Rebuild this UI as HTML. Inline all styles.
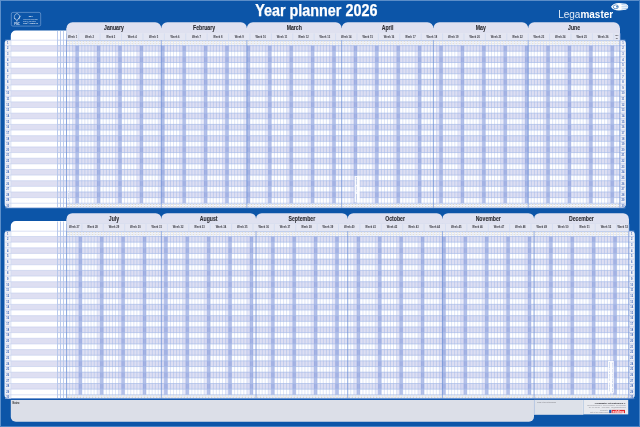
<!DOCTYPE html>
<html><head><meta charset="utf-8"><style>
html,body{margin:0;padding:0;width:640px;height:427px;overflow:hidden;background:#0c55a8;}
svg{display:block;font-family:"Liberation Sans", sans-serif;will-change:transform;}
</style></head><body>
<svg width="640" height="427" viewBox="0 0 640 427" font-family='"Liberation Sans", sans-serif'>
<rect x="0" y="0" width="640" height="427" fill="#0c55a8"/>
<rect x="0" y="0" width="640" height="1" fill="#5b8dc8"/>
<rect x="0" y="0" width="1" height="427" fill="#5d8fca"/>
<rect x="639" y="0" width="1" height="427" fill="#4a84c6"/>
<rect x="0" y="426" width="640" height="1" fill="#4a84c6"/>
<!-- title -->
<text x="255.2" y="15.9" font-size="16.2" font-weight="bold" fill="#ffffff" stroke="#ffffff" stroke-width="0.25" textLength="122.2" lengthAdjust="spacingAndGlyphs">Year planner 2026</text>
<!-- Legamaster -->
<text x="558.2" y="17.5" font-size="10.4" fill="#ffffff" textLength="55" lengthAdjust="spacingAndGlyphs"><tspan fill="#e4ecf7">Lega</tspan><tspan font-weight="bold">master</tspan></text>
<path d="M611,6.8 Q613,3 619,3 L626,3.8 Q628.5,5.5 628.3,6.8 Q628.5,8.2 626,9.8 L619,10.6 Q613,10.6 611,6.8 Z" fill="#ffffff"/>
<ellipse cx="615.8" cy="6.8" rx="2.6" ry="1.9" fill="none" stroke="#0c55a8" stroke-width="0.6"/>
<circle cx="617" cy="6.8" r="0.8" fill="#0c55a8"/>
<path d="M621.5,4.5 L627,5.2 M621.5,6.8 L628,6.8 M621.5,9.1 L627,8.4" stroke="#9cc0e8" stroke-width="0.8"/>
<!-- FSC -->
<rect x="11.3" y="12.4" width="29.4" height="13.7" rx="1.6" fill="none" stroke="#9dbbe2" stroke-width="0.5"/>
<path d="M15.0,19.2 C13.6,17.0 14.6,14.0 17.0,13.6 C19.4,14.0 20.4,17.0 19.0,19.2" stroke="#e6eef9" stroke-width="0.6" fill="none"/>
<path d="M14.4,18.0 L16.9,20.6 L20.6,15.8 M16.9,20.6 L16.9,21.6" stroke="#e6eef9" stroke-width="0.7" fill="none"/>
<text x="14.2" y="24.6" font-size="3.2" fill="#e6eef9" font-weight="bold" textLength="5.6" lengthAdjust="spacingAndGlyphs">FSC</text>
<text x="28.8" y="16.7" font-size="1.9" fill="#f0f5fb" font-weight="bold" textLength="3.9" lengthAdjust="spacingAndGlyphs">MIX</text>
<text x="23.2" y="19.7" font-size="1.9" fill="#d8e4f4" textLength="14.6" lengthAdjust="spacingAndGlyphs">Paper from responsible</text>
<text x="23.2" y="21.7" font-size="1.9" fill="#d8e4f4" textLength="12.6" lengthAdjust="spacingAndGlyphs">sources · FSC certified</text>
<text x="23.2" y="24.3" font-size="1.9" fill="#f0f5fb" font-weight="bold" textLength="14.6" lengthAdjust="spacingAndGlyphs">FSC® C106040</text>
<path d="M15.80,30.50 L66.50,30.50 L66.50,30.50 L66.50,207.80 L66.50,207.80 L10.80,207.80 L10.80,207.80 L10.80,35.50 A5.00,5.00 0 0 1 15.80,30.50 Z" fill="#ffffff" />
<rect x="66.50" y="40.20" width="553.40" height="167.60" fill="#ffffff" />
<path d="M7.50,40.20 L11.10,40.20 L11.10,40.20 L11.10,207.80 L11.10,207.80 L8.50,207.80 A3.80,3.80 0 0 1 4.70,204.00 L4.70,43.00 A2.80,2.80 0 0 1 7.50,40.20 Z" fill="#f0f1f7" />
<path d="M619.60,40.20 L622.70,40.20 A3.20,3.20 0 0 1 625.90,43.40 L625.90,204.00 A3.80,3.80 0 0 1 622.10,207.80 L619.60,207.80 L619.60,207.80 L619.60,40.20 L619.60,40.20 Z" fill="#f0f1f7" />
<rect x="10.80" y="45.60" width="609.10" height="5.63" fill="#dedff2" />
<rect x="10.80" y="56.86" width="609.10" height="5.63" fill="#dedff2" />
<rect x="10.80" y="68.12" width="609.10" height="5.63" fill="#dedff2" />
<rect x="10.80" y="79.38" width="609.10" height="5.63" fill="#dedff2" />
<rect x="10.80" y="90.64" width="609.10" height="5.63" fill="#dedff2" />
<rect x="10.80" y="101.90" width="609.10" height="5.63" fill="#dedff2" />
<rect x="10.80" y="113.16" width="609.10" height="5.63" fill="#dedff2" />
<rect x="10.80" y="124.42" width="609.10" height="5.63" fill="#dedff2" />
<rect x="10.80" y="135.68" width="609.10" height="5.63" fill="#dedff2" />
<rect x="10.80" y="146.94" width="609.10" height="5.63" fill="#dedff2" />
<rect x="10.80" y="158.20" width="609.10" height="5.63" fill="#dedff2" />
<rect x="10.80" y="169.46" width="609.10" height="5.63" fill="#dedff2" />
<rect x="10.80" y="180.72" width="609.10" height="5.63" fill="#dedff2" />
<rect x="10.80" y="191.98" width="609.10" height="5.63" fill="#dedff2" />
<line x1="66.50" y1="40.20" x2="66.50" y2="207.80" stroke="#c6d4f1" stroke-width="0.6" />
<line x1="69.56" y1="40.20" x2="69.56" y2="207.80" stroke="#c6d4f1" stroke-width="0.6" />
<line x1="72.61" y1="40.20" x2="72.61" y2="207.80" stroke="#c6d4f1" stroke-width="0.6" />
<line x1="75.67" y1="40.20" x2="75.67" y2="207.80" stroke="#c6d4f1" stroke-width="0.6" />
<line x1="78.73" y1="40.20" x2="78.73" y2="207.80" stroke="#c6d4f1" stroke-width="0.6" />
<line x1="81.79" y1="40.20" x2="81.79" y2="207.80" stroke="#c6d4f1" stroke-width="0.6" />
<line x1="84.84" y1="40.20" x2="84.84" y2="207.80" stroke="#c6d4f1" stroke-width="0.6" />
<line x1="87.90" y1="40.20" x2="87.90" y2="207.80" stroke="#c6d4f1" stroke-width="0.6" />
<line x1="90.96" y1="40.20" x2="90.96" y2="207.80" stroke="#c6d4f1" stroke-width="0.6" />
<line x1="94.02" y1="40.20" x2="94.02" y2="207.80" stroke="#c6d4f1" stroke-width="0.6" />
<line x1="97.07" y1="40.20" x2="97.07" y2="207.80" stroke="#c6d4f1" stroke-width="0.6" />
<line x1="100.13" y1="40.20" x2="100.13" y2="207.80" stroke="#c6d4f1" stroke-width="0.6" />
<line x1="103.19" y1="40.20" x2="103.19" y2="207.80" stroke="#c6d4f1" stroke-width="0.6" />
<line x1="106.25" y1="40.20" x2="106.25" y2="207.80" stroke="#c6d4f1" stroke-width="0.6" />
<line x1="109.30" y1="40.20" x2="109.30" y2="207.80" stroke="#c6d4f1" stroke-width="0.6" />
<line x1="112.36" y1="40.20" x2="112.36" y2="207.80" stroke="#c6d4f1" stroke-width="0.6" />
<line x1="115.42" y1="40.20" x2="115.42" y2="207.80" stroke="#c6d4f1" stroke-width="0.6" />
<line x1="118.48" y1="40.20" x2="118.48" y2="207.80" stroke="#c6d4f1" stroke-width="0.6" />
<line x1="121.53" y1="40.20" x2="121.53" y2="207.80" stroke="#c6d4f1" stroke-width="0.6" />
<line x1="124.59" y1="40.20" x2="124.59" y2="207.80" stroke="#c6d4f1" stroke-width="0.6" />
<line x1="127.65" y1="40.20" x2="127.65" y2="207.80" stroke="#c6d4f1" stroke-width="0.6" />
<line x1="130.71" y1="40.20" x2="130.71" y2="207.80" stroke="#c6d4f1" stroke-width="0.6" />
<line x1="133.76" y1="40.20" x2="133.76" y2="207.80" stroke="#c6d4f1" stroke-width="0.6" />
<line x1="136.82" y1="40.20" x2="136.82" y2="207.80" stroke="#c6d4f1" stroke-width="0.6" />
<line x1="139.88" y1="40.20" x2="139.88" y2="207.80" stroke="#c6d4f1" stroke-width="0.6" />
<line x1="142.94" y1="40.20" x2="142.94" y2="207.80" stroke="#c6d4f1" stroke-width="0.6" />
<line x1="145.99" y1="40.20" x2="145.99" y2="207.80" stroke="#c6d4f1" stroke-width="0.6" />
<line x1="149.05" y1="40.20" x2="149.05" y2="207.80" stroke="#c6d4f1" stroke-width="0.6" />
<line x1="152.11" y1="40.20" x2="152.11" y2="207.80" stroke="#c6d4f1" stroke-width="0.6" />
<line x1="155.17" y1="40.20" x2="155.17" y2="207.80" stroke="#c6d4f1" stroke-width="0.6" />
<line x1="158.22" y1="40.20" x2="158.22" y2="207.80" stroke="#c6d4f1" stroke-width="0.6" />
<line x1="161.28" y1="40.20" x2="161.28" y2="207.80" stroke="#c6d4f1" stroke-width="0.6" />
<line x1="164.34" y1="40.20" x2="164.34" y2="207.80" stroke="#c6d4f1" stroke-width="0.6" />
<line x1="167.40" y1="40.20" x2="167.40" y2="207.80" stroke="#c6d4f1" stroke-width="0.6" />
<line x1="170.45" y1="40.20" x2="170.45" y2="207.80" stroke="#c6d4f1" stroke-width="0.6" />
<line x1="173.51" y1="40.20" x2="173.51" y2="207.80" stroke="#c6d4f1" stroke-width="0.6" />
<line x1="176.57" y1="40.20" x2="176.57" y2="207.80" stroke="#c6d4f1" stroke-width="0.6" />
<line x1="179.63" y1="40.20" x2="179.63" y2="207.80" stroke="#c6d4f1" stroke-width="0.6" />
<line x1="182.68" y1="40.20" x2="182.68" y2="207.80" stroke="#c6d4f1" stroke-width="0.6" />
<line x1="185.74" y1="40.20" x2="185.74" y2="207.80" stroke="#c6d4f1" stroke-width="0.6" />
<line x1="188.80" y1="40.20" x2="188.80" y2="207.80" stroke="#c6d4f1" stroke-width="0.6" />
<line x1="191.86" y1="40.20" x2="191.86" y2="207.80" stroke="#c6d4f1" stroke-width="0.6" />
<line x1="194.91" y1="40.20" x2="194.91" y2="207.80" stroke="#c6d4f1" stroke-width="0.6" />
<line x1="197.97" y1="40.20" x2="197.97" y2="207.80" stroke="#c6d4f1" stroke-width="0.6" />
<line x1="201.03" y1="40.20" x2="201.03" y2="207.80" stroke="#c6d4f1" stroke-width="0.6" />
<line x1="204.09" y1="40.20" x2="204.09" y2="207.80" stroke="#c6d4f1" stroke-width="0.6" />
<line x1="207.14" y1="40.20" x2="207.14" y2="207.80" stroke="#c6d4f1" stroke-width="0.6" />
<line x1="210.20" y1="40.20" x2="210.20" y2="207.80" stroke="#c6d4f1" stroke-width="0.6" />
<line x1="213.26" y1="40.20" x2="213.26" y2="207.80" stroke="#c6d4f1" stroke-width="0.6" />
<line x1="216.32" y1="40.20" x2="216.32" y2="207.80" stroke="#c6d4f1" stroke-width="0.6" />
<line x1="219.37" y1="40.20" x2="219.37" y2="207.80" stroke="#c6d4f1" stroke-width="0.6" />
<line x1="222.43" y1="40.20" x2="222.43" y2="207.80" stroke="#c6d4f1" stroke-width="0.6" />
<line x1="225.49" y1="40.20" x2="225.49" y2="207.80" stroke="#c6d4f1" stroke-width="0.6" />
<line x1="228.55" y1="40.20" x2="228.55" y2="207.80" stroke="#c6d4f1" stroke-width="0.6" />
<line x1="231.60" y1="40.20" x2="231.60" y2="207.80" stroke="#c6d4f1" stroke-width="0.6" />
<line x1="234.66" y1="40.20" x2="234.66" y2="207.80" stroke="#c6d4f1" stroke-width="0.6" />
<line x1="237.72" y1="40.20" x2="237.72" y2="207.80" stroke="#c6d4f1" stroke-width="0.6" />
<line x1="240.78" y1="40.20" x2="240.78" y2="207.80" stroke="#c6d4f1" stroke-width="0.6" />
<line x1="243.83" y1="40.20" x2="243.83" y2="207.80" stroke="#c6d4f1" stroke-width="0.6" />
<line x1="246.89" y1="40.20" x2="246.89" y2="207.80" stroke="#c6d4f1" stroke-width="0.6" />
<line x1="249.95" y1="40.20" x2="249.95" y2="207.80" stroke="#c6d4f1" stroke-width="0.6" />
<line x1="253.00" y1="40.20" x2="253.00" y2="207.80" stroke="#c6d4f1" stroke-width="0.6" />
<line x1="256.06" y1="40.20" x2="256.06" y2="207.80" stroke="#c6d4f1" stroke-width="0.6" />
<line x1="259.12" y1="40.20" x2="259.12" y2="207.80" stroke="#c6d4f1" stroke-width="0.6" />
<line x1="262.18" y1="40.20" x2="262.18" y2="207.80" stroke="#c6d4f1" stroke-width="0.6" />
<line x1="265.23" y1="40.20" x2="265.23" y2="207.80" stroke="#c6d4f1" stroke-width="0.6" />
<line x1="268.29" y1="40.20" x2="268.29" y2="207.80" stroke="#c6d4f1" stroke-width="0.6" />
<line x1="271.35" y1="40.20" x2="271.35" y2="207.80" stroke="#c6d4f1" stroke-width="0.6" />
<line x1="274.41" y1="40.20" x2="274.41" y2="207.80" stroke="#c6d4f1" stroke-width="0.6" />
<line x1="277.46" y1="40.20" x2="277.46" y2="207.80" stroke="#c6d4f1" stroke-width="0.6" />
<line x1="280.52" y1="40.20" x2="280.52" y2="207.80" stroke="#c6d4f1" stroke-width="0.6" />
<line x1="283.58" y1="40.20" x2="283.58" y2="207.80" stroke="#c6d4f1" stroke-width="0.6" />
<line x1="286.64" y1="40.20" x2="286.64" y2="207.80" stroke="#c6d4f1" stroke-width="0.6" />
<line x1="289.69" y1="40.20" x2="289.69" y2="207.80" stroke="#c6d4f1" stroke-width="0.6" />
<line x1="292.75" y1="40.20" x2="292.75" y2="207.80" stroke="#c6d4f1" stroke-width="0.6" />
<line x1="295.81" y1="40.20" x2="295.81" y2="207.80" stroke="#c6d4f1" stroke-width="0.6" />
<line x1="298.87" y1="40.20" x2="298.87" y2="207.80" stroke="#c6d4f1" stroke-width="0.6" />
<line x1="301.92" y1="40.20" x2="301.92" y2="207.80" stroke="#c6d4f1" stroke-width="0.6" />
<line x1="304.98" y1="40.20" x2="304.98" y2="207.80" stroke="#c6d4f1" stroke-width="0.6" />
<line x1="308.04" y1="40.20" x2="308.04" y2="207.80" stroke="#c6d4f1" stroke-width="0.6" />
<line x1="311.10" y1="40.20" x2="311.10" y2="207.80" stroke="#c6d4f1" stroke-width="0.6" />
<line x1="314.15" y1="40.20" x2="314.15" y2="207.80" stroke="#c6d4f1" stroke-width="0.6" />
<line x1="317.21" y1="40.20" x2="317.21" y2="207.80" stroke="#c6d4f1" stroke-width="0.6" />
<line x1="320.27" y1="40.20" x2="320.27" y2="207.80" stroke="#c6d4f1" stroke-width="0.6" />
<line x1="323.33" y1="40.20" x2="323.33" y2="207.80" stroke="#c6d4f1" stroke-width="0.6" />
<line x1="326.38" y1="40.20" x2="326.38" y2="207.80" stroke="#c6d4f1" stroke-width="0.6" />
<line x1="329.44" y1="40.20" x2="329.44" y2="207.80" stroke="#c6d4f1" stroke-width="0.6" />
<line x1="332.50" y1="40.20" x2="332.50" y2="207.80" stroke="#c6d4f1" stroke-width="0.6" />
<line x1="335.56" y1="40.20" x2="335.56" y2="207.80" stroke="#c6d4f1" stroke-width="0.6" />
<line x1="338.61" y1="40.20" x2="338.61" y2="207.80" stroke="#c6d4f1" stroke-width="0.6" />
<line x1="341.67" y1="40.20" x2="341.67" y2="207.80" stroke="#c6d4f1" stroke-width="0.6" />
<line x1="344.73" y1="40.20" x2="344.73" y2="207.80" stroke="#c6d4f1" stroke-width="0.6" />
<line x1="347.79" y1="40.20" x2="347.79" y2="207.80" stroke="#c6d4f1" stroke-width="0.6" />
<line x1="350.84" y1="40.20" x2="350.84" y2="207.80" stroke="#c6d4f1" stroke-width="0.6" />
<line x1="353.90" y1="40.20" x2="353.90" y2="207.80" stroke="#c6d4f1" stroke-width="0.6" />
<line x1="356.96" y1="40.20" x2="356.96" y2="207.80" stroke="#c6d4f1" stroke-width="0.6" />
<line x1="360.02" y1="40.20" x2="360.02" y2="207.80" stroke="#c6d4f1" stroke-width="0.6" />
<line x1="363.07" y1="40.20" x2="363.07" y2="207.80" stroke="#c6d4f1" stroke-width="0.6" />
<line x1="366.13" y1="40.20" x2="366.13" y2="207.80" stroke="#c6d4f1" stroke-width="0.6" />
<line x1="369.19" y1="40.20" x2="369.19" y2="207.80" stroke="#c6d4f1" stroke-width="0.6" />
<line x1="372.25" y1="40.20" x2="372.25" y2="207.80" stroke="#c6d4f1" stroke-width="0.6" />
<line x1="375.30" y1="40.20" x2="375.30" y2="207.80" stroke="#c6d4f1" stroke-width="0.6" />
<line x1="378.36" y1="40.20" x2="378.36" y2="207.80" stroke="#c6d4f1" stroke-width="0.6" />
<line x1="381.42" y1="40.20" x2="381.42" y2="207.80" stroke="#c6d4f1" stroke-width="0.6" />
<line x1="384.48" y1="40.20" x2="384.48" y2="207.80" stroke="#c6d4f1" stroke-width="0.6" />
<line x1="387.53" y1="40.20" x2="387.53" y2="207.80" stroke="#c6d4f1" stroke-width="0.6" />
<line x1="390.59" y1="40.20" x2="390.59" y2="207.80" stroke="#c6d4f1" stroke-width="0.6" />
<line x1="393.65" y1="40.20" x2="393.65" y2="207.80" stroke="#c6d4f1" stroke-width="0.6" />
<line x1="396.71" y1="40.20" x2="396.71" y2="207.80" stroke="#c6d4f1" stroke-width="0.6" />
<line x1="399.76" y1="40.20" x2="399.76" y2="207.80" stroke="#c6d4f1" stroke-width="0.6" />
<line x1="402.82" y1="40.20" x2="402.82" y2="207.80" stroke="#c6d4f1" stroke-width="0.6" />
<line x1="405.88" y1="40.20" x2="405.88" y2="207.80" stroke="#c6d4f1" stroke-width="0.6" />
<line x1="408.94" y1="40.20" x2="408.94" y2="207.80" stroke="#c6d4f1" stroke-width="0.6" />
<line x1="411.99" y1="40.20" x2="411.99" y2="207.80" stroke="#c6d4f1" stroke-width="0.6" />
<line x1="415.05" y1="40.20" x2="415.05" y2="207.80" stroke="#c6d4f1" stroke-width="0.6" />
<line x1="418.11" y1="40.20" x2="418.11" y2="207.80" stroke="#c6d4f1" stroke-width="0.6" />
<line x1="421.17" y1="40.20" x2="421.17" y2="207.80" stroke="#c6d4f1" stroke-width="0.6" />
<line x1="424.22" y1="40.20" x2="424.22" y2="207.80" stroke="#c6d4f1" stroke-width="0.6" />
<line x1="427.28" y1="40.20" x2="427.28" y2="207.80" stroke="#c6d4f1" stroke-width="0.6" />
<line x1="430.34" y1="40.20" x2="430.34" y2="207.80" stroke="#c6d4f1" stroke-width="0.6" />
<line x1="433.40" y1="40.20" x2="433.40" y2="207.80" stroke="#c6d4f1" stroke-width="0.6" />
<line x1="436.45" y1="40.20" x2="436.45" y2="207.80" stroke="#c6d4f1" stroke-width="0.6" />
<line x1="439.51" y1="40.20" x2="439.51" y2="207.80" stroke="#c6d4f1" stroke-width="0.6" />
<line x1="442.57" y1="40.20" x2="442.57" y2="207.80" stroke="#c6d4f1" stroke-width="0.6" />
<line x1="445.62" y1="40.20" x2="445.62" y2="207.80" stroke="#c6d4f1" stroke-width="0.6" />
<line x1="448.68" y1="40.20" x2="448.68" y2="207.80" stroke="#c6d4f1" stroke-width="0.6" />
<line x1="451.74" y1="40.20" x2="451.74" y2="207.80" stroke="#c6d4f1" stroke-width="0.6" />
<line x1="454.80" y1="40.20" x2="454.80" y2="207.80" stroke="#c6d4f1" stroke-width="0.6" />
<line x1="457.85" y1="40.20" x2="457.85" y2="207.80" stroke="#c6d4f1" stroke-width="0.6" />
<line x1="460.91" y1="40.20" x2="460.91" y2="207.80" stroke="#c6d4f1" stroke-width="0.6" />
<line x1="463.97" y1="40.20" x2="463.97" y2="207.80" stroke="#c6d4f1" stroke-width="0.6" />
<line x1="467.03" y1="40.20" x2="467.03" y2="207.80" stroke="#c6d4f1" stroke-width="0.6" />
<line x1="470.08" y1="40.20" x2="470.08" y2="207.80" stroke="#c6d4f1" stroke-width="0.6" />
<line x1="473.14" y1="40.20" x2="473.14" y2="207.80" stroke="#c6d4f1" stroke-width="0.6" />
<line x1="476.20" y1="40.20" x2="476.20" y2="207.80" stroke="#c6d4f1" stroke-width="0.6" />
<line x1="479.26" y1="40.20" x2="479.26" y2="207.80" stroke="#c6d4f1" stroke-width="0.6" />
<line x1="482.31" y1="40.20" x2="482.31" y2="207.80" stroke="#c6d4f1" stroke-width="0.6" />
<line x1="485.37" y1="40.20" x2="485.37" y2="207.80" stroke="#c6d4f1" stroke-width="0.6" />
<line x1="488.43" y1="40.20" x2="488.43" y2="207.80" stroke="#c6d4f1" stroke-width="0.6" />
<line x1="491.49" y1="40.20" x2="491.49" y2="207.80" stroke="#c6d4f1" stroke-width="0.6" />
<line x1="494.54" y1="40.20" x2="494.54" y2="207.80" stroke="#c6d4f1" stroke-width="0.6" />
<line x1="497.60" y1="40.20" x2="497.60" y2="207.80" stroke="#c6d4f1" stroke-width="0.6" />
<line x1="500.66" y1="40.20" x2="500.66" y2="207.80" stroke="#c6d4f1" stroke-width="0.6" />
<line x1="503.72" y1="40.20" x2="503.72" y2="207.80" stroke="#c6d4f1" stroke-width="0.6" />
<line x1="506.77" y1="40.20" x2="506.77" y2="207.80" stroke="#c6d4f1" stroke-width="0.6" />
<line x1="509.83" y1="40.20" x2="509.83" y2="207.80" stroke="#c6d4f1" stroke-width="0.6" />
<line x1="512.89" y1="40.20" x2="512.89" y2="207.80" stroke="#c6d4f1" stroke-width="0.6" />
<line x1="515.95" y1="40.20" x2="515.95" y2="207.80" stroke="#c6d4f1" stroke-width="0.6" />
<line x1="519.00" y1="40.20" x2="519.00" y2="207.80" stroke="#c6d4f1" stroke-width="0.6" />
<line x1="522.06" y1="40.20" x2="522.06" y2="207.80" stroke="#c6d4f1" stroke-width="0.6" />
<line x1="525.12" y1="40.20" x2="525.12" y2="207.80" stroke="#c6d4f1" stroke-width="0.6" />
<line x1="528.18" y1="40.20" x2="528.18" y2="207.80" stroke="#c6d4f1" stroke-width="0.6" />
<line x1="531.23" y1="40.20" x2="531.23" y2="207.80" stroke="#c6d4f1" stroke-width="0.6" />
<line x1="534.29" y1="40.20" x2="534.29" y2="207.80" stroke="#c6d4f1" stroke-width="0.6" />
<line x1="537.35" y1="40.20" x2="537.35" y2="207.80" stroke="#c6d4f1" stroke-width="0.6" />
<line x1="540.41" y1="40.20" x2="540.41" y2="207.80" stroke="#c6d4f1" stroke-width="0.6" />
<line x1="543.46" y1="40.20" x2="543.46" y2="207.80" stroke="#c6d4f1" stroke-width="0.6" />
<line x1="546.52" y1="40.20" x2="546.52" y2="207.80" stroke="#c6d4f1" stroke-width="0.6" />
<line x1="549.58" y1="40.20" x2="549.58" y2="207.80" stroke="#c6d4f1" stroke-width="0.6" />
<line x1="552.64" y1="40.20" x2="552.64" y2="207.80" stroke="#c6d4f1" stroke-width="0.6" />
<line x1="555.69" y1="40.20" x2="555.69" y2="207.80" stroke="#c6d4f1" stroke-width="0.6" />
<line x1="558.75" y1="40.20" x2="558.75" y2="207.80" stroke="#c6d4f1" stroke-width="0.6" />
<line x1="561.81" y1="40.20" x2="561.81" y2="207.80" stroke="#c6d4f1" stroke-width="0.6" />
<line x1="564.87" y1="40.20" x2="564.87" y2="207.80" stroke="#c6d4f1" stroke-width="0.6" />
<line x1="567.92" y1="40.20" x2="567.92" y2="207.80" stroke="#c6d4f1" stroke-width="0.6" />
<line x1="570.98" y1="40.20" x2="570.98" y2="207.80" stroke="#c6d4f1" stroke-width="0.6" />
<line x1="574.04" y1="40.20" x2="574.04" y2="207.80" stroke="#c6d4f1" stroke-width="0.6" />
<line x1="577.10" y1="40.20" x2="577.10" y2="207.80" stroke="#c6d4f1" stroke-width="0.6" />
<line x1="580.15" y1="40.20" x2="580.15" y2="207.80" stroke="#c6d4f1" stroke-width="0.6" />
<line x1="583.21" y1="40.20" x2="583.21" y2="207.80" stroke="#c6d4f1" stroke-width="0.6" />
<line x1="586.27" y1="40.20" x2="586.27" y2="207.80" stroke="#c6d4f1" stroke-width="0.6" />
<line x1="589.33" y1="40.20" x2="589.33" y2="207.80" stroke="#c6d4f1" stroke-width="0.6" />
<line x1="592.38" y1="40.20" x2="592.38" y2="207.80" stroke="#c6d4f1" stroke-width="0.6" />
<line x1="595.44" y1="40.20" x2="595.44" y2="207.80" stroke="#c6d4f1" stroke-width="0.6" />
<line x1="598.50" y1="40.20" x2="598.50" y2="207.80" stroke="#c6d4f1" stroke-width="0.6" />
<line x1="601.56" y1="40.20" x2="601.56" y2="207.80" stroke="#c6d4f1" stroke-width="0.6" />
<line x1="604.61" y1="40.20" x2="604.61" y2="207.80" stroke="#c6d4f1" stroke-width="0.6" />
<line x1="607.67" y1="40.20" x2="607.67" y2="207.80" stroke="#c6d4f1" stroke-width="0.6" />
<line x1="610.73" y1="40.20" x2="610.73" y2="207.80" stroke="#c6d4f1" stroke-width="0.6" />
<line x1="613.79" y1="40.20" x2="613.79" y2="207.80" stroke="#c6d4f1" stroke-width="0.6" />
<line x1="616.84" y1="40.20" x2="616.84" y2="207.80" stroke="#c6d4f1" stroke-width="0.6" />
<line x1="619.90" y1="40.20" x2="619.90" y2="207.80" stroke="#c6d4f1" stroke-width="0.6" />
<defs><pattern id="pat1" patternUnits="userSpaceOnUse" x="66.200" y="0" width="3.0575" height="10"><rect x="0" y="0" width="0.6" height="10" fill="#b8c6ec"/></pattern></defs>
<rect x="66.50" y="45.60" width="553.40" height="5.63" fill="url(#pat1)" />
<rect x="66.50" y="56.86" width="553.40" height="5.63" fill="url(#pat1)" />
<rect x="66.50" y="68.12" width="553.40" height="5.63" fill="url(#pat1)" />
<rect x="66.50" y="79.38" width="553.40" height="5.63" fill="url(#pat1)" />
<rect x="66.50" y="90.64" width="553.40" height="5.63" fill="url(#pat1)" />
<rect x="66.50" y="101.90" width="553.40" height="5.63" fill="url(#pat1)" />
<rect x="66.50" y="113.16" width="553.40" height="5.63" fill="url(#pat1)" />
<rect x="66.50" y="124.42" width="553.40" height="5.63" fill="url(#pat1)" />
<rect x="66.50" y="135.68" width="553.40" height="5.63" fill="url(#pat1)" />
<rect x="66.50" y="146.94" width="553.40" height="5.63" fill="url(#pat1)" />
<rect x="66.50" y="158.20" width="553.40" height="5.63" fill="url(#pat1)" />
<rect x="66.50" y="169.46" width="553.40" height="5.63" fill="url(#pat1)" />
<rect x="66.50" y="180.72" width="553.40" height="5.63" fill="url(#pat1)" />
<rect x="66.50" y="191.98" width="553.40" height="5.63" fill="url(#pat1)" />
<rect x="72.61" y="45.60" width="3.06" height="157.64" fill="#c4c6ee" fill-opacity="0.35"/>
<rect x="75.67" y="45.60" width="3.06" height="157.64" fill="#7088d4" fill-opacity="0.52"/>
<rect x="94.02" y="45.60" width="3.06" height="157.64" fill="#c4c6ee" fill-opacity="0.35"/>
<rect x="97.07" y="45.60" width="3.06" height="157.64" fill="#7088d4" fill-opacity="0.52"/>
<rect x="115.42" y="45.60" width="3.06" height="157.64" fill="#c4c6ee" fill-opacity="0.35"/>
<rect x="118.48" y="45.60" width="3.06" height="157.64" fill="#7088d4" fill-opacity="0.52"/>
<rect x="136.82" y="45.60" width="3.06" height="157.64" fill="#c4c6ee" fill-opacity="0.35"/>
<rect x="139.88" y="45.60" width="3.06" height="157.64" fill="#7088d4" fill-opacity="0.52"/>
<rect x="158.22" y="45.60" width="3.06" height="157.64" fill="#c4c6ee" fill-opacity="0.35"/>
<rect x="161.28" y="45.60" width="3.06" height="157.64" fill="#7088d4" fill-opacity="0.52"/>
<rect x="179.63" y="45.60" width="3.06" height="157.64" fill="#c4c6ee" fill-opacity="0.35"/>
<rect x="182.68" y="45.60" width="3.06" height="157.64" fill="#7088d4" fill-opacity="0.52"/>
<rect x="201.03" y="45.60" width="3.06" height="157.64" fill="#c4c6ee" fill-opacity="0.35"/>
<rect x="204.09" y="45.60" width="3.06" height="157.64" fill="#7088d4" fill-opacity="0.52"/>
<rect x="222.43" y="45.60" width="3.06" height="157.64" fill="#c4c6ee" fill-opacity="0.35"/>
<rect x="225.49" y="45.60" width="3.06" height="157.64" fill="#7088d4" fill-opacity="0.52"/>
<rect x="243.83" y="45.60" width="3.06" height="157.64" fill="#c4c6ee" fill-opacity="0.35"/>
<rect x="246.89" y="45.60" width="3.06" height="157.64" fill="#7088d4" fill-opacity="0.52"/>
<rect x="265.23" y="45.60" width="3.06" height="157.64" fill="#c4c6ee" fill-opacity="0.35"/>
<rect x="268.29" y="45.60" width="3.06" height="157.64" fill="#7088d4" fill-opacity="0.52"/>
<rect x="286.64" y="45.60" width="3.06" height="157.64" fill="#c4c6ee" fill-opacity="0.35"/>
<rect x="289.69" y="45.60" width="3.06" height="157.64" fill="#7088d4" fill-opacity="0.52"/>
<rect x="308.04" y="45.60" width="3.06" height="157.64" fill="#c4c6ee" fill-opacity="0.35"/>
<rect x="311.10" y="45.60" width="3.06" height="157.64" fill="#7088d4" fill-opacity="0.52"/>
<rect x="329.44" y="45.60" width="3.06" height="157.64" fill="#c4c6ee" fill-opacity="0.35"/>
<rect x="332.50" y="45.60" width="3.06" height="157.64" fill="#7088d4" fill-opacity="0.52"/>
<rect x="350.84" y="45.60" width="3.06" height="157.64" fill="#c4c6ee" fill-opacity="0.35"/>
<rect x="353.90" y="45.60" width="3.06" height="157.64" fill="#7088d4" fill-opacity="0.52"/>
<rect x="372.25" y="45.60" width="3.06" height="157.64" fill="#c4c6ee" fill-opacity="0.35"/>
<rect x="375.30" y="45.60" width="3.06" height="157.64" fill="#7088d4" fill-opacity="0.52"/>
<rect x="393.65" y="45.60" width="3.06" height="157.64" fill="#c4c6ee" fill-opacity="0.35"/>
<rect x="396.71" y="45.60" width="3.06" height="157.64" fill="#7088d4" fill-opacity="0.52"/>
<rect x="415.05" y="45.60" width="3.06" height="157.64" fill="#c4c6ee" fill-opacity="0.35"/>
<rect x="418.11" y="45.60" width="3.06" height="157.64" fill="#7088d4" fill-opacity="0.52"/>
<rect x="436.45" y="45.60" width="3.06" height="157.64" fill="#c4c6ee" fill-opacity="0.35"/>
<rect x="439.51" y="45.60" width="3.06" height="157.64" fill="#7088d4" fill-opacity="0.52"/>
<rect x="457.85" y="45.60" width="3.06" height="157.64" fill="#c4c6ee" fill-opacity="0.35"/>
<rect x="460.91" y="45.60" width="3.06" height="157.64" fill="#7088d4" fill-opacity="0.52"/>
<rect x="479.26" y="45.60" width="3.06" height="157.64" fill="#c4c6ee" fill-opacity="0.35"/>
<rect x="482.31" y="45.60" width="3.06" height="157.64" fill="#7088d4" fill-opacity="0.52"/>
<rect x="500.66" y="45.60" width="3.06" height="157.64" fill="#c4c6ee" fill-opacity="0.35"/>
<rect x="503.72" y="45.60" width="3.06" height="157.64" fill="#7088d4" fill-opacity="0.52"/>
<rect x="522.06" y="45.60" width="3.06" height="157.64" fill="#c4c6ee" fill-opacity="0.35"/>
<rect x="525.12" y="45.60" width="3.06" height="157.64" fill="#7088d4" fill-opacity="0.52"/>
<rect x="543.46" y="45.60" width="3.06" height="157.64" fill="#c4c6ee" fill-opacity="0.35"/>
<rect x="546.52" y="45.60" width="3.06" height="157.64" fill="#7088d4" fill-opacity="0.52"/>
<rect x="564.87" y="45.60" width="3.06" height="157.64" fill="#c4c6ee" fill-opacity="0.35"/>
<rect x="567.92" y="45.60" width="3.06" height="157.64" fill="#7088d4" fill-opacity="0.52"/>
<rect x="586.27" y="45.60" width="3.06" height="157.64" fill="#c4c6ee" fill-opacity="0.35"/>
<rect x="589.33" y="45.60" width="3.06" height="157.64" fill="#7088d4" fill-opacity="0.52"/>
<rect x="607.67" y="45.60" width="3.06" height="157.64" fill="#c4c6ee" fill-opacity="0.35"/>
<rect x="610.73" y="45.60" width="3.06" height="157.64" fill="#7088d4" fill-opacity="0.52"/>
<line x1="5.20" y1="40.20" x2="57.50" y2="40.20" stroke="#c3cdec" stroke-width="0.6" />
<line x1="57.50" y1="40.20" x2="625.40" y2="40.20" stroke="#a6b9e6" stroke-width="0.65" />
<line x1="5.20" y1="45.60" x2="57.50" y2="45.60" stroke="#c3cdec" stroke-width="0.6" />
<line x1="57.50" y1="45.60" x2="625.40" y2="45.60" stroke="#a6b9e6" stroke-width="0.65" />
<line x1="5.20" y1="51.23" x2="57.50" y2="51.23" stroke="#c3cdec" stroke-width="0.6" />
<line x1="57.50" y1="51.23" x2="625.40" y2="51.23" stroke="#a6b9e6" stroke-width="0.65" />
<line x1="5.20" y1="56.86" x2="57.50" y2="56.86" stroke="#c3cdec" stroke-width="0.6" />
<line x1="57.50" y1="56.86" x2="625.40" y2="56.86" stroke="#a6b9e6" stroke-width="0.65" />
<line x1="5.20" y1="62.49" x2="57.50" y2="62.49" stroke="#c3cdec" stroke-width="0.6" />
<line x1="57.50" y1="62.49" x2="625.40" y2="62.49" stroke="#a6b9e6" stroke-width="0.65" />
<line x1="5.20" y1="68.12" x2="57.50" y2="68.12" stroke="#c3cdec" stroke-width="0.6" />
<line x1="57.50" y1="68.12" x2="625.40" y2="68.12" stroke="#a6b9e6" stroke-width="0.65" />
<line x1="5.20" y1="73.75" x2="57.50" y2="73.75" stroke="#c3cdec" stroke-width="0.6" />
<line x1="57.50" y1="73.75" x2="625.40" y2="73.75" stroke="#a6b9e6" stroke-width="0.65" />
<line x1="5.20" y1="79.38" x2="57.50" y2="79.38" stroke="#c3cdec" stroke-width="0.6" />
<line x1="57.50" y1="79.38" x2="625.40" y2="79.38" stroke="#a6b9e6" stroke-width="0.65" />
<line x1="5.20" y1="85.01" x2="57.50" y2="85.01" stroke="#c3cdec" stroke-width="0.6" />
<line x1="57.50" y1="85.01" x2="625.40" y2="85.01" stroke="#a6b9e6" stroke-width="0.65" />
<line x1="5.20" y1="90.64" x2="57.50" y2="90.64" stroke="#c3cdec" stroke-width="0.6" />
<line x1="57.50" y1="90.64" x2="625.40" y2="90.64" stroke="#a6b9e6" stroke-width="0.65" />
<line x1="5.20" y1="96.27" x2="57.50" y2="96.27" stroke="#c3cdec" stroke-width="0.6" />
<line x1="57.50" y1="96.27" x2="625.40" y2="96.27" stroke="#a6b9e6" stroke-width="0.65" />
<line x1="5.20" y1="101.90" x2="57.50" y2="101.90" stroke="#c3cdec" stroke-width="0.6" />
<line x1="57.50" y1="101.90" x2="625.40" y2="101.90" stroke="#a6b9e6" stroke-width="0.65" />
<line x1="5.20" y1="107.53" x2="57.50" y2="107.53" stroke="#c3cdec" stroke-width="0.6" />
<line x1="57.50" y1="107.53" x2="625.40" y2="107.53" stroke="#a6b9e6" stroke-width="0.65" />
<line x1="5.20" y1="113.16" x2="57.50" y2="113.16" stroke="#c3cdec" stroke-width="0.6" />
<line x1="57.50" y1="113.16" x2="625.40" y2="113.16" stroke="#a6b9e6" stroke-width="0.65" />
<line x1="5.20" y1="118.79" x2="57.50" y2="118.79" stroke="#c3cdec" stroke-width="0.6" />
<line x1="57.50" y1="118.79" x2="625.40" y2="118.79" stroke="#a6b9e6" stroke-width="0.65" />
<line x1="5.20" y1="124.42" x2="57.50" y2="124.42" stroke="#c3cdec" stroke-width="0.6" />
<line x1="57.50" y1="124.42" x2="625.40" y2="124.42" stroke="#a6b9e6" stroke-width="0.65" />
<line x1="5.20" y1="130.05" x2="57.50" y2="130.05" stroke="#c3cdec" stroke-width="0.6" />
<line x1="57.50" y1="130.05" x2="625.40" y2="130.05" stroke="#a6b9e6" stroke-width="0.65" />
<line x1="5.20" y1="135.68" x2="57.50" y2="135.68" stroke="#c3cdec" stroke-width="0.6" />
<line x1="57.50" y1="135.68" x2="625.40" y2="135.68" stroke="#a6b9e6" stroke-width="0.65" />
<line x1="5.20" y1="141.31" x2="57.50" y2="141.31" stroke="#c3cdec" stroke-width="0.6" />
<line x1="57.50" y1="141.31" x2="625.40" y2="141.31" stroke="#a6b9e6" stroke-width="0.65" />
<line x1="5.20" y1="146.94" x2="57.50" y2="146.94" stroke="#c3cdec" stroke-width="0.6" />
<line x1="57.50" y1="146.94" x2="625.40" y2="146.94" stroke="#a6b9e6" stroke-width="0.65" />
<line x1="5.20" y1="152.57" x2="57.50" y2="152.57" stroke="#c3cdec" stroke-width="0.6" />
<line x1="57.50" y1="152.57" x2="625.40" y2="152.57" stroke="#a6b9e6" stroke-width="0.65" />
<line x1="5.20" y1="158.20" x2="57.50" y2="158.20" stroke="#c3cdec" stroke-width="0.6" />
<line x1="57.50" y1="158.20" x2="625.40" y2="158.20" stroke="#a6b9e6" stroke-width="0.65" />
<line x1="5.20" y1="163.83" x2="57.50" y2="163.83" stroke="#c3cdec" stroke-width="0.6" />
<line x1="57.50" y1="163.83" x2="625.40" y2="163.83" stroke="#a6b9e6" stroke-width="0.65" />
<line x1="5.20" y1="169.46" x2="57.50" y2="169.46" stroke="#c3cdec" stroke-width="0.6" />
<line x1="57.50" y1="169.46" x2="625.40" y2="169.46" stroke="#a6b9e6" stroke-width="0.65" />
<line x1="5.20" y1="175.09" x2="57.50" y2="175.09" stroke="#c3cdec" stroke-width="0.6" />
<line x1="57.50" y1="175.09" x2="625.40" y2="175.09" stroke="#a6b9e6" stroke-width="0.65" />
<line x1="5.20" y1="180.72" x2="57.50" y2="180.72" stroke="#c3cdec" stroke-width="0.6" />
<line x1="57.50" y1="180.72" x2="625.40" y2="180.72" stroke="#a6b9e6" stroke-width="0.65" />
<line x1="5.20" y1="186.35" x2="57.50" y2="186.35" stroke="#c3cdec" stroke-width="0.6" />
<line x1="57.50" y1="186.35" x2="625.40" y2="186.35" stroke="#a6b9e6" stroke-width="0.65" />
<line x1="5.20" y1="191.98" x2="57.50" y2="191.98" stroke="#c3cdec" stroke-width="0.6" />
<line x1="57.50" y1="191.98" x2="625.40" y2="191.98" stroke="#a6b9e6" stroke-width="0.65" />
<line x1="5.20" y1="197.61" x2="57.50" y2="197.61" stroke="#c3cdec" stroke-width="0.6" />
<line x1="57.50" y1="197.61" x2="625.40" y2="197.61" stroke="#a6b9e6" stroke-width="0.65" />
<line x1="5.20" y1="203.24" x2="57.50" y2="203.24" stroke="#c3cdec" stroke-width="0.6" />
<line x1="57.50" y1="203.24" x2="625.40" y2="203.24" stroke="#a6b9e6" stroke-width="0.65" />
<line x1="5.20" y1="207.80" x2="57.50" y2="207.80" stroke="#c3cdec" stroke-width="0.6" />
<line x1="57.50" y1="207.80" x2="625.40" y2="207.80" stroke="#a6b9e6" stroke-width="0.65" />
<line x1="57.50" y1="31.00" x2="57.50" y2="207.80" stroke="#b3c5ea" stroke-width="0.9" />
<line x1="60.50" y1="31.00" x2="60.50" y2="207.80" stroke="#b3c5ea" stroke-width="0.9" />
<line x1="63.50" y1="31.00" x2="63.50" y2="207.80" stroke="#b3c5ea" stroke-width="0.9" />
<line x1="11.00" y1="40.20" x2="11.00" y2="207.80" stroke="#c6d4f1" stroke-width="0.5" />
<line x1="66.50" y1="33.00" x2="66.50" y2="207.80" stroke="#6489d2" stroke-width="0.6" />
<line x1="161.28" y1="33.00" x2="161.28" y2="207.80" stroke="#6489d2" stroke-width="0.6" />
<line x1="246.89" y1="33.00" x2="246.89" y2="207.80" stroke="#6489d2" stroke-width="0.6" />
<line x1="341.67" y1="33.00" x2="341.67" y2="207.80" stroke="#6489d2" stroke-width="0.6" />
<line x1="433.40" y1="33.00" x2="433.40" y2="207.80" stroke="#6489d2" stroke-width="0.6" />
<line x1="528.18" y1="33.00" x2="528.18" y2="207.80" stroke="#6489d2" stroke-width="0.6" />
<line x1="619.90" y1="33.00" x2="619.90" y2="207.80" stroke="#6489d2" stroke-width="0.6" />
<rect x="67.30" y="41.39" width="1.46" height="0.80" fill="#a39a8c" fill-opacity="0.55"/>
<rect x="67.30" y="43.44" width="1.46" height="0.80" fill="#a39a8c" fill-opacity="0.55"/>
<rect x="67.30" y="204.24" width="1.46" height="0.80" fill="#a39a8c" fill-opacity="0.55"/>
<rect x="67.30" y="205.98" width="1.46" height="0.80" fill="#a39a8c" fill-opacity="0.55"/>
<rect x="70.36" y="41.39" width="1.46" height="0.80" fill="#a39a8c" fill-opacity="0.55"/>
<rect x="70.36" y="43.44" width="1.46" height="0.80" fill="#a39a8c" fill-opacity="0.55"/>
<rect x="70.36" y="204.24" width="1.46" height="0.80" fill="#a39a8c" fill-opacity="0.55"/>
<rect x="70.36" y="205.98" width="1.46" height="0.80" fill="#a39a8c" fill-opacity="0.55"/>
<rect x="73.41" y="41.39" width="1.46" height="0.80" fill="#a39a8c" fill-opacity="0.55"/>
<rect x="73.41" y="43.44" width="1.46" height="0.80" fill="#a39a8c" fill-opacity="0.55"/>
<rect x="73.41" y="204.24" width="1.46" height="0.80" fill="#a39a8c" fill-opacity="0.55"/>
<rect x="73.41" y="205.98" width="1.46" height="0.80" fill="#a39a8c" fill-opacity="0.55"/>
<rect x="76.47" y="41.39" width="1.46" height="0.80" fill="#a39a8c" fill-opacity="0.55"/>
<rect x="76.47" y="43.44" width="1.46" height="0.80" fill="#a39a8c" fill-opacity="0.55"/>
<rect x="76.47" y="204.24" width="1.46" height="0.80" fill="#a39a8c" fill-opacity="0.55"/>
<rect x="76.47" y="205.98" width="1.46" height="0.80" fill="#a39a8c" fill-opacity="0.55"/>
<rect x="79.53" y="41.39" width="1.46" height="0.80" fill="#a39a8c" fill-opacity="0.55"/>
<rect x="79.53" y="43.44" width="1.46" height="0.80" fill="#a39a8c" fill-opacity="0.55"/>
<rect x="79.53" y="204.24" width="1.46" height="0.80" fill="#a39a8c" fill-opacity="0.55"/>
<rect x="79.53" y="205.98" width="1.46" height="0.80" fill="#a39a8c" fill-opacity="0.55"/>
<rect x="82.59" y="41.39" width="1.46" height="0.80" fill="#a39a8c" fill-opacity="0.55"/>
<rect x="82.59" y="43.44" width="1.46" height="0.80" fill="#a39a8c" fill-opacity="0.55"/>
<rect x="82.59" y="204.24" width="1.46" height="0.80" fill="#a39a8c" fill-opacity="0.55"/>
<rect x="82.59" y="205.98" width="1.46" height="0.80" fill="#a39a8c" fill-opacity="0.55"/>
<rect x="85.64" y="41.39" width="1.46" height="0.80" fill="#a39a8c" fill-opacity="0.55"/>
<rect x="85.64" y="43.44" width="1.46" height="0.80" fill="#a39a8c" fill-opacity="0.55"/>
<rect x="85.64" y="204.24" width="1.46" height="0.80" fill="#a39a8c" fill-opacity="0.55"/>
<rect x="85.64" y="205.98" width="1.46" height="0.80" fill="#a39a8c" fill-opacity="0.55"/>
<rect x="88.70" y="41.39" width="1.46" height="0.80" fill="#a39a8c" fill-opacity="0.55"/>
<rect x="88.70" y="43.44" width="1.46" height="0.80" fill="#a39a8c" fill-opacity="0.55"/>
<rect x="88.70" y="204.24" width="1.46" height="0.80" fill="#a39a8c" fill-opacity="0.55"/>
<rect x="88.70" y="205.98" width="1.46" height="0.80" fill="#a39a8c" fill-opacity="0.55"/>
<rect x="91.76" y="41.39" width="1.46" height="0.80" fill="#a39a8c" fill-opacity="0.55"/>
<rect x="91.76" y="43.44" width="1.46" height="0.80" fill="#a39a8c" fill-opacity="0.55"/>
<rect x="91.76" y="204.24" width="1.46" height="0.80" fill="#a39a8c" fill-opacity="0.55"/>
<rect x="91.76" y="205.98" width="1.46" height="0.80" fill="#a39a8c" fill-opacity="0.55"/>
<rect x="94.82" y="41.39" width="1.46" height="0.80" fill="#a39a8c" fill-opacity="0.55"/>
<rect x="94.82" y="43.44" width="1.46" height="0.80" fill="#a39a8c" fill-opacity="0.55"/>
<rect x="94.82" y="204.24" width="1.46" height="0.80" fill="#a39a8c" fill-opacity="0.55"/>
<rect x="94.82" y="205.98" width="1.46" height="0.80" fill="#a39a8c" fill-opacity="0.55"/>
<rect x="97.87" y="41.39" width="1.46" height="0.80" fill="#a39a8c" fill-opacity="0.55"/>
<rect x="97.87" y="43.44" width="1.46" height="0.80" fill="#a39a8c" fill-opacity="0.55"/>
<rect x="97.87" y="204.24" width="1.46" height="0.80" fill="#a39a8c" fill-opacity="0.55"/>
<rect x="97.87" y="205.98" width="1.46" height="0.80" fill="#a39a8c" fill-opacity="0.55"/>
<rect x="100.93" y="41.39" width="1.46" height="0.80" fill="#a39a8c" fill-opacity="0.55"/>
<rect x="100.93" y="43.44" width="1.46" height="0.80" fill="#a39a8c" fill-opacity="0.55"/>
<rect x="100.93" y="204.24" width="1.46" height="0.80" fill="#a39a8c" fill-opacity="0.55"/>
<rect x="100.93" y="205.98" width="1.46" height="0.80" fill="#a39a8c" fill-opacity="0.55"/>
<rect x="103.99" y="41.39" width="1.46" height="0.80" fill="#a39a8c" fill-opacity="0.55"/>
<rect x="103.99" y="43.44" width="1.46" height="0.80" fill="#a39a8c" fill-opacity="0.55"/>
<rect x="103.99" y="204.24" width="1.46" height="0.80" fill="#a39a8c" fill-opacity="0.55"/>
<rect x="103.99" y="205.98" width="1.46" height="0.80" fill="#a39a8c" fill-opacity="0.55"/>
<rect x="107.05" y="41.39" width="1.46" height="0.80" fill="#a39a8c" fill-opacity="0.55"/>
<rect x="107.05" y="43.44" width="1.46" height="0.80" fill="#a39a8c" fill-opacity="0.55"/>
<rect x="107.05" y="204.24" width="1.46" height="0.80" fill="#a39a8c" fill-opacity="0.55"/>
<rect x="107.05" y="205.98" width="1.46" height="0.80" fill="#a39a8c" fill-opacity="0.55"/>
<rect x="110.10" y="41.39" width="1.46" height="0.80" fill="#a39a8c" fill-opacity="0.55"/>
<rect x="110.10" y="43.44" width="1.46" height="0.80" fill="#a39a8c" fill-opacity="0.55"/>
<rect x="110.10" y="204.24" width="1.46" height="0.80" fill="#a39a8c" fill-opacity="0.55"/>
<rect x="110.10" y="205.98" width="1.46" height="0.80" fill="#a39a8c" fill-opacity="0.55"/>
<rect x="113.16" y="41.39" width="1.46" height="0.80" fill="#a39a8c" fill-opacity="0.55"/>
<rect x="113.16" y="43.44" width="1.46" height="0.80" fill="#a39a8c" fill-opacity="0.55"/>
<rect x="113.16" y="204.24" width="1.46" height="0.80" fill="#a39a8c" fill-opacity="0.55"/>
<rect x="113.16" y="205.98" width="1.46" height="0.80" fill="#a39a8c" fill-opacity="0.55"/>
<rect x="116.22" y="41.39" width="1.46" height="0.80" fill="#a39a8c" fill-opacity="0.55"/>
<rect x="116.22" y="43.44" width="1.46" height="0.80" fill="#a39a8c" fill-opacity="0.55"/>
<rect x="116.22" y="204.24" width="1.46" height="0.80" fill="#a39a8c" fill-opacity="0.55"/>
<rect x="116.22" y="205.98" width="1.46" height="0.80" fill="#a39a8c" fill-opacity="0.55"/>
<rect x="119.28" y="41.39" width="1.46" height="0.80" fill="#a39a8c" fill-opacity="0.55"/>
<rect x="119.28" y="43.44" width="1.46" height="0.80" fill="#a39a8c" fill-opacity="0.55"/>
<rect x="119.28" y="204.24" width="1.46" height="0.80" fill="#a39a8c" fill-opacity="0.55"/>
<rect x="119.28" y="205.98" width="1.46" height="0.80" fill="#a39a8c" fill-opacity="0.55"/>
<rect x="122.33" y="41.39" width="1.46" height="0.80" fill="#a39a8c" fill-opacity="0.55"/>
<rect x="122.33" y="43.44" width="1.46" height="0.80" fill="#a39a8c" fill-opacity="0.55"/>
<rect x="122.33" y="204.24" width="1.46" height="0.80" fill="#a39a8c" fill-opacity="0.55"/>
<rect x="122.33" y="205.98" width="1.46" height="0.80" fill="#a39a8c" fill-opacity="0.55"/>
<rect x="125.39" y="41.39" width="1.46" height="0.80" fill="#a39a8c" fill-opacity="0.55"/>
<rect x="125.39" y="43.44" width="1.46" height="0.80" fill="#a39a8c" fill-opacity="0.55"/>
<rect x="125.39" y="204.24" width="1.46" height="0.80" fill="#a39a8c" fill-opacity="0.55"/>
<rect x="125.39" y="205.98" width="1.46" height="0.80" fill="#a39a8c" fill-opacity="0.55"/>
<rect x="128.45" y="41.39" width="1.46" height="0.80" fill="#a39a8c" fill-opacity="0.55"/>
<rect x="128.45" y="43.44" width="1.46" height="0.80" fill="#a39a8c" fill-opacity="0.55"/>
<rect x="128.45" y="204.24" width="1.46" height="0.80" fill="#a39a8c" fill-opacity="0.55"/>
<rect x="128.45" y="205.98" width="1.46" height="0.80" fill="#a39a8c" fill-opacity="0.55"/>
<rect x="131.51" y="41.39" width="1.46" height="0.80" fill="#a39a8c" fill-opacity="0.55"/>
<rect x="131.51" y="43.44" width="1.46" height="0.80" fill="#a39a8c" fill-opacity="0.55"/>
<rect x="131.51" y="204.24" width="1.46" height="0.80" fill="#a39a8c" fill-opacity="0.55"/>
<rect x="131.51" y="205.98" width="1.46" height="0.80" fill="#a39a8c" fill-opacity="0.55"/>
<rect x="134.56" y="41.39" width="1.46" height="0.80" fill="#a39a8c" fill-opacity="0.55"/>
<rect x="134.56" y="43.44" width="1.46" height="0.80" fill="#a39a8c" fill-opacity="0.55"/>
<rect x="134.56" y="204.24" width="1.46" height="0.80" fill="#a39a8c" fill-opacity="0.55"/>
<rect x="134.56" y="205.98" width="1.46" height="0.80" fill="#a39a8c" fill-opacity="0.55"/>
<rect x="137.62" y="41.39" width="1.46" height="0.80" fill="#a39a8c" fill-opacity="0.55"/>
<rect x="137.62" y="43.44" width="1.46" height="0.80" fill="#a39a8c" fill-opacity="0.55"/>
<rect x="137.62" y="204.24" width="1.46" height="0.80" fill="#a39a8c" fill-opacity="0.55"/>
<rect x="137.62" y="205.98" width="1.46" height="0.80" fill="#a39a8c" fill-opacity="0.55"/>
<rect x="140.68" y="41.39" width="1.46" height="0.80" fill="#a39a8c" fill-opacity="0.55"/>
<rect x="140.68" y="43.44" width="1.46" height="0.80" fill="#a39a8c" fill-opacity="0.55"/>
<rect x="140.68" y="204.24" width="1.46" height="0.80" fill="#a39a8c" fill-opacity="0.55"/>
<rect x="140.68" y="205.98" width="1.46" height="0.80" fill="#a39a8c" fill-opacity="0.55"/>
<rect x="143.74" y="41.39" width="1.46" height="0.80" fill="#a39a8c" fill-opacity="0.55"/>
<rect x="143.74" y="43.44" width="1.46" height="0.80" fill="#a39a8c" fill-opacity="0.55"/>
<rect x="143.74" y="204.24" width="1.46" height="0.80" fill="#a39a8c" fill-opacity="0.55"/>
<rect x="143.74" y="205.98" width="1.46" height="0.80" fill="#a39a8c" fill-opacity="0.55"/>
<rect x="146.79" y="41.39" width="1.46" height="0.80" fill="#a39a8c" fill-opacity="0.55"/>
<rect x="146.79" y="43.44" width="1.46" height="0.80" fill="#a39a8c" fill-opacity="0.55"/>
<rect x="146.79" y="204.24" width="1.46" height="0.80" fill="#a39a8c" fill-opacity="0.55"/>
<rect x="146.79" y="205.98" width="1.46" height="0.80" fill="#a39a8c" fill-opacity="0.55"/>
<rect x="149.85" y="41.39" width="1.46" height="0.80" fill="#a39a8c" fill-opacity="0.55"/>
<rect x="149.85" y="43.44" width="1.46" height="0.80" fill="#a39a8c" fill-opacity="0.55"/>
<rect x="149.85" y="204.24" width="1.46" height="0.80" fill="#a39a8c" fill-opacity="0.55"/>
<rect x="149.85" y="205.98" width="1.46" height="0.80" fill="#a39a8c" fill-opacity="0.55"/>
<rect x="152.91" y="41.39" width="1.46" height="0.80" fill="#a39a8c" fill-opacity="0.55"/>
<rect x="152.91" y="43.44" width="1.46" height="0.80" fill="#a39a8c" fill-opacity="0.55"/>
<rect x="152.91" y="204.24" width="1.46" height="0.80" fill="#a39a8c" fill-opacity="0.55"/>
<rect x="152.91" y="205.98" width="1.46" height="0.80" fill="#a39a8c" fill-opacity="0.55"/>
<rect x="155.97" y="41.39" width="1.46" height="0.80" fill="#a39a8c" fill-opacity="0.55"/>
<rect x="155.97" y="43.44" width="1.46" height="0.80" fill="#a39a8c" fill-opacity="0.55"/>
<rect x="155.97" y="204.24" width="1.46" height="0.80" fill="#a39a8c" fill-opacity="0.55"/>
<rect x="155.97" y="205.98" width="1.46" height="0.80" fill="#a39a8c" fill-opacity="0.55"/>
<rect x="159.02" y="41.39" width="1.46" height="0.80" fill="#a39a8c" fill-opacity="0.55"/>
<rect x="159.02" y="43.44" width="1.46" height="0.80" fill="#a39a8c" fill-opacity="0.55"/>
<rect x="159.02" y="204.24" width="1.46" height="0.80" fill="#a39a8c" fill-opacity="0.55"/>
<rect x="159.02" y="205.98" width="1.46" height="0.80" fill="#a39a8c" fill-opacity="0.55"/>
<rect x="162.08" y="41.39" width="1.46" height="0.80" fill="#a39a8c" fill-opacity="0.55"/>
<rect x="162.08" y="43.44" width="1.46" height="0.80" fill="#a39a8c" fill-opacity="0.55"/>
<rect x="162.08" y="204.24" width="1.46" height="0.80" fill="#a39a8c" fill-opacity="0.55"/>
<rect x="162.08" y="205.98" width="1.46" height="0.80" fill="#a39a8c" fill-opacity="0.55"/>
<rect x="165.14" y="41.39" width="1.46" height="0.80" fill="#a39a8c" fill-opacity="0.55"/>
<rect x="165.14" y="43.44" width="1.46" height="0.80" fill="#a39a8c" fill-opacity="0.55"/>
<rect x="165.14" y="204.24" width="1.46" height="0.80" fill="#a39a8c" fill-opacity="0.55"/>
<rect x="165.14" y="205.98" width="1.46" height="0.80" fill="#a39a8c" fill-opacity="0.55"/>
<rect x="168.20" y="41.39" width="1.46" height="0.80" fill="#a39a8c" fill-opacity="0.55"/>
<rect x="168.20" y="43.44" width="1.46" height="0.80" fill="#a39a8c" fill-opacity="0.55"/>
<rect x="168.20" y="204.24" width="1.46" height="0.80" fill="#a39a8c" fill-opacity="0.55"/>
<rect x="168.20" y="205.98" width="1.46" height="0.80" fill="#a39a8c" fill-opacity="0.55"/>
<rect x="171.25" y="41.39" width="1.46" height="0.80" fill="#a39a8c" fill-opacity="0.55"/>
<rect x="171.25" y="43.44" width="1.46" height="0.80" fill="#a39a8c" fill-opacity="0.55"/>
<rect x="171.25" y="204.24" width="1.46" height="0.80" fill="#a39a8c" fill-opacity="0.55"/>
<rect x="171.25" y="205.98" width="1.46" height="0.80" fill="#a39a8c" fill-opacity="0.55"/>
<rect x="174.31" y="41.39" width="1.46" height="0.80" fill="#a39a8c" fill-opacity="0.55"/>
<rect x="174.31" y="43.44" width="1.46" height="0.80" fill="#a39a8c" fill-opacity="0.55"/>
<rect x="174.31" y="204.24" width="1.46" height="0.80" fill="#a39a8c" fill-opacity="0.55"/>
<rect x="174.31" y="205.98" width="1.46" height="0.80" fill="#a39a8c" fill-opacity="0.55"/>
<rect x="177.37" y="41.39" width="1.46" height="0.80" fill="#a39a8c" fill-opacity="0.55"/>
<rect x="177.37" y="43.44" width="1.46" height="0.80" fill="#a39a8c" fill-opacity="0.55"/>
<rect x="177.37" y="204.24" width="1.46" height="0.80" fill="#a39a8c" fill-opacity="0.55"/>
<rect x="177.37" y="205.98" width="1.46" height="0.80" fill="#a39a8c" fill-opacity="0.55"/>
<rect x="180.43" y="41.39" width="1.46" height="0.80" fill="#a39a8c" fill-opacity="0.55"/>
<rect x="180.43" y="43.44" width="1.46" height="0.80" fill="#a39a8c" fill-opacity="0.55"/>
<rect x="180.43" y="204.24" width="1.46" height="0.80" fill="#a39a8c" fill-opacity="0.55"/>
<rect x="180.43" y="205.98" width="1.46" height="0.80" fill="#a39a8c" fill-opacity="0.55"/>
<rect x="183.48" y="41.39" width="1.46" height="0.80" fill="#a39a8c" fill-opacity="0.55"/>
<rect x="183.48" y="43.44" width="1.46" height="0.80" fill="#a39a8c" fill-opacity="0.55"/>
<rect x="183.48" y="204.24" width="1.46" height="0.80" fill="#a39a8c" fill-opacity="0.55"/>
<rect x="183.48" y="205.98" width="1.46" height="0.80" fill="#a39a8c" fill-opacity="0.55"/>
<rect x="186.54" y="41.39" width="1.46" height="0.80" fill="#a39a8c" fill-opacity="0.55"/>
<rect x="186.54" y="43.44" width="1.46" height="0.80" fill="#a39a8c" fill-opacity="0.55"/>
<rect x="186.54" y="204.24" width="1.46" height="0.80" fill="#a39a8c" fill-opacity="0.55"/>
<rect x="186.54" y="205.98" width="1.46" height="0.80" fill="#a39a8c" fill-opacity="0.55"/>
<rect x="189.60" y="41.39" width="1.46" height="0.80" fill="#a39a8c" fill-opacity="0.55"/>
<rect x="189.60" y="43.44" width="1.46" height="0.80" fill="#a39a8c" fill-opacity="0.55"/>
<rect x="189.60" y="204.24" width="1.46" height="0.80" fill="#a39a8c" fill-opacity="0.55"/>
<rect x="189.60" y="205.98" width="1.46" height="0.80" fill="#a39a8c" fill-opacity="0.55"/>
<rect x="192.66" y="41.39" width="1.46" height="0.80" fill="#a39a8c" fill-opacity="0.55"/>
<rect x="192.66" y="43.44" width="1.46" height="0.80" fill="#a39a8c" fill-opacity="0.55"/>
<rect x="192.66" y="204.24" width="1.46" height="0.80" fill="#a39a8c" fill-opacity="0.55"/>
<rect x="192.66" y="205.98" width="1.46" height="0.80" fill="#a39a8c" fill-opacity="0.55"/>
<rect x="195.71" y="41.39" width="1.46" height="0.80" fill="#a39a8c" fill-opacity="0.55"/>
<rect x="195.71" y="43.44" width="1.46" height="0.80" fill="#a39a8c" fill-opacity="0.55"/>
<rect x="195.71" y="204.24" width="1.46" height="0.80" fill="#a39a8c" fill-opacity="0.55"/>
<rect x="195.71" y="205.98" width="1.46" height="0.80" fill="#a39a8c" fill-opacity="0.55"/>
<rect x="198.77" y="41.39" width="1.46" height="0.80" fill="#a39a8c" fill-opacity="0.55"/>
<rect x="198.77" y="43.44" width="1.46" height="0.80" fill="#a39a8c" fill-opacity="0.55"/>
<rect x="198.77" y="204.24" width="1.46" height="0.80" fill="#a39a8c" fill-opacity="0.55"/>
<rect x="198.77" y="205.98" width="1.46" height="0.80" fill="#a39a8c" fill-opacity="0.55"/>
<rect x="201.83" y="41.39" width="1.46" height="0.80" fill="#a39a8c" fill-opacity="0.55"/>
<rect x="201.83" y="43.44" width="1.46" height="0.80" fill="#a39a8c" fill-opacity="0.55"/>
<rect x="201.83" y="204.24" width="1.46" height="0.80" fill="#a39a8c" fill-opacity="0.55"/>
<rect x="201.83" y="205.98" width="1.46" height="0.80" fill="#a39a8c" fill-opacity="0.55"/>
<rect x="204.89" y="41.39" width="1.46" height="0.80" fill="#a39a8c" fill-opacity="0.55"/>
<rect x="204.89" y="43.44" width="1.46" height="0.80" fill="#a39a8c" fill-opacity="0.55"/>
<rect x="204.89" y="204.24" width="1.46" height="0.80" fill="#a39a8c" fill-opacity="0.55"/>
<rect x="204.89" y="205.98" width="1.46" height="0.80" fill="#a39a8c" fill-opacity="0.55"/>
<rect x="207.94" y="41.39" width="1.46" height="0.80" fill="#a39a8c" fill-opacity="0.55"/>
<rect x="207.94" y="43.44" width="1.46" height="0.80" fill="#a39a8c" fill-opacity="0.55"/>
<rect x="207.94" y="204.24" width="1.46" height="0.80" fill="#a39a8c" fill-opacity="0.55"/>
<rect x="207.94" y="205.98" width="1.46" height="0.80" fill="#a39a8c" fill-opacity="0.55"/>
<rect x="211.00" y="41.39" width="1.46" height="0.80" fill="#a39a8c" fill-opacity="0.55"/>
<rect x="211.00" y="43.44" width="1.46" height="0.80" fill="#a39a8c" fill-opacity="0.55"/>
<rect x="211.00" y="204.24" width="1.46" height="0.80" fill="#a39a8c" fill-opacity="0.55"/>
<rect x="211.00" y="205.98" width="1.46" height="0.80" fill="#a39a8c" fill-opacity="0.55"/>
<rect x="214.06" y="41.39" width="1.46" height="0.80" fill="#a39a8c" fill-opacity="0.55"/>
<rect x="214.06" y="43.44" width="1.46" height="0.80" fill="#a39a8c" fill-opacity="0.55"/>
<rect x="214.06" y="204.24" width="1.46" height="0.80" fill="#a39a8c" fill-opacity="0.55"/>
<rect x="214.06" y="205.98" width="1.46" height="0.80" fill="#a39a8c" fill-opacity="0.55"/>
<rect x="217.12" y="41.39" width="1.46" height="0.80" fill="#a39a8c" fill-opacity="0.55"/>
<rect x="217.12" y="43.44" width="1.46" height="0.80" fill="#a39a8c" fill-opacity="0.55"/>
<rect x="217.12" y="204.24" width="1.46" height="0.80" fill="#a39a8c" fill-opacity="0.55"/>
<rect x="217.12" y="205.98" width="1.46" height="0.80" fill="#a39a8c" fill-opacity="0.55"/>
<rect x="220.17" y="41.39" width="1.46" height="0.80" fill="#a39a8c" fill-opacity="0.55"/>
<rect x="220.17" y="43.44" width="1.46" height="0.80" fill="#a39a8c" fill-opacity="0.55"/>
<rect x="220.17" y="204.24" width="1.46" height="0.80" fill="#a39a8c" fill-opacity="0.55"/>
<rect x="220.17" y="205.98" width="1.46" height="0.80" fill="#a39a8c" fill-opacity="0.55"/>
<rect x="223.23" y="41.39" width="1.46" height="0.80" fill="#a39a8c" fill-opacity="0.55"/>
<rect x="223.23" y="43.44" width="1.46" height="0.80" fill="#a39a8c" fill-opacity="0.55"/>
<rect x="223.23" y="204.24" width="1.46" height="0.80" fill="#a39a8c" fill-opacity="0.55"/>
<rect x="223.23" y="205.98" width="1.46" height="0.80" fill="#a39a8c" fill-opacity="0.55"/>
<rect x="226.29" y="41.39" width="1.46" height="0.80" fill="#a39a8c" fill-opacity="0.55"/>
<rect x="226.29" y="43.44" width="1.46" height="0.80" fill="#a39a8c" fill-opacity="0.55"/>
<rect x="226.29" y="204.24" width="1.46" height="0.80" fill="#a39a8c" fill-opacity="0.55"/>
<rect x="226.29" y="205.98" width="1.46" height="0.80" fill="#a39a8c" fill-opacity="0.55"/>
<rect x="229.35" y="41.39" width="1.46" height="0.80" fill="#a39a8c" fill-opacity="0.55"/>
<rect x="229.35" y="43.44" width="1.46" height="0.80" fill="#a39a8c" fill-opacity="0.55"/>
<rect x="229.35" y="204.24" width="1.46" height="0.80" fill="#a39a8c" fill-opacity="0.55"/>
<rect x="229.35" y="205.98" width="1.46" height="0.80" fill="#a39a8c" fill-opacity="0.55"/>
<rect x="232.40" y="41.39" width="1.46" height="0.80" fill="#a39a8c" fill-opacity="0.55"/>
<rect x="232.40" y="43.44" width="1.46" height="0.80" fill="#a39a8c" fill-opacity="0.55"/>
<rect x="232.40" y="204.24" width="1.46" height="0.80" fill="#a39a8c" fill-opacity="0.55"/>
<rect x="232.40" y="205.98" width="1.46" height="0.80" fill="#a39a8c" fill-opacity="0.55"/>
<rect x="235.46" y="41.39" width="1.46" height="0.80" fill="#a39a8c" fill-opacity="0.55"/>
<rect x="235.46" y="43.44" width="1.46" height="0.80" fill="#a39a8c" fill-opacity="0.55"/>
<rect x="235.46" y="204.24" width="1.46" height="0.80" fill="#a39a8c" fill-opacity="0.55"/>
<rect x="235.46" y="205.98" width="1.46" height="0.80" fill="#a39a8c" fill-opacity="0.55"/>
<rect x="238.52" y="41.39" width="1.46" height="0.80" fill="#a39a8c" fill-opacity="0.55"/>
<rect x="238.52" y="43.44" width="1.46" height="0.80" fill="#a39a8c" fill-opacity="0.55"/>
<rect x="238.52" y="204.24" width="1.46" height="0.80" fill="#a39a8c" fill-opacity="0.55"/>
<rect x="238.52" y="205.98" width="1.46" height="0.80" fill="#a39a8c" fill-opacity="0.55"/>
<rect x="241.58" y="41.39" width="1.46" height="0.80" fill="#a39a8c" fill-opacity="0.55"/>
<rect x="241.58" y="43.44" width="1.46" height="0.80" fill="#a39a8c" fill-opacity="0.55"/>
<rect x="241.58" y="204.24" width="1.46" height="0.80" fill="#a39a8c" fill-opacity="0.55"/>
<rect x="241.58" y="205.98" width="1.46" height="0.80" fill="#a39a8c" fill-opacity="0.55"/>
<rect x="244.63" y="41.39" width="1.46" height="0.80" fill="#a39a8c" fill-opacity="0.55"/>
<rect x="244.63" y="43.44" width="1.46" height="0.80" fill="#a39a8c" fill-opacity="0.55"/>
<rect x="244.63" y="204.24" width="1.46" height="0.80" fill="#a39a8c" fill-opacity="0.55"/>
<rect x="244.63" y="205.98" width="1.46" height="0.80" fill="#a39a8c" fill-opacity="0.55"/>
<rect x="247.69" y="41.39" width="1.46" height="0.80" fill="#a39a8c" fill-opacity="0.55"/>
<rect x="247.69" y="43.44" width="1.46" height="0.80" fill="#a39a8c" fill-opacity="0.55"/>
<rect x="247.69" y="204.24" width="1.46" height="0.80" fill="#a39a8c" fill-opacity="0.55"/>
<rect x="247.69" y="205.98" width="1.46" height="0.80" fill="#a39a8c" fill-opacity="0.55"/>
<rect x="250.75" y="41.39" width="1.46" height="0.80" fill="#a39a8c" fill-opacity="0.55"/>
<rect x="250.75" y="43.44" width="1.46" height="0.80" fill="#a39a8c" fill-opacity="0.55"/>
<rect x="250.75" y="204.24" width="1.46" height="0.80" fill="#a39a8c" fill-opacity="0.55"/>
<rect x="250.75" y="205.98" width="1.46" height="0.80" fill="#a39a8c" fill-opacity="0.55"/>
<rect x="253.80" y="41.39" width="1.46" height="0.80" fill="#a39a8c" fill-opacity="0.55"/>
<rect x="253.80" y="43.44" width="1.46" height="0.80" fill="#a39a8c" fill-opacity="0.55"/>
<rect x="253.80" y="204.24" width="1.46" height="0.80" fill="#a39a8c" fill-opacity="0.55"/>
<rect x="253.80" y="205.98" width="1.46" height="0.80" fill="#a39a8c" fill-opacity="0.55"/>
<rect x="256.86" y="41.39" width="1.46" height="0.80" fill="#a39a8c" fill-opacity="0.55"/>
<rect x="256.86" y="43.44" width="1.46" height="0.80" fill="#a39a8c" fill-opacity="0.55"/>
<rect x="256.86" y="204.24" width="1.46" height="0.80" fill="#a39a8c" fill-opacity="0.55"/>
<rect x="256.86" y="205.98" width="1.46" height="0.80" fill="#a39a8c" fill-opacity="0.55"/>
<rect x="259.92" y="41.39" width="1.46" height="0.80" fill="#a39a8c" fill-opacity="0.55"/>
<rect x="259.92" y="43.44" width="1.46" height="0.80" fill="#a39a8c" fill-opacity="0.55"/>
<rect x="259.92" y="204.24" width="1.46" height="0.80" fill="#a39a8c" fill-opacity="0.55"/>
<rect x="259.92" y="205.98" width="1.46" height="0.80" fill="#a39a8c" fill-opacity="0.55"/>
<rect x="262.98" y="41.39" width="1.46" height="0.80" fill="#a39a8c" fill-opacity="0.55"/>
<rect x="262.98" y="43.44" width="1.46" height="0.80" fill="#a39a8c" fill-opacity="0.55"/>
<rect x="262.98" y="204.24" width="1.46" height="0.80" fill="#a39a8c" fill-opacity="0.55"/>
<rect x="262.98" y="205.98" width="1.46" height="0.80" fill="#a39a8c" fill-opacity="0.55"/>
<rect x="266.03" y="41.39" width="1.46" height="0.80" fill="#a39a8c" fill-opacity="0.55"/>
<rect x="266.03" y="43.44" width="1.46" height="0.80" fill="#a39a8c" fill-opacity="0.55"/>
<rect x="266.03" y="204.24" width="1.46" height="0.80" fill="#a39a8c" fill-opacity="0.55"/>
<rect x="266.03" y="205.98" width="1.46" height="0.80" fill="#a39a8c" fill-opacity="0.55"/>
<rect x="269.09" y="41.39" width="1.46" height="0.80" fill="#a39a8c" fill-opacity="0.55"/>
<rect x="269.09" y="43.44" width="1.46" height="0.80" fill="#a39a8c" fill-opacity="0.55"/>
<rect x="269.09" y="204.24" width="1.46" height="0.80" fill="#a39a8c" fill-opacity="0.55"/>
<rect x="269.09" y="205.98" width="1.46" height="0.80" fill="#a39a8c" fill-opacity="0.55"/>
<rect x="272.15" y="41.39" width="1.46" height="0.80" fill="#a39a8c" fill-opacity="0.55"/>
<rect x="272.15" y="43.44" width="1.46" height="0.80" fill="#a39a8c" fill-opacity="0.55"/>
<rect x="272.15" y="204.24" width="1.46" height="0.80" fill="#a39a8c" fill-opacity="0.55"/>
<rect x="272.15" y="205.98" width="1.46" height="0.80" fill="#a39a8c" fill-opacity="0.55"/>
<rect x="275.21" y="41.39" width="1.46" height="0.80" fill="#a39a8c" fill-opacity="0.55"/>
<rect x="275.21" y="43.44" width="1.46" height="0.80" fill="#a39a8c" fill-opacity="0.55"/>
<rect x="275.21" y="204.24" width="1.46" height="0.80" fill="#a39a8c" fill-opacity="0.55"/>
<rect x="275.21" y="205.98" width="1.46" height="0.80" fill="#a39a8c" fill-opacity="0.55"/>
<rect x="278.26" y="41.39" width="1.46" height="0.80" fill="#a39a8c" fill-opacity="0.55"/>
<rect x="278.26" y="43.44" width="1.46" height="0.80" fill="#a39a8c" fill-opacity="0.55"/>
<rect x="278.26" y="204.24" width="1.46" height="0.80" fill="#a39a8c" fill-opacity="0.55"/>
<rect x="278.26" y="205.98" width="1.46" height="0.80" fill="#a39a8c" fill-opacity="0.55"/>
<rect x="281.32" y="41.39" width="1.46" height="0.80" fill="#a39a8c" fill-opacity="0.55"/>
<rect x="281.32" y="43.44" width="1.46" height="0.80" fill="#a39a8c" fill-opacity="0.55"/>
<rect x="281.32" y="204.24" width="1.46" height="0.80" fill="#a39a8c" fill-opacity="0.55"/>
<rect x="281.32" y="205.98" width="1.46" height="0.80" fill="#a39a8c" fill-opacity="0.55"/>
<rect x="284.38" y="41.39" width="1.46" height="0.80" fill="#a39a8c" fill-opacity="0.55"/>
<rect x="284.38" y="43.44" width="1.46" height="0.80" fill="#a39a8c" fill-opacity="0.55"/>
<rect x="284.38" y="204.24" width="1.46" height="0.80" fill="#a39a8c" fill-opacity="0.55"/>
<rect x="284.38" y="205.98" width="1.46" height="0.80" fill="#a39a8c" fill-opacity="0.55"/>
<rect x="287.44" y="41.39" width="1.46" height="0.80" fill="#a39a8c" fill-opacity="0.55"/>
<rect x="287.44" y="43.44" width="1.46" height="0.80" fill="#a39a8c" fill-opacity="0.55"/>
<rect x="287.44" y="204.24" width="1.46" height="0.80" fill="#a39a8c" fill-opacity="0.55"/>
<rect x="287.44" y="205.98" width="1.46" height="0.80" fill="#a39a8c" fill-opacity="0.55"/>
<rect x="290.49" y="41.39" width="1.46" height="0.80" fill="#a39a8c" fill-opacity="0.55"/>
<rect x="290.49" y="43.44" width="1.46" height="0.80" fill="#a39a8c" fill-opacity="0.55"/>
<rect x="290.49" y="204.24" width="1.46" height="0.80" fill="#a39a8c" fill-opacity="0.55"/>
<rect x="290.49" y="205.98" width="1.46" height="0.80" fill="#a39a8c" fill-opacity="0.55"/>
<rect x="293.55" y="41.39" width="1.46" height="0.80" fill="#a39a8c" fill-opacity="0.55"/>
<rect x="293.55" y="43.44" width="1.46" height="0.80" fill="#a39a8c" fill-opacity="0.55"/>
<rect x="293.55" y="204.24" width="1.46" height="0.80" fill="#a39a8c" fill-opacity="0.55"/>
<rect x="293.55" y="205.98" width="1.46" height="0.80" fill="#a39a8c" fill-opacity="0.55"/>
<rect x="296.61" y="41.39" width="1.46" height="0.80" fill="#a39a8c" fill-opacity="0.55"/>
<rect x="296.61" y="43.44" width="1.46" height="0.80" fill="#a39a8c" fill-opacity="0.55"/>
<rect x="296.61" y="204.24" width="1.46" height="0.80" fill="#a39a8c" fill-opacity="0.55"/>
<rect x="296.61" y="205.98" width="1.46" height="0.80" fill="#a39a8c" fill-opacity="0.55"/>
<rect x="299.67" y="41.39" width="1.46" height="0.80" fill="#a39a8c" fill-opacity="0.55"/>
<rect x="299.67" y="43.44" width="1.46" height="0.80" fill="#a39a8c" fill-opacity="0.55"/>
<rect x="299.67" y="204.24" width="1.46" height="0.80" fill="#a39a8c" fill-opacity="0.55"/>
<rect x="299.67" y="205.98" width="1.46" height="0.80" fill="#a39a8c" fill-opacity="0.55"/>
<rect x="302.72" y="41.39" width="1.46" height="0.80" fill="#a39a8c" fill-opacity="0.55"/>
<rect x="302.72" y="43.44" width="1.46" height="0.80" fill="#a39a8c" fill-opacity="0.55"/>
<rect x="302.72" y="204.24" width="1.46" height="0.80" fill="#a39a8c" fill-opacity="0.55"/>
<rect x="302.72" y="205.98" width="1.46" height="0.80" fill="#a39a8c" fill-opacity="0.55"/>
<rect x="305.78" y="41.39" width="1.46" height="0.80" fill="#a39a8c" fill-opacity="0.55"/>
<rect x="305.78" y="43.44" width="1.46" height="0.80" fill="#a39a8c" fill-opacity="0.55"/>
<rect x="305.78" y="204.24" width="1.46" height="0.80" fill="#a39a8c" fill-opacity="0.55"/>
<rect x="305.78" y="205.98" width="1.46" height="0.80" fill="#a39a8c" fill-opacity="0.55"/>
<rect x="308.84" y="41.39" width="1.46" height="0.80" fill="#a39a8c" fill-opacity="0.55"/>
<rect x="308.84" y="43.44" width="1.46" height="0.80" fill="#a39a8c" fill-opacity="0.55"/>
<rect x="308.84" y="204.24" width="1.46" height="0.80" fill="#a39a8c" fill-opacity="0.55"/>
<rect x="308.84" y="205.98" width="1.46" height="0.80" fill="#a39a8c" fill-opacity="0.55"/>
<rect x="311.90" y="41.39" width="1.46" height="0.80" fill="#a39a8c" fill-opacity="0.55"/>
<rect x="311.90" y="43.44" width="1.46" height="0.80" fill="#a39a8c" fill-opacity="0.55"/>
<rect x="311.90" y="204.24" width="1.46" height="0.80" fill="#a39a8c" fill-opacity="0.55"/>
<rect x="311.90" y="205.98" width="1.46" height="0.80" fill="#a39a8c" fill-opacity="0.55"/>
<rect x="314.95" y="41.39" width="1.46" height="0.80" fill="#a39a8c" fill-opacity="0.55"/>
<rect x="314.95" y="43.44" width="1.46" height="0.80" fill="#a39a8c" fill-opacity="0.55"/>
<rect x="314.95" y="204.24" width="1.46" height="0.80" fill="#a39a8c" fill-opacity="0.55"/>
<rect x="314.95" y="205.98" width="1.46" height="0.80" fill="#a39a8c" fill-opacity="0.55"/>
<rect x="318.01" y="41.39" width="1.46" height="0.80" fill="#a39a8c" fill-opacity="0.55"/>
<rect x="318.01" y="43.44" width="1.46" height="0.80" fill="#a39a8c" fill-opacity="0.55"/>
<rect x="318.01" y="204.24" width="1.46" height="0.80" fill="#a39a8c" fill-opacity="0.55"/>
<rect x="318.01" y="205.98" width="1.46" height="0.80" fill="#a39a8c" fill-opacity="0.55"/>
<rect x="321.07" y="41.39" width="1.46" height="0.80" fill="#a39a8c" fill-opacity="0.55"/>
<rect x="321.07" y="43.44" width="1.46" height="0.80" fill="#a39a8c" fill-opacity="0.55"/>
<rect x="321.07" y="204.24" width="1.46" height="0.80" fill="#a39a8c" fill-opacity="0.55"/>
<rect x="321.07" y="205.98" width="1.46" height="0.80" fill="#a39a8c" fill-opacity="0.55"/>
<rect x="324.13" y="41.39" width="1.46" height="0.80" fill="#a39a8c" fill-opacity="0.55"/>
<rect x="324.13" y="43.44" width="1.46" height="0.80" fill="#a39a8c" fill-opacity="0.55"/>
<rect x="324.13" y="204.24" width="1.46" height="0.80" fill="#a39a8c" fill-opacity="0.55"/>
<rect x="324.13" y="205.98" width="1.46" height="0.80" fill="#a39a8c" fill-opacity="0.55"/>
<rect x="327.18" y="41.39" width="1.46" height="0.80" fill="#a39a8c" fill-opacity="0.55"/>
<rect x="327.18" y="43.44" width="1.46" height="0.80" fill="#a39a8c" fill-opacity="0.55"/>
<rect x="327.18" y="204.24" width="1.46" height="0.80" fill="#a39a8c" fill-opacity="0.55"/>
<rect x="327.18" y="205.98" width="1.46" height="0.80" fill="#a39a8c" fill-opacity="0.55"/>
<rect x="330.24" y="41.39" width="1.46" height="0.80" fill="#a39a8c" fill-opacity="0.55"/>
<rect x="330.24" y="43.44" width="1.46" height="0.80" fill="#a39a8c" fill-opacity="0.55"/>
<rect x="330.24" y="204.24" width="1.46" height="0.80" fill="#a39a8c" fill-opacity="0.55"/>
<rect x="330.24" y="205.98" width="1.46" height="0.80" fill="#a39a8c" fill-opacity="0.55"/>
<rect x="333.30" y="41.39" width="1.46" height="0.80" fill="#a39a8c" fill-opacity="0.55"/>
<rect x="333.30" y="43.44" width="1.46" height="0.80" fill="#a39a8c" fill-opacity="0.55"/>
<rect x="333.30" y="204.24" width="1.46" height="0.80" fill="#a39a8c" fill-opacity="0.55"/>
<rect x="333.30" y="205.98" width="1.46" height="0.80" fill="#a39a8c" fill-opacity="0.55"/>
<rect x="336.36" y="41.39" width="1.46" height="0.80" fill="#a39a8c" fill-opacity="0.55"/>
<rect x="336.36" y="43.44" width="1.46" height="0.80" fill="#a39a8c" fill-opacity="0.55"/>
<rect x="336.36" y="204.24" width="1.46" height="0.80" fill="#a39a8c" fill-opacity="0.55"/>
<rect x="336.36" y="205.98" width="1.46" height="0.80" fill="#a39a8c" fill-opacity="0.55"/>
<rect x="339.41" y="41.39" width="1.46" height="0.80" fill="#a39a8c" fill-opacity="0.55"/>
<rect x="339.41" y="43.44" width="1.46" height="0.80" fill="#a39a8c" fill-opacity="0.55"/>
<rect x="339.41" y="204.24" width="1.46" height="0.80" fill="#a39a8c" fill-opacity="0.55"/>
<rect x="339.41" y="205.98" width="1.46" height="0.80" fill="#a39a8c" fill-opacity="0.55"/>
<rect x="342.47" y="41.39" width="1.46" height="0.80" fill="#a39a8c" fill-opacity="0.55"/>
<rect x="342.47" y="43.44" width="1.46" height="0.80" fill="#a39a8c" fill-opacity="0.55"/>
<rect x="342.47" y="204.24" width="1.46" height="0.80" fill="#a39a8c" fill-opacity="0.55"/>
<rect x="342.47" y="205.98" width="1.46" height="0.80" fill="#a39a8c" fill-opacity="0.55"/>
<rect x="345.53" y="41.39" width="1.46" height="0.80" fill="#a39a8c" fill-opacity="0.55"/>
<rect x="345.53" y="43.44" width="1.46" height="0.80" fill="#a39a8c" fill-opacity="0.55"/>
<rect x="345.53" y="204.24" width="1.46" height="0.80" fill="#a39a8c" fill-opacity="0.55"/>
<rect x="345.53" y="205.98" width="1.46" height="0.80" fill="#a39a8c" fill-opacity="0.55"/>
<rect x="348.59" y="41.39" width="1.46" height="0.80" fill="#a39a8c" fill-opacity="0.55"/>
<rect x="348.59" y="43.44" width="1.46" height="0.80" fill="#a39a8c" fill-opacity="0.55"/>
<rect x="348.59" y="204.24" width="1.46" height="0.80" fill="#a39a8c" fill-opacity="0.55"/>
<rect x="348.59" y="205.98" width="1.46" height="0.80" fill="#a39a8c" fill-opacity="0.55"/>
<rect x="351.64" y="41.39" width="1.46" height="0.80" fill="#a39a8c" fill-opacity="0.55"/>
<rect x="351.64" y="43.44" width="1.46" height="0.80" fill="#a39a8c" fill-opacity="0.55"/>
<rect x="351.64" y="204.24" width="1.46" height="0.80" fill="#a39a8c" fill-opacity="0.55"/>
<rect x="351.64" y="205.98" width="1.46" height="0.80" fill="#a39a8c" fill-opacity="0.55"/>
<rect x="354.70" y="41.39" width="1.46" height="0.80" fill="#a39a8c" fill-opacity="0.55"/>
<rect x="354.70" y="43.44" width="1.46" height="0.80" fill="#a39a8c" fill-opacity="0.55"/>
<rect x="354.70" y="204.24" width="1.46" height="0.80" fill="#a39a8c" fill-opacity="0.55"/>
<rect x="354.70" y="205.98" width="1.46" height="0.80" fill="#a39a8c" fill-opacity="0.55"/>
<rect x="357.76" y="41.39" width="1.46" height="0.80" fill="#a39a8c" fill-opacity="0.55"/>
<rect x="357.76" y="43.44" width="1.46" height="0.80" fill="#a39a8c" fill-opacity="0.55"/>
<rect x="357.76" y="204.24" width="1.46" height="0.80" fill="#a39a8c" fill-opacity="0.55"/>
<rect x="357.76" y="205.98" width="1.46" height="0.80" fill="#a39a8c" fill-opacity="0.55"/>
<rect x="360.82" y="41.39" width="1.46" height="0.80" fill="#a39a8c" fill-opacity="0.55"/>
<rect x="360.82" y="43.44" width="1.46" height="0.80" fill="#a39a8c" fill-opacity="0.55"/>
<rect x="360.82" y="204.24" width="1.46" height="0.80" fill="#a39a8c" fill-opacity="0.55"/>
<rect x="360.82" y="205.98" width="1.46" height="0.80" fill="#a39a8c" fill-opacity="0.55"/>
<rect x="363.87" y="41.39" width="1.46" height="0.80" fill="#a39a8c" fill-opacity="0.55"/>
<rect x="363.87" y="43.44" width="1.46" height="0.80" fill="#a39a8c" fill-opacity="0.55"/>
<rect x="363.87" y="204.24" width="1.46" height="0.80" fill="#a39a8c" fill-opacity="0.55"/>
<rect x="363.87" y="205.98" width="1.46" height="0.80" fill="#a39a8c" fill-opacity="0.55"/>
<rect x="366.93" y="41.39" width="1.46" height="0.80" fill="#a39a8c" fill-opacity="0.55"/>
<rect x="366.93" y="43.44" width="1.46" height="0.80" fill="#a39a8c" fill-opacity="0.55"/>
<rect x="366.93" y="204.24" width="1.46" height="0.80" fill="#a39a8c" fill-opacity="0.55"/>
<rect x="366.93" y="205.98" width="1.46" height="0.80" fill="#a39a8c" fill-opacity="0.55"/>
<rect x="369.99" y="41.39" width="1.46" height="0.80" fill="#a39a8c" fill-opacity="0.55"/>
<rect x="369.99" y="43.44" width="1.46" height="0.80" fill="#a39a8c" fill-opacity="0.55"/>
<rect x="369.99" y="204.24" width="1.46" height="0.80" fill="#a39a8c" fill-opacity="0.55"/>
<rect x="369.99" y="205.98" width="1.46" height="0.80" fill="#a39a8c" fill-opacity="0.55"/>
<rect x="373.05" y="41.39" width="1.46" height="0.80" fill="#a39a8c" fill-opacity="0.55"/>
<rect x="373.05" y="43.44" width="1.46" height="0.80" fill="#a39a8c" fill-opacity="0.55"/>
<rect x="373.05" y="204.24" width="1.46" height="0.80" fill="#a39a8c" fill-opacity="0.55"/>
<rect x="373.05" y="205.98" width="1.46" height="0.80" fill="#a39a8c" fill-opacity="0.55"/>
<rect x="376.10" y="41.39" width="1.46" height="0.80" fill="#a39a8c" fill-opacity="0.55"/>
<rect x="376.10" y="43.44" width="1.46" height="0.80" fill="#a39a8c" fill-opacity="0.55"/>
<rect x="376.10" y="204.24" width="1.46" height="0.80" fill="#a39a8c" fill-opacity="0.55"/>
<rect x="376.10" y="205.98" width="1.46" height="0.80" fill="#a39a8c" fill-opacity="0.55"/>
<rect x="379.16" y="41.39" width="1.46" height="0.80" fill="#a39a8c" fill-opacity="0.55"/>
<rect x="379.16" y="43.44" width="1.46" height="0.80" fill="#a39a8c" fill-opacity="0.55"/>
<rect x="379.16" y="204.24" width="1.46" height="0.80" fill="#a39a8c" fill-opacity="0.55"/>
<rect x="379.16" y="205.98" width="1.46" height="0.80" fill="#a39a8c" fill-opacity="0.55"/>
<rect x="382.22" y="41.39" width="1.46" height="0.80" fill="#a39a8c" fill-opacity="0.55"/>
<rect x="382.22" y="43.44" width="1.46" height="0.80" fill="#a39a8c" fill-opacity="0.55"/>
<rect x="382.22" y="204.24" width="1.46" height="0.80" fill="#a39a8c" fill-opacity="0.55"/>
<rect x="382.22" y="205.98" width="1.46" height="0.80" fill="#a39a8c" fill-opacity="0.55"/>
<rect x="385.28" y="41.39" width="1.46" height="0.80" fill="#a39a8c" fill-opacity="0.55"/>
<rect x="385.28" y="43.44" width="1.46" height="0.80" fill="#a39a8c" fill-opacity="0.55"/>
<rect x="385.28" y="204.24" width="1.46" height="0.80" fill="#a39a8c" fill-opacity="0.55"/>
<rect x="385.28" y="205.98" width="1.46" height="0.80" fill="#a39a8c" fill-opacity="0.55"/>
<rect x="388.33" y="41.39" width="1.46" height="0.80" fill="#a39a8c" fill-opacity="0.55"/>
<rect x="388.33" y="43.44" width="1.46" height="0.80" fill="#a39a8c" fill-opacity="0.55"/>
<rect x="388.33" y="204.24" width="1.46" height="0.80" fill="#a39a8c" fill-opacity="0.55"/>
<rect x="388.33" y="205.98" width="1.46" height="0.80" fill="#a39a8c" fill-opacity="0.55"/>
<rect x="391.39" y="41.39" width="1.46" height="0.80" fill="#a39a8c" fill-opacity="0.55"/>
<rect x="391.39" y="43.44" width="1.46" height="0.80" fill="#a39a8c" fill-opacity="0.55"/>
<rect x="391.39" y="204.24" width="1.46" height="0.80" fill="#a39a8c" fill-opacity="0.55"/>
<rect x="391.39" y="205.98" width="1.46" height="0.80" fill="#a39a8c" fill-opacity="0.55"/>
<rect x="394.45" y="41.39" width="1.46" height="0.80" fill="#a39a8c" fill-opacity="0.55"/>
<rect x="394.45" y="43.44" width="1.46" height="0.80" fill="#a39a8c" fill-opacity="0.55"/>
<rect x="394.45" y="204.24" width="1.46" height="0.80" fill="#a39a8c" fill-opacity="0.55"/>
<rect x="394.45" y="205.98" width="1.46" height="0.80" fill="#a39a8c" fill-opacity="0.55"/>
<rect x="397.51" y="41.39" width="1.46" height="0.80" fill="#a39a8c" fill-opacity="0.55"/>
<rect x="397.51" y="43.44" width="1.46" height="0.80" fill="#a39a8c" fill-opacity="0.55"/>
<rect x="397.51" y="204.24" width="1.46" height="0.80" fill="#a39a8c" fill-opacity="0.55"/>
<rect x="397.51" y="205.98" width="1.46" height="0.80" fill="#a39a8c" fill-opacity="0.55"/>
<rect x="400.56" y="41.39" width="1.46" height="0.80" fill="#a39a8c" fill-opacity="0.55"/>
<rect x="400.56" y="43.44" width="1.46" height="0.80" fill="#a39a8c" fill-opacity="0.55"/>
<rect x="400.56" y="204.24" width="1.46" height="0.80" fill="#a39a8c" fill-opacity="0.55"/>
<rect x="400.56" y="205.98" width="1.46" height="0.80" fill="#a39a8c" fill-opacity="0.55"/>
<rect x="403.62" y="41.39" width="1.46" height="0.80" fill="#a39a8c" fill-opacity="0.55"/>
<rect x="403.62" y="43.44" width="1.46" height="0.80" fill="#a39a8c" fill-opacity="0.55"/>
<rect x="403.62" y="204.24" width="1.46" height="0.80" fill="#a39a8c" fill-opacity="0.55"/>
<rect x="403.62" y="205.98" width="1.46" height="0.80" fill="#a39a8c" fill-opacity="0.55"/>
<rect x="406.68" y="41.39" width="1.46" height="0.80" fill="#a39a8c" fill-opacity="0.55"/>
<rect x="406.68" y="43.44" width="1.46" height="0.80" fill="#a39a8c" fill-opacity="0.55"/>
<rect x="406.68" y="204.24" width="1.46" height="0.80" fill="#a39a8c" fill-opacity="0.55"/>
<rect x="406.68" y="205.98" width="1.46" height="0.80" fill="#a39a8c" fill-opacity="0.55"/>
<rect x="409.74" y="41.39" width="1.46" height="0.80" fill="#a39a8c" fill-opacity="0.55"/>
<rect x="409.74" y="43.44" width="1.46" height="0.80" fill="#a39a8c" fill-opacity="0.55"/>
<rect x="409.74" y="204.24" width="1.46" height="0.80" fill="#a39a8c" fill-opacity="0.55"/>
<rect x="409.74" y="205.98" width="1.46" height="0.80" fill="#a39a8c" fill-opacity="0.55"/>
<rect x="412.79" y="41.39" width="1.46" height="0.80" fill="#a39a8c" fill-opacity="0.55"/>
<rect x="412.79" y="43.44" width="1.46" height="0.80" fill="#a39a8c" fill-opacity="0.55"/>
<rect x="412.79" y="204.24" width="1.46" height="0.80" fill="#a39a8c" fill-opacity="0.55"/>
<rect x="412.79" y="205.98" width="1.46" height="0.80" fill="#a39a8c" fill-opacity="0.55"/>
<rect x="415.85" y="41.39" width="1.46" height="0.80" fill="#a39a8c" fill-opacity="0.55"/>
<rect x="415.85" y="43.44" width="1.46" height="0.80" fill="#a39a8c" fill-opacity="0.55"/>
<rect x="415.85" y="204.24" width="1.46" height="0.80" fill="#a39a8c" fill-opacity="0.55"/>
<rect x="415.85" y="205.98" width="1.46" height="0.80" fill="#a39a8c" fill-opacity="0.55"/>
<rect x="418.91" y="41.39" width="1.46" height="0.80" fill="#a39a8c" fill-opacity="0.55"/>
<rect x="418.91" y="43.44" width="1.46" height="0.80" fill="#a39a8c" fill-opacity="0.55"/>
<rect x="418.91" y="204.24" width="1.46" height="0.80" fill="#a39a8c" fill-opacity="0.55"/>
<rect x="418.91" y="205.98" width="1.46" height="0.80" fill="#a39a8c" fill-opacity="0.55"/>
<rect x="421.97" y="41.39" width="1.46" height="0.80" fill="#a39a8c" fill-opacity="0.55"/>
<rect x="421.97" y="43.44" width="1.46" height="0.80" fill="#a39a8c" fill-opacity="0.55"/>
<rect x="421.97" y="204.24" width="1.46" height="0.80" fill="#a39a8c" fill-opacity="0.55"/>
<rect x="421.97" y="205.98" width="1.46" height="0.80" fill="#a39a8c" fill-opacity="0.55"/>
<rect x="425.02" y="41.39" width="1.46" height="0.80" fill="#a39a8c" fill-opacity="0.55"/>
<rect x="425.02" y="43.44" width="1.46" height="0.80" fill="#a39a8c" fill-opacity="0.55"/>
<rect x="425.02" y="204.24" width="1.46" height="0.80" fill="#a39a8c" fill-opacity="0.55"/>
<rect x="425.02" y="205.98" width="1.46" height="0.80" fill="#a39a8c" fill-opacity="0.55"/>
<rect x="428.08" y="41.39" width="1.46" height="0.80" fill="#a39a8c" fill-opacity="0.55"/>
<rect x="428.08" y="43.44" width="1.46" height="0.80" fill="#a39a8c" fill-opacity="0.55"/>
<rect x="428.08" y="204.24" width="1.46" height="0.80" fill="#a39a8c" fill-opacity="0.55"/>
<rect x="428.08" y="205.98" width="1.46" height="0.80" fill="#a39a8c" fill-opacity="0.55"/>
<rect x="431.14" y="41.39" width="1.46" height="0.80" fill="#a39a8c" fill-opacity="0.55"/>
<rect x="431.14" y="43.44" width="1.46" height="0.80" fill="#a39a8c" fill-opacity="0.55"/>
<rect x="431.14" y="204.24" width="1.46" height="0.80" fill="#a39a8c" fill-opacity="0.55"/>
<rect x="431.14" y="205.98" width="1.46" height="0.80" fill="#a39a8c" fill-opacity="0.55"/>
<rect x="434.20" y="41.39" width="1.46" height="0.80" fill="#a39a8c" fill-opacity="0.55"/>
<rect x="434.20" y="43.44" width="1.46" height="0.80" fill="#a39a8c" fill-opacity="0.55"/>
<rect x="434.20" y="204.24" width="1.46" height="0.80" fill="#a39a8c" fill-opacity="0.55"/>
<rect x="434.20" y="205.98" width="1.46" height="0.80" fill="#a39a8c" fill-opacity="0.55"/>
<rect x="437.25" y="41.39" width="1.46" height="0.80" fill="#a39a8c" fill-opacity="0.55"/>
<rect x="437.25" y="43.44" width="1.46" height="0.80" fill="#a39a8c" fill-opacity="0.55"/>
<rect x="437.25" y="204.24" width="1.46" height="0.80" fill="#a39a8c" fill-opacity="0.55"/>
<rect x="437.25" y="205.98" width="1.46" height="0.80" fill="#a39a8c" fill-opacity="0.55"/>
<rect x="440.31" y="41.39" width="1.46" height="0.80" fill="#a39a8c" fill-opacity="0.55"/>
<rect x="440.31" y="43.44" width="1.46" height="0.80" fill="#a39a8c" fill-opacity="0.55"/>
<rect x="440.31" y="204.24" width="1.46" height="0.80" fill="#a39a8c" fill-opacity="0.55"/>
<rect x="440.31" y="205.98" width="1.46" height="0.80" fill="#a39a8c" fill-opacity="0.55"/>
<rect x="443.37" y="41.39" width="1.46" height="0.80" fill="#a39a8c" fill-opacity="0.55"/>
<rect x="443.37" y="43.44" width="1.46" height="0.80" fill="#a39a8c" fill-opacity="0.55"/>
<rect x="443.37" y="204.24" width="1.46" height="0.80" fill="#a39a8c" fill-opacity="0.55"/>
<rect x="443.37" y="205.98" width="1.46" height="0.80" fill="#a39a8c" fill-opacity="0.55"/>
<rect x="446.42" y="41.39" width="1.46" height="0.80" fill="#a39a8c" fill-opacity="0.55"/>
<rect x="446.42" y="43.44" width="1.46" height="0.80" fill="#a39a8c" fill-opacity="0.55"/>
<rect x="446.42" y="204.24" width="1.46" height="0.80" fill="#a39a8c" fill-opacity="0.55"/>
<rect x="446.42" y="205.98" width="1.46" height="0.80" fill="#a39a8c" fill-opacity="0.55"/>
<rect x="449.48" y="41.39" width="1.46" height="0.80" fill="#a39a8c" fill-opacity="0.55"/>
<rect x="449.48" y="43.44" width="1.46" height="0.80" fill="#a39a8c" fill-opacity="0.55"/>
<rect x="449.48" y="204.24" width="1.46" height="0.80" fill="#a39a8c" fill-opacity="0.55"/>
<rect x="449.48" y="205.98" width="1.46" height="0.80" fill="#a39a8c" fill-opacity="0.55"/>
<rect x="452.54" y="41.39" width="1.46" height="0.80" fill="#a39a8c" fill-opacity="0.55"/>
<rect x="452.54" y="43.44" width="1.46" height="0.80" fill="#a39a8c" fill-opacity="0.55"/>
<rect x="452.54" y="204.24" width="1.46" height="0.80" fill="#a39a8c" fill-opacity="0.55"/>
<rect x="452.54" y="205.98" width="1.46" height="0.80" fill="#a39a8c" fill-opacity="0.55"/>
<rect x="455.60" y="41.39" width="1.46" height="0.80" fill="#a39a8c" fill-opacity="0.55"/>
<rect x="455.60" y="43.44" width="1.46" height="0.80" fill="#a39a8c" fill-opacity="0.55"/>
<rect x="455.60" y="204.24" width="1.46" height="0.80" fill="#a39a8c" fill-opacity="0.55"/>
<rect x="455.60" y="205.98" width="1.46" height="0.80" fill="#a39a8c" fill-opacity="0.55"/>
<rect x="458.65" y="41.39" width="1.46" height="0.80" fill="#a39a8c" fill-opacity="0.55"/>
<rect x="458.65" y="43.44" width="1.46" height="0.80" fill="#a39a8c" fill-opacity="0.55"/>
<rect x="458.65" y="204.24" width="1.46" height="0.80" fill="#a39a8c" fill-opacity="0.55"/>
<rect x="458.65" y="205.98" width="1.46" height="0.80" fill="#a39a8c" fill-opacity="0.55"/>
<rect x="461.71" y="41.39" width="1.46" height="0.80" fill="#a39a8c" fill-opacity="0.55"/>
<rect x="461.71" y="43.44" width="1.46" height="0.80" fill="#a39a8c" fill-opacity="0.55"/>
<rect x="461.71" y="204.24" width="1.46" height="0.80" fill="#a39a8c" fill-opacity="0.55"/>
<rect x="461.71" y="205.98" width="1.46" height="0.80" fill="#a39a8c" fill-opacity="0.55"/>
<rect x="464.77" y="41.39" width="1.46" height="0.80" fill="#a39a8c" fill-opacity="0.55"/>
<rect x="464.77" y="43.44" width="1.46" height="0.80" fill="#a39a8c" fill-opacity="0.55"/>
<rect x="464.77" y="204.24" width="1.46" height="0.80" fill="#a39a8c" fill-opacity="0.55"/>
<rect x="464.77" y="205.98" width="1.46" height="0.80" fill="#a39a8c" fill-opacity="0.55"/>
<rect x="467.83" y="41.39" width="1.46" height="0.80" fill="#a39a8c" fill-opacity="0.55"/>
<rect x="467.83" y="43.44" width="1.46" height="0.80" fill="#a39a8c" fill-opacity="0.55"/>
<rect x="467.83" y="204.24" width="1.46" height="0.80" fill="#a39a8c" fill-opacity="0.55"/>
<rect x="467.83" y="205.98" width="1.46" height="0.80" fill="#a39a8c" fill-opacity="0.55"/>
<rect x="470.88" y="41.39" width="1.46" height="0.80" fill="#a39a8c" fill-opacity="0.55"/>
<rect x="470.88" y="43.44" width="1.46" height="0.80" fill="#a39a8c" fill-opacity="0.55"/>
<rect x="470.88" y="204.24" width="1.46" height="0.80" fill="#a39a8c" fill-opacity="0.55"/>
<rect x="470.88" y="205.98" width="1.46" height="0.80" fill="#a39a8c" fill-opacity="0.55"/>
<rect x="473.94" y="41.39" width="1.46" height="0.80" fill="#a39a8c" fill-opacity="0.55"/>
<rect x="473.94" y="43.44" width="1.46" height="0.80" fill="#a39a8c" fill-opacity="0.55"/>
<rect x="473.94" y="204.24" width="1.46" height="0.80" fill="#a39a8c" fill-opacity="0.55"/>
<rect x="473.94" y="205.98" width="1.46" height="0.80" fill="#a39a8c" fill-opacity="0.55"/>
<rect x="477.00" y="41.39" width="1.46" height="0.80" fill="#a39a8c" fill-opacity="0.55"/>
<rect x="477.00" y="43.44" width="1.46" height="0.80" fill="#a39a8c" fill-opacity="0.55"/>
<rect x="477.00" y="204.24" width="1.46" height="0.80" fill="#a39a8c" fill-opacity="0.55"/>
<rect x="477.00" y="205.98" width="1.46" height="0.80" fill="#a39a8c" fill-opacity="0.55"/>
<rect x="480.06" y="41.39" width="1.46" height="0.80" fill="#a39a8c" fill-opacity="0.55"/>
<rect x="480.06" y="43.44" width="1.46" height="0.80" fill="#a39a8c" fill-opacity="0.55"/>
<rect x="480.06" y="204.24" width="1.46" height="0.80" fill="#a39a8c" fill-opacity="0.55"/>
<rect x="480.06" y="205.98" width="1.46" height="0.80" fill="#a39a8c" fill-opacity="0.55"/>
<rect x="483.11" y="41.39" width="1.46" height="0.80" fill="#a39a8c" fill-opacity="0.55"/>
<rect x="483.11" y="43.44" width="1.46" height="0.80" fill="#a39a8c" fill-opacity="0.55"/>
<rect x="483.11" y="204.24" width="1.46" height="0.80" fill="#a39a8c" fill-opacity="0.55"/>
<rect x="483.11" y="205.98" width="1.46" height="0.80" fill="#a39a8c" fill-opacity="0.55"/>
<rect x="486.17" y="41.39" width="1.46" height="0.80" fill="#a39a8c" fill-opacity="0.55"/>
<rect x="486.17" y="43.44" width="1.46" height="0.80" fill="#a39a8c" fill-opacity="0.55"/>
<rect x="486.17" y="204.24" width="1.46" height="0.80" fill="#a39a8c" fill-opacity="0.55"/>
<rect x="486.17" y="205.98" width="1.46" height="0.80" fill="#a39a8c" fill-opacity="0.55"/>
<rect x="489.23" y="41.39" width="1.46" height="0.80" fill="#a39a8c" fill-opacity="0.55"/>
<rect x="489.23" y="43.44" width="1.46" height="0.80" fill="#a39a8c" fill-opacity="0.55"/>
<rect x="489.23" y="204.24" width="1.46" height="0.80" fill="#a39a8c" fill-opacity="0.55"/>
<rect x="489.23" y="205.98" width="1.46" height="0.80" fill="#a39a8c" fill-opacity="0.55"/>
<rect x="492.29" y="41.39" width="1.46" height="0.80" fill="#a39a8c" fill-opacity="0.55"/>
<rect x="492.29" y="43.44" width="1.46" height="0.80" fill="#a39a8c" fill-opacity="0.55"/>
<rect x="492.29" y="204.24" width="1.46" height="0.80" fill="#a39a8c" fill-opacity="0.55"/>
<rect x="492.29" y="205.98" width="1.46" height="0.80" fill="#a39a8c" fill-opacity="0.55"/>
<rect x="495.34" y="41.39" width="1.46" height="0.80" fill="#a39a8c" fill-opacity="0.55"/>
<rect x="495.34" y="43.44" width="1.46" height="0.80" fill="#a39a8c" fill-opacity="0.55"/>
<rect x="495.34" y="204.24" width="1.46" height="0.80" fill="#a39a8c" fill-opacity="0.55"/>
<rect x="495.34" y="205.98" width="1.46" height="0.80" fill="#a39a8c" fill-opacity="0.55"/>
<rect x="498.40" y="41.39" width="1.46" height="0.80" fill="#a39a8c" fill-opacity="0.55"/>
<rect x="498.40" y="43.44" width="1.46" height="0.80" fill="#a39a8c" fill-opacity="0.55"/>
<rect x="498.40" y="204.24" width="1.46" height="0.80" fill="#a39a8c" fill-opacity="0.55"/>
<rect x="498.40" y="205.98" width="1.46" height="0.80" fill="#a39a8c" fill-opacity="0.55"/>
<rect x="501.46" y="41.39" width="1.46" height="0.80" fill="#a39a8c" fill-opacity="0.55"/>
<rect x="501.46" y="43.44" width="1.46" height="0.80" fill="#a39a8c" fill-opacity="0.55"/>
<rect x="501.46" y="204.24" width="1.46" height="0.80" fill="#a39a8c" fill-opacity="0.55"/>
<rect x="501.46" y="205.98" width="1.46" height="0.80" fill="#a39a8c" fill-opacity="0.55"/>
<rect x="504.52" y="41.39" width="1.46" height="0.80" fill="#a39a8c" fill-opacity="0.55"/>
<rect x="504.52" y="43.44" width="1.46" height="0.80" fill="#a39a8c" fill-opacity="0.55"/>
<rect x="504.52" y="204.24" width="1.46" height="0.80" fill="#a39a8c" fill-opacity="0.55"/>
<rect x="504.52" y="205.98" width="1.46" height="0.80" fill="#a39a8c" fill-opacity="0.55"/>
<rect x="507.57" y="41.39" width="1.46" height="0.80" fill="#a39a8c" fill-opacity="0.55"/>
<rect x="507.57" y="43.44" width="1.46" height="0.80" fill="#a39a8c" fill-opacity="0.55"/>
<rect x="507.57" y="204.24" width="1.46" height="0.80" fill="#a39a8c" fill-opacity="0.55"/>
<rect x="507.57" y="205.98" width="1.46" height="0.80" fill="#a39a8c" fill-opacity="0.55"/>
<rect x="510.63" y="41.39" width="1.46" height="0.80" fill="#a39a8c" fill-opacity="0.55"/>
<rect x="510.63" y="43.44" width="1.46" height="0.80" fill="#a39a8c" fill-opacity="0.55"/>
<rect x="510.63" y="204.24" width="1.46" height="0.80" fill="#a39a8c" fill-opacity="0.55"/>
<rect x="510.63" y="205.98" width="1.46" height="0.80" fill="#a39a8c" fill-opacity="0.55"/>
<rect x="513.69" y="41.39" width="1.46" height="0.80" fill="#a39a8c" fill-opacity="0.55"/>
<rect x="513.69" y="43.44" width="1.46" height="0.80" fill="#a39a8c" fill-opacity="0.55"/>
<rect x="513.69" y="204.24" width="1.46" height="0.80" fill="#a39a8c" fill-opacity="0.55"/>
<rect x="513.69" y="205.98" width="1.46" height="0.80" fill="#a39a8c" fill-opacity="0.55"/>
<rect x="516.75" y="41.39" width="1.46" height="0.80" fill="#a39a8c" fill-opacity="0.55"/>
<rect x="516.75" y="43.44" width="1.46" height="0.80" fill="#a39a8c" fill-opacity="0.55"/>
<rect x="516.75" y="204.24" width="1.46" height="0.80" fill="#a39a8c" fill-opacity="0.55"/>
<rect x="516.75" y="205.98" width="1.46" height="0.80" fill="#a39a8c" fill-opacity="0.55"/>
<rect x="519.80" y="41.39" width="1.46" height="0.80" fill="#a39a8c" fill-opacity="0.55"/>
<rect x="519.80" y="43.44" width="1.46" height="0.80" fill="#a39a8c" fill-opacity="0.55"/>
<rect x="519.80" y="204.24" width="1.46" height="0.80" fill="#a39a8c" fill-opacity="0.55"/>
<rect x="519.80" y="205.98" width="1.46" height="0.80" fill="#a39a8c" fill-opacity="0.55"/>
<rect x="522.86" y="41.39" width="1.46" height="0.80" fill="#a39a8c" fill-opacity="0.55"/>
<rect x="522.86" y="43.44" width="1.46" height="0.80" fill="#a39a8c" fill-opacity="0.55"/>
<rect x="522.86" y="204.24" width="1.46" height="0.80" fill="#a39a8c" fill-opacity="0.55"/>
<rect x="522.86" y="205.98" width="1.46" height="0.80" fill="#a39a8c" fill-opacity="0.55"/>
<rect x="525.92" y="41.39" width="1.46" height="0.80" fill="#a39a8c" fill-opacity="0.55"/>
<rect x="525.92" y="43.44" width="1.46" height="0.80" fill="#a39a8c" fill-opacity="0.55"/>
<rect x="525.92" y="204.24" width="1.46" height="0.80" fill="#a39a8c" fill-opacity="0.55"/>
<rect x="525.92" y="205.98" width="1.46" height="0.80" fill="#a39a8c" fill-opacity="0.55"/>
<rect x="528.98" y="41.39" width="1.46" height="0.80" fill="#a39a8c" fill-opacity="0.55"/>
<rect x="528.98" y="43.44" width="1.46" height="0.80" fill="#a39a8c" fill-opacity="0.55"/>
<rect x="528.98" y="204.24" width="1.46" height="0.80" fill="#a39a8c" fill-opacity="0.55"/>
<rect x="528.98" y="205.98" width="1.46" height="0.80" fill="#a39a8c" fill-opacity="0.55"/>
<rect x="532.03" y="41.39" width="1.46" height="0.80" fill="#a39a8c" fill-opacity="0.55"/>
<rect x="532.03" y="43.44" width="1.46" height="0.80" fill="#a39a8c" fill-opacity="0.55"/>
<rect x="532.03" y="204.24" width="1.46" height="0.80" fill="#a39a8c" fill-opacity="0.55"/>
<rect x="532.03" y="205.98" width="1.46" height="0.80" fill="#a39a8c" fill-opacity="0.55"/>
<rect x="535.09" y="41.39" width="1.46" height="0.80" fill="#a39a8c" fill-opacity="0.55"/>
<rect x="535.09" y="43.44" width="1.46" height="0.80" fill="#a39a8c" fill-opacity="0.55"/>
<rect x="535.09" y="204.24" width="1.46" height="0.80" fill="#a39a8c" fill-opacity="0.55"/>
<rect x="535.09" y="205.98" width="1.46" height="0.80" fill="#a39a8c" fill-opacity="0.55"/>
<rect x="538.15" y="41.39" width="1.46" height="0.80" fill="#a39a8c" fill-opacity="0.55"/>
<rect x="538.15" y="43.44" width="1.46" height="0.80" fill="#a39a8c" fill-opacity="0.55"/>
<rect x="538.15" y="204.24" width="1.46" height="0.80" fill="#a39a8c" fill-opacity="0.55"/>
<rect x="538.15" y="205.98" width="1.46" height="0.80" fill="#a39a8c" fill-opacity="0.55"/>
<rect x="541.21" y="41.39" width="1.46" height="0.80" fill="#a39a8c" fill-opacity="0.55"/>
<rect x="541.21" y="43.44" width="1.46" height="0.80" fill="#a39a8c" fill-opacity="0.55"/>
<rect x="541.21" y="204.24" width="1.46" height="0.80" fill="#a39a8c" fill-opacity="0.55"/>
<rect x="541.21" y="205.98" width="1.46" height="0.80" fill="#a39a8c" fill-opacity="0.55"/>
<rect x="544.26" y="41.39" width="1.46" height="0.80" fill="#a39a8c" fill-opacity="0.55"/>
<rect x="544.26" y="43.44" width="1.46" height="0.80" fill="#a39a8c" fill-opacity="0.55"/>
<rect x="544.26" y="204.24" width="1.46" height="0.80" fill="#a39a8c" fill-opacity="0.55"/>
<rect x="544.26" y="205.98" width="1.46" height="0.80" fill="#a39a8c" fill-opacity="0.55"/>
<rect x="547.32" y="41.39" width="1.46" height="0.80" fill="#a39a8c" fill-opacity="0.55"/>
<rect x="547.32" y="43.44" width="1.46" height="0.80" fill="#a39a8c" fill-opacity="0.55"/>
<rect x="547.32" y="204.24" width="1.46" height="0.80" fill="#a39a8c" fill-opacity="0.55"/>
<rect x="547.32" y="205.98" width="1.46" height="0.80" fill="#a39a8c" fill-opacity="0.55"/>
<rect x="550.38" y="41.39" width="1.46" height="0.80" fill="#a39a8c" fill-opacity="0.55"/>
<rect x="550.38" y="43.44" width="1.46" height="0.80" fill="#a39a8c" fill-opacity="0.55"/>
<rect x="550.38" y="204.24" width="1.46" height="0.80" fill="#a39a8c" fill-opacity="0.55"/>
<rect x="550.38" y="205.98" width="1.46" height="0.80" fill="#a39a8c" fill-opacity="0.55"/>
<rect x="553.44" y="41.39" width="1.46" height="0.80" fill="#a39a8c" fill-opacity="0.55"/>
<rect x="553.44" y="43.44" width="1.46" height="0.80" fill="#a39a8c" fill-opacity="0.55"/>
<rect x="553.44" y="204.24" width="1.46" height="0.80" fill="#a39a8c" fill-opacity="0.55"/>
<rect x="553.44" y="205.98" width="1.46" height="0.80" fill="#a39a8c" fill-opacity="0.55"/>
<rect x="556.49" y="41.39" width="1.46" height="0.80" fill="#a39a8c" fill-opacity="0.55"/>
<rect x="556.49" y="43.44" width="1.46" height="0.80" fill="#a39a8c" fill-opacity="0.55"/>
<rect x="556.49" y="204.24" width="1.46" height="0.80" fill="#a39a8c" fill-opacity="0.55"/>
<rect x="556.49" y="205.98" width="1.46" height="0.80" fill="#a39a8c" fill-opacity="0.55"/>
<rect x="559.55" y="41.39" width="1.46" height="0.80" fill="#a39a8c" fill-opacity="0.55"/>
<rect x="559.55" y="43.44" width="1.46" height="0.80" fill="#a39a8c" fill-opacity="0.55"/>
<rect x="559.55" y="204.24" width="1.46" height="0.80" fill="#a39a8c" fill-opacity="0.55"/>
<rect x="559.55" y="205.98" width="1.46" height="0.80" fill="#a39a8c" fill-opacity="0.55"/>
<rect x="562.61" y="41.39" width="1.46" height="0.80" fill="#a39a8c" fill-opacity="0.55"/>
<rect x="562.61" y="43.44" width="1.46" height="0.80" fill="#a39a8c" fill-opacity="0.55"/>
<rect x="562.61" y="204.24" width="1.46" height="0.80" fill="#a39a8c" fill-opacity="0.55"/>
<rect x="562.61" y="205.98" width="1.46" height="0.80" fill="#a39a8c" fill-opacity="0.55"/>
<rect x="565.67" y="41.39" width="1.46" height="0.80" fill="#a39a8c" fill-opacity="0.55"/>
<rect x="565.67" y="43.44" width="1.46" height="0.80" fill="#a39a8c" fill-opacity="0.55"/>
<rect x="565.67" y="204.24" width="1.46" height="0.80" fill="#a39a8c" fill-opacity="0.55"/>
<rect x="565.67" y="205.98" width="1.46" height="0.80" fill="#a39a8c" fill-opacity="0.55"/>
<rect x="568.72" y="41.39" width="1.46" height="0.80" fill="#a39a8c" fill-opacity="0.55"/>
<rect x="568.72" y="43.44" width="1.46" height="0.80" fill="#a39a8c" fill-opacity="0.55"/>
<rect x="568.72" y="204.24" width="1.46" height="0.80" fill="#a39a8c" fill-opacity="0.55"/>
<rect x="568.72" y="205.98" width="1.46" height="0.80" fill="#a39a8c" fill-opacity="0.55"/>
<rect x="571.78" y="41.39" width="1.46" height="0.80" fill="#a39a8c" fill-opacity="0.55"/>
<rect x="571.78" y="43.44" width="1.46" height="0.80" fill="#a39a8c" fill-opacity="0.55"/>
<rect x="571.78" y="204.24" width="1.46" height="0.80" fill="#a39a8c" fill-opacity="0.55"/>
<rect x="571.78" y="205.98" width="1.46" height="0.80" fill="#a39a8c" fill-opacity="0.55"/>
<rect x="574.84" y="41.39" width="1.46" height="0.80" fill="#a39a8c" fill-opacity="0.55"/>
<rect x="574.84" y="43.44" width="1.46" height="0.80" fill="#a39a8c" fill-opacity="0.55"/>
<rect x="574.84" y="204.24" width="1.46" height="0.80" fill="#a39a8c" fill-opacity="0.55"/>
<rect x="574.84" y="205.98" width="1.46" height="0.80" fill="#a39a8c" fill-opacity="0.55"/>
<rect x="577.90" y="41.39" width="1.46" height="0.80" fill="#a39a8c" fill-opacity="0.55"/>
<rect x="577.90" y="43.44" width="1.46" height="0.80" fill="#a39a8c" fill-opacity="0.55"/>
<rect x="577.90" y="204.24" width="1.46" height="0.80" fill="#a39a8c" fill-opacity="0.55"/>
<rect x="577.90" y="205.98" width="1.46" height="0.80" fill="#a39a8c" fill-opacity="0.55"/>
<rect x="580.95" y="41.39" width="1.46" height="0.80" fill="#a39a8c" fill-opacity="0.55"/>
<rect x="580.95" y="43.44" width="1.46" height="0.80" fill="#a39a8c" fill-opacity="0.55"/>
<rect x="580.95" y="204.24" width="1.46" height="0.80" fill="#a39a8c" fill-opacity="0.55"/>
<rect x="580.95" y="205.98" width="1.46" height="0.80" fill="#a39a8c" fill-opacity="0.55"/>
<rect x="584.01" y="41.39" width="1.46" height="0.80" fill="#a39a8c" fill-opacity="0.55"/>
<rect x="584.01" y="43.44" width="1.46" height="0.80" fill="#a39a8c" fill-opacity="0.55"/>
<rect x="584.01" y="204.24" width="1.46" height="0.80" fill="#a39a8c" fill-opacity="0.55"/>
<rect x="584.01" y="205.98" width="1.46" height="0.80" fill="#a39a8c" fill-opacity="0.55"/>
<rect x="587.07" y="41.39" width="1.46" height="0.80" fill="#a39a8c" fill-opacity="0.55"/>
<rect x="587.07" y="43.44" width="1.46" height="0.80" fill="#a39a8c" fill-opacity="0.55"/>
<rect x="587.07" y="204.24" width="1.46" height="0.80" fill="#a39a8c" fill-opacity="0.55"/>
<rect x="587.07" y="205.98" width="1.46" height="0.80" fill="#a39a8c" fill-opacity="0.55"/>
<rect x="590.13" y="41.39" width="1.46" height="0.80" fill="#a39a8c" fill-opacity="0.55"/>
<rect x="590.13" y="43.44" width="1.46" height="0.80" fill="#a39a8c" fill-opacity="0.55"/>
<rect x="590.13" y="204.24" width="1.46" height="0.80" fill="#a39a8c" fill-opacity="0.55"/>
<rect x="590.13" y="205.98" width="1.46" height="0.80" fill="#a39a8c" fill-opacity="0.55"/>
<rect x="593.18" y="41.39" width="1.46" height="0.80" fill="#a39a8c" fill-opacity="0.55"/>
<rect x="593.18" y="43.44" width="1.46" height="0.80" fill="#a39a8c" fill-opacity="0.55"/>
<rect x="593.18" y="204.24" width="1.46" height="0.80" fill="#a39a8c" fill-opacity="0.55"/>
<rect x="593.18" y="205.98" width="1.46" height="0.80" fill="#a39a8c" fill-opacity="0.55"/>
<rect x="596.24" y="41.39" width="1.46" height="0.80" fill="#a39a8c" fill-opacity="0.55"/>
<rect x="596.24" y="43.44" width="1.46" height="0.80" fill="#a39a8c" fill-opacity="0.55"/>
<rect x="596.24" y="204.24" width="1.46" height="0.80" fill="#a39a8c" fill-opacity="0.55"/>
<rect x="596.24" y="205.98" width="1.46" height="0.80" fill="#a39a8c" fill-opacity="0.55"/>
<rect x="599.30" y="41.39" width="1.46" height="0.80" fill="#a39a8c" fill-opacity="0.55"/>
<rect x="599.30" y="43.44" width="1.46" height="0.80" fill="#a39a8c" fill-opacity="0.55"/>
<rect x="599.30" y="204.24" width="1.46" height="0.80" fill="#a39a8c" fill-opacity="0.55"/>
<rect x="599.30" y="205.98" width="1.46" height="0.80" fill="#a39a8c" fill-opacity="0.55"/>
<rect x="602.36" y="41.39" width="1.46" height="0.80" fill="#a39a8c" fill-opacity="0.55"/>
<rect x="602.36" y="43.44" width="1.46" height="0.80" fill="#a39a8c" fill-opacity="0.55"/>
<rect x="602.36" y="204.24" width="1.46" height="0.80" fill="#a39a8c" fill-opacity="0.55"/>
<rect x="602.36" y="205.98" width="1.46" height="0.80" fill="#a39a8c" fill-opacity="0.55"/>
<rect x="605.41" y="41.39" width="1.46" height="0.80" fill="#a39a8c" fill-opacity="0.55"/>
<rect x="605.41" y="43.44" width="1.46" height="0.80" fill="#a39a8c" fill-opacity="0.55"/>
<rect x="605.41" y="204.24" width="1.46" height="0.80" fill="#a39a8c" fill-opacity="0.55"/>
<rect x="605.41" y="205.98" width="1.46" height="0.80" fill="#a39a8c" fill-opacity="0.55"/>
<rect x="608.47" y="41.39" width="1.46" height="0.80" fill="#a39a8c" fill-opacity="0.55"/>
<rect x="608.47" y="43.44" width="1.46" height="0.80" fill="#a39a8c" fill-opacity="0.55"/>
<rect x="608.47" y="204.24" width="1.46" height="0.80" fill="#a39a8c" fill-opacity="0.55"/>
<rect x="608.47" y="205.98" width="1.46" height="0.80" fill="#a39a8c" fill-opacity="0.55"/>
<rect x="611.53" y="41.39" width="1.46" height="0.80" fill="#a39a8c" fill-opacity="0.55"/>
<rect x="611.53" y="43.44" width="1.46" height="0.80" fill="#a39a8c" fill-opacity="0.55"/>
<rect x="611.53" y="204.24" width="1.46" height="0.80" fill="#a39a8c" fill-opacity="0.55"/>
<rect x="611.53" y="205.98" width="1.46" height="0.80" fill="#a39a8c" fill-opacity="0.55"/>
<rect x="614.59" y="41.39" width="1.46" height="0.80" fill="#a39a8c" fill-opacity="0.55"/>
<rect x="614.59" y="43.44" width="1.46" height="0.80" fill="#a39a8c" fill-opacity="0.55"/>
<rect x="614.59" y="204.24" width="1.46" height="0.80" fill="#a39a8c" fill-opacity="0.55"/>
<rect x="614.59" y="205.98" width="1.46" height="0.80" fill="#a39a8c" fill-opacity="0.55"/>
<rect x="617.64" y="41.39" width="1.46" height="0.80" fill="#a39a8c" fill-opacity="0.55"/>
<rect x="617.64" y="43.44" width="1.46" height="0.80" fill="#a39a8c" fill-opacity="0.55"/>
<rect x="617.64" y="204.24" width="1.46" height="0.80" fill="#a39a8c" fill-opacity="0.55"/>
<rect x="617.64" y="205.98" width="1.46" height="0.80" fill="#a39a8c" fill-opacity="0.55"/>
<path d="M72.50,22.20 L155.28,22.20 A6.00,6.00 0 0 1 161.28,28.20 L161.28,33.20 L161.28,33.20 L66.50,33.20 L66.50,33.20 L66.50,28.20 A6.00,6.00 0 0 1 72.50,22.20 Z" fill="#dfe1f0" />
<path d="M167.28,22.20 L240.89,22.20 A6.00,6.00 0 0 1 246.89,28.20 L246.89,33.20 L246.89,33.20 L161.28,33.20 L161.28,33.20 L161.28,28.20 A6.00,6.00 0 0 1 167.28,22.20 Z" fill="#dfe1f0" />
<path d="M252.89,22.20 L335.67,22.20 A6.00,6.00 0 0 1 341.67,28.20 L341.67,33.20 L341.67,33.20 L246.89,33.20 L246.89,33.20 L246.89,28.20 A6.00,6.00 0 0 1 252.89,22.20 Z" fill="#dfe1f0" />
<path d="M347.67,22.20 L427.40,22.20 A6.00,6.00 0 0 1 433.40,28.20 L433.40,33.20 L433.40,33.20 L341.67,33.20 L341.67,33.20 L341.67,28.20 A6.00,6.00 0 0 1 347.67,22.20 Z" fill="#dfe1f0" />
<path d="M439.40,22.20 L522.18,22.20 A6.00,6.00 0 0 1 528.18,28.20 L528.18,33.20 L528.18,33.20 L433.40,33.20 L433.40,33.20 L433.40,28.20 A6.00,6.00 0 0 1 439.40,22.20 Z" fill="#dfe1f0" />
<path d="M534.18,22.20 L613.90,22.20 A6.00,6.00 0 0 1 619.90,28.20 L619.90,33.20 L619.90,33.20 L528.18,33.20 L528.18,33.20 L528.18,28.20 A6.00,6.00 0 0 1 534.18,22.20 Z" fill="#dfe1f0" />
<rect x="66.50" y="28.20" width="553.40" height="5.00" fill="#dfe1f0" />
<text x="104.02" y="29.70" font-size="6.6" fill="#2a2a30" font-weight="bold" text-anchor="start" textLength="19.74" lengthAdjust="spacingAndGlyphs" stroke="#2a2a30" stroke-width="0.1">January</text>
<text x="193.07" y="29.70" font-size="6.6" fill="#2a2a30" font-weight="bold" text-anchor="start" textLength="22.03" lengthAdjust="spacingAndGlyphs" stroke="#2a2a30" stroke-width="0.1">February</text>
<text x="286.70" y="29.70" font-size="6.6" fill="#2a2a30" font-weight="bold" text-anchor="start" textLength="15.16" lengthAdjust="spacingAndGlyphs" stroke="#2a2a30" stroke-width="0.1">March</text>
<text x="381.67" y="29.70" font-size="6.6" fill="#2a2a30" font-weight="bold" text-anchor="start" textLength="11.73" lengthAdjust="spacingAndGlyphs" stroke="#2a2a30" stroke-width="0.1">April</text>
<text x="475.78" y="29.70" font-size="6.6" fill="#2a2a30" font-weight="bold" text-anchor="start" textLength="10.01" lengthAdjust="spacingAndGlyphs" stroke="#2a2a30" stroke-width="0.1">May</text>
<text x="568.03" y="29.70" font-size="6.6" fill="#2a2a30" font-weight="bold" text-anchor="start" textLength="12.01" lengthAdjust="spacingAndGlyphs" stroke="#2a2a30" stroke-width="0.1">June</text>
<rect x="66.50" y="33.00" width="553.40" height="7.20" fill="#e4e6f2" />
<line x1="78.73" y1="33.50" x2="78.73" y2="40.20" stroke="#c6d4f1" stroke-width="0.5" />
<text x="68.09" y="37.70" font-size="3.3" fill="#3a3a42" font-weight="bold" text-anchor="start" textLength="9.05" lengthAdjust="spacingAndGlyphs">Week 1</text>
<line x1="100.13" y1="33.50" x2="100.13" y2="40.20" stroke="#c6d4f1" stroke-width="0.5" />
<text x="84.91" y="37.70" font-size="3.3" fill="#3a3a42" font-weight="bold" text-anchor="start" textLength="9.05" lengthAdjust="spacingAndGlyphs">Week 2</text>
<line x1="121.53" y1="33.50" x2="121.53" y2="40.20" stroke="#c6d4f1" stroke-width="0.5" />
<text x="106.31" y="37.70" font-size="3.3" fill="#3a3a42" font-weight="bold" text-anchor="start" textLength="9.05" lengthAdjust="spacingAndGlyphs">Week 3</text>
<line x1="142.94" y1="33.50" x2="142.94" y2="40.20" stroke="#c6d4f1" stroke-width="0.5" />
<text x="127.71" y="37.70" font-size="3.3" fill="#3a3a42" font-weight="bold" text-anchor="start" textLength="9.05" lengthAdjust="spacingAndGlyphs">Week 4</text>
<line x1="164.34" y1="33.50" x2="164.34" y2="40.20" stroke="#c6d4f1" stroke-width="0.5" />
<text x="149.11" y="37.70" font-size="3.3" fill="#3a3a42" font-weight="bold" text-anchor="start" textLength="9.05" lengthAdjust="spacingAndGlyphs">Week 5</text>
<line x1="185.74" y1="33.50" x2="185.74" y2="40.20" stroke="#c6d4f1" stroke-width="0.5" />
<text x="170.51" y="37.70" font-size="3.3" fill="#3a3a42" font-weight="bold" text-anchor="start" textLength="9.05" lengthAdjust="spacingAndGlyphs">Week 6</text>
<line x1="207.14" y1="33.50" x2="207.14" y2="40.20" stroke="#c6d4f1" stroke-width="0.5" />
<text x="191.92" y="37.70" font-size="3.3" fill="#3a3a42" font-weight="bold" text-anchor="start" textLength="9.05" lengthAdjust="spacingAndGlyphs">Week 7</text>
<line x1="228.55" y1="33.50" x2="228.55" y2="40.20" stroke="#c6d4f1" stroke-width="0.5" />
<text x="213.32" y="37.70" font-size="3.3" fill="#3a3a42" font-weight="bold" text-anchor="start" textLength="9.05" lengthAdjust="spacingAndGlyphs">Week 8</text>
<line x1="249.95" y1="33.50" x2="249.95" y2="40.20" stroke="#c6d4f1" stroke-width="0.5" />
<text x="234.72" y="37.70" font-size="3.3" fill="#3a3a42" font-weight="bold" text-anchor="start" textLength="9.05" lengthAdjust="spacingAndGlyphs">Week 9</text>
<line x1="271.35" y1="33.50" x2="271.35" y2="40.20" stroke="#c6d4f1" stroke-width="0.5" />
<text x="255.39" y="37.70" font-size="3.3" fill="#3a3a42" font-weight="bold" text-anchor="start" textLength="10.52" lengthAdjust="spacingAndGlyphs">Week 10</text>
<line x1="292.75" y1="33.50" x2="292.75" y2="40.20" stroke="#c6d4f1" stroke-width="0.5" />
<text x="276.86" y="37.70" font-size="3.3" fill="#3a3a42" font-weight="bold" text-anchor="start" textLength="10.37" lengthAdjust="spacingAndGlyphs">Week 11</text>
<line x1="314.15" y1="33.50" x2="314.15" y2="40.20" stroke="#c6d4f1" stroke-width="0.5" />
<text x="298.19" y="37.70" font-size="3.3" fill="#3a3a42" font-weight="bold" text-anchor="start" textLength="10.52" lengthAdjust="spacingAndGlyphs">Week 12</text>
<line x1="335.56" y1="33.50" x2="335.56" y2="40.20" stroke="#c6d4f1" stroke-width="0.5" />
<text x="319.60" y="37.70" font-size="3.3" fill="#3a3a42" font-weight="bold" text-anchor="start" textLength="10.52" lengthAdjust="spacingAndGlyphs">Week 13</text>
<line x1="356.96" y1="33.50" x2="356.96" y2="40.20" stroke="#c6d4f1" stroke-width="0.5" />
<text x="341.00" y="37.70" font-size="3.3" fill="#3a3a42" font-weight="bold" text-anchor="start" textLength="10.52" lengthAdjust="spacingAndGlyphs">Week 14</text>
<line x1="378.36" y1="33.50" x2="378.36" y2="40.20" stroke="#c6d4f1" stroke-width="0.5" />
<text x="362.40" y="37.70" font-size="3.3" fill="#3a3a42" font-weight="bold" text-anchor="start" textLength="10.52" lengthAdjust="spacingAndGlyphs">Week 15</text>
<line x1="399.76" y1="33.50" x2="399.76" y2="40.20" stroke="#c6d4f1" stroke-width="0.5" />
<text x="383.80" y="37.70" font-size="3.3" fill="#3a3a42" font-weight="bold" text-anchor="start" textLength="10.52" lengthAdjust="spacingAndGlyphs">Week 16</text>
<line x1="421.17" y1="33.50" x2="421.17" y2="40.20" stroke="#c6d4f1" stroke-width="0.5" />
<text x="405.21" y="37.70" font-size="3.3" fill="#3a3a42" font-weight="bold" text-anchor="start" textLength="10.52" lengthAdjust="spacingAndGlyphs">Week 17</text>
<line x1="442.57" y1="33.50" x2="442.57" y2="40.20" stroke="#c6d4f1" stroke-width="0.5" />
<text x="426.61" y="37.70" font-size="3.3" fill="#3a3a42" font-weight="bold" text-anchor="start" textLength="10.52" lengthAdjust="spacingAndGlyphs">Week 18</text>
<line x1="463.97" y1="33.50" x2="463.97" y2="40.20" stroke="#c6d4f1" stroke-width="0.5" />
<text x="448.01" y="37.70" font-size="3.3" fill="#3a3a42" font-weight="bold" text-anchor="start" textLength="10.52" lengthAdjust="spacingAndGlyphs">Week 19</text>
<line x1="485.37" y1="33.50" x2="485.37" y2="40.20" stroke="#c6d4f1" stroke-width="0.5" />
<text x="469.41" y="37.70" font-size="3.3" fill="#3a3a42" font-weight="bold" text-anchor="start" textLength="10.52" lengthAdjust="spacingAndGlyphs">Week 20</text>
<line x1="506.77" y1="33.50" x2="506.77" y2="40.20" stroke="#c6d4f1" stroke-width="0.5" />
<text x="490.81" y="37.70" font-size="3.3" fill="#3a3a42" font-weight="bold" text-anchor="start" textLength="10.52" lengthAdjust="spacingAndGlyphs">Week 21</text>
<line x1="528.18" y1="33.50" x2="528.18" y2="40.20" stroke="#c6d4f1" stroke-width="0.5" />
<text x="512.22" y="37.70" font-size="3.3" fill="#3a3a42" font-weight="bold" text-anchor="start" textLength="10.52" lengthAdjust="spacingAndGlyphs">Week 22</text>
<line x1="549.58" y1="33.50" x2="549.58" y2="40.20" stroke="#c6d4f1" stroke-width="0.5" />
<text x="533.62" y="37.70" font-size="3.3" fill="#3a3a42" font-weight="bold" text-anchor="start" textLength="10.52" lengthAdjust="spacingAndGlyphs">Week 23</text>
<line x1="570.98" y1="33.50" x2="570.98" y2="40.20" stroke="#c6d4f1" stroke-width="0.5" />
<text x="555.02" y="37.70" font-size="3.3" fill="#3a3a42" font-weight="bold" text-anchor="start" textLength="10.52" lengthAdjust="spacingAndGlyphs">Week 24</text>
<line x1="592.38" y1="33.50" x2="592.38" y2="40.20" stroke="#c6d4f1" stroke-width="0.5" />
<text x="576.42" y="37.70" font-size="3.3" fill="#3a3a42" font-weight="bold" text-anchor="start" textLength="10.52" lengthAdjust="spacingAndGlyphs">Week 25</text>
<line x1="613.79" y1="33.50" x2="613.79" y2="40.20" stroke="#c6d4f1" stroke-width="0.5" />
<text x="597.83" y="37.70" font-size="3.3" fill="#3a3a42" font-weight="bold" text-anchor="start" textLength="10.52" lengthAdjust="spacingAndGlyphs">Week 26</text>
<line x1="619.90" y1="33.50" x2="619.90" y2="40.20" stroke="#c6d4f1" stroke-width="0.5" />
<text x="616.84" y="36.00" font-size="2.0" fill="#3a3a42" font-weight="bold" text-anchor="middle" >Wk</text>
<text x="616.84" y="38.80" font-size="2.0" fill="#3a3a42" font-weight="bold" text-anchor="middle" >27</text>
<text x="7.75" y="43.90" font-size="2.6" fill="#3c66b8" font-weight="bold" text-anchor="middle" >1</text>
<text x="622.90" y="43.90" font-size="2.6" fill="#3c66b8" font-weight="bold" text-anchor="middle" >1</text>
<text x="7.75" y="49.42" font-size="2.6" fill="#3c66b8" font-weight="bold" text-anchor="middle" >2</text>
<text x="622.90" y="49.42" font-size="2.6" fill="#3c66b8" font-weight="bold" text-anchor="middle" >2</text>
<text x="7.75" y="55.05" font-size="2.6" fill="#3c66b8" font-weight="bold" text-anchor="middle" >3</text>
<text x="622.90" y="55.05" font-size="2.6" fill="#3c66b8" font-weight="bold" text-anchor="middle" >3</text>
<text x="7.75" y="60.67" font-size="2.6" fill="#3c66b8" font-weight="bold" text-anchor="middle" >4</text>
<text x="622.90" y="60.67" font-size="2.6" fill="#3c66b8" font-weight="bold" text-anchor="middle" >4</text>
<text x="7.75" y="66.31" font-size="2.6" fill="#3c66b8" font-weight="bold" text-anchor="middle" >5</text>
<text x="622.90" y="66.31" font-size="2.6" fill="#3c66b8" font-weight="bold" text-anchor="middle" >5</text>
<text x="7.75" y="71.94" font-size="2.6" fill="#3c66b8" font-weight="bold" text-anchor="middle" >6</text>
<text x="622.90" y="71.94" font-size="2.6" fill="#3c66b8" font-weight="bold" text-anchor="middle" >6</text>
<text x="7.75" y="77.56" font-size="2.6" fill="#3c66b8" font-weight="bold" text-anchor="middle" >7</text>
<text x="622.90" y="77.56" font-size="2.6" fill="#3c66b8" font-weight="bold" text-anchor="middle" >7</text>
<text x="7.75" y="83.19" font-size="2.6" fill="#3c66b8" font-weight="bold" text-anchor="middle" >8</text>
<text x="622.90" y="83.19" font-size="2.6" fill="#3c66b8" font-weight="bold" text-anchor="middle" >8</text>
<text x="7.75" y="88.82" font-size="2.6" fill="#3c66b8" font-weight="bold" text-anchor="middle" >9</text>
<text x="622.90" y="88.82" font-size="2.6" fill="#3c66b8" font-weight="bold" text-anchor="middle" >9</text>
<text x="7.75" y="94.46" font-size="2.6" fill="#3c66b8" font-weight="bold" text-anchor="middle" >10</text>
<text x="622.90" y="94.46" font-size="2.6" fill="#3c66b8" font-weight="bold" text-anchor="middle" >10</text>
<text x="7.75" y="100.09" font-size="2.6" fill="#3c66b8" font-weight="bold" text-anchor="middle" >11</text>
<text x="622.90" y="100.09" font-size="2.6" fill="#3c66b8" font-weight="bold" text-anchor="middle" >11</text>
<text x="7.75" y="105.72" font-size="2.6" fill="#3c66b8" font-weight="bold" text-anchor="middle" >12</text>
<text x="622.90" y="105.72" font-size="2.6" fill="#3c66b8" font-weight="bold" text-anchor="middle" >12</text>
<text x="7.75" y="111.34" font-size="2.6" fill="#3c66b8" font-weight="bold" text-anchor="middle" >13</text>
<text x="622.90" y="111.34" font-size="2.6" fill="#3c66b8" font-weight="bold" text-anchor="middle" >13</text>
<text x="7.75" y="116.97" font-size="2.6" fill="#3c66b8" font-weight="bold" text-anchor="middle" >14</text>
<text x="622.90" y="116.97" font-size="2.6" fill="#3c66b8" font-weight="bold" text-anchor="middle" >14</text>
<text x="7.75" y="122.60" font-size="2.6" fill="#3c66b8" font-weight="bold" text-anchor="middle" >15</text>
<text x="622.90" y="122.60" font-size="2.6" fill="#3c66b8" font-weight="bold" text-anchor="middle" >15</text>
<text x="7.75" y="128.24" font-size="2.6" fill="#3c66b8" font-weight="bold" text-anchor="middle" >16</text>
<text x="622.90" y="128.24" font-size="2.6" fill="#3c66b8" font-weight="bold" text-anchor="middle" >16</text>
<text x="7.75" y="133.87" font-size="2.6" fill="#3c66b8" font-weight="bold" text-anchor="middle" >17</text>
<text x="622.90" y="133.87" font-size="2.6" fill="#3c66b8" font-weight="bold" text-anchor="middle" >17</text>
<text x="7.75" y="139.50" font-size="2.6" fill="#3c66b8" font-weight="bold" text-anchor="middle" >18</text>
<text x="622.90" y="139.50" font-size="2.6" fill="#3c66b8" font-weight="bold" text-anchor="middle" >18</text>
<text x="7.75" y="145.12" font-size="2.6" fill="#3c66b8" font-weight="bold" text-anchor="middle" >19</text>
<text x="622.90" y="145.12" font-size="2.6" fill="#3c66b8" font-weight="bold" text-anchor="middle" >19</text>
<text x="7.75" y="150.75" font-size="2.6" fill="#3c66b8" font-weight="bold" text-anchor="middle" >20</text>
<text x="622.90" y="150.75" font-size="2.6" fill="#3c66b8" font-weight="bold" text-anchor="middle" >20</text>
<text x="7.75" y="156.38" font-size="2.6" fill="#3c66b8" font-weight="bold" text-anchor="middle" >21</text>
<text x="622.90" y="156.38" font-size="2.6" fill="#3c66b8" font-weight="bold" text-anchor="middle" >21</text>
<text x="7.75" y="162.01" font-size="2.6" fill="#3c66b8" font-weight="bold" text-anchor="middle" >22</text>
<text x="622.90" y="162.01" font-size="2.6" fill="#3c66b8" font-weight="bold" text-anchor="middle" >22</text>
<text x="7.75" y="167.65" font-size="2.6" fill="#3c66b8" font-weight="bold" text-anchor="middle" >23</text>
<text x="622.90" y="167.65" font-size="2.6" fill="#3c66b8" font-weight="bold" text-anchor="middle" >23</text>
<text x="7.75" y="173.28" font-size="2.6" fill="#3c66b8" font-weight="bold" text-anchor="middle" >24</text>
<text x="622.90" y="173.28" font-size="2.6" fill="#3c66b8" font-weight="bold" text-anchor="middle" >24</text>
<text x="7.75" y="178.91" font-size="2.6" fill="#3c66b8" font-weight="bold" text-anchor="middle" >25</text>
<text x="622.90" y="178.91" font-size="2.6" fill="#3c66b8" font-weight="bold" text-anchor="middle" >25</text>
<text x="7.75" y="184.53" font-size="2.6" fill="#3c66b8" font-weight="bold" text-anchor="middle" >26</text>
<text x="622.90" y="184.53" font-size="2.6" fill="#3c66b8" font-weight="bold" text-anchor="middle" >26</text>
<text x="7.75" y="190.16" font-size="2.6" fill="#3c66b8" font-weight="bold" text-anchor="middle" >27</text>
<text x="622.90" y="190.16" font-size="2.6" fill="#3c66b8" font-weight="bold" text-anchor="middle" >27</text>
<text x="7.75" y="195.79" font-size="2.6" fill="#3c66b8" font-weight="bold" text-anchor="middle" >28</text>
<text x="622.90" y="195.79" font-size="2.6" fill="#3c66b8" font-weight="bold" text-anchor="middle" >28</text>
<text x="7.75" y="201.42" font-size="2.6" fill="#3c66b8" font-weight="bold" text-anchor="middle" >29</text>
<text x="622.90" y="201.42" font-size="2.6" fill="#3c66b8" font-weight="bold" text-anchor="middle" >29</text>
<text x="7.75" y="206.52" font-size="2.6" fill="#3c66b8" font-weight="bold" text-anchor="middle" >30</text>
<text x="622.90" y="206.52" font-size="2.6" fill="#3c66b8" font-weight="bold" text-anchor="middle" >30</text>
<path d="M15.80,221.00 L66.60,221.00 L66.60,221.00 L66.60,398.50 L66.60,398.50 L10.80,398.50 L10.80,398.50 L10.80,226.00 A5.00,5.00 0 0 1 15.80,221.00 Z" fill="#ffffff" />
<rect x="66.60" y="231.20" width="562.20" height="167.30" fill="#ffffff" />
<path d="M7.30,231.20 L11.10,231.20 L11.10,231.20 L11.10,398.50 L11.10,398.50 L8.30,398.50 A3.80,3.80 0 0 1 4.50,394.70 L4.50,234.00 A2.80,2.80 0 0 1 7.30,231.20 Z" fill="#f0f1f7" />
<path d="M628.50,231.20 L631.60,231.20 A3.20,3.20 0 0 1 634.80,234.40 L634.80,394.70 A3.80,3.80 0 0 1 631.00,398.50 L628.50,398.50 L628.50,398.50 L628.50,231.20 L628.50,231.20 Z" fill="#f0f1f7" />
<rect x="10.80" y="236.50" width="618.00" height="5.65" fill="#dedff2" />
<rect x="10.80" y="247.81" width="618.00" height="5.65" fill="#dedff2" />
<rect x="10.80" y="259.12" width="618.00" height="5.65" fill="#dedff2" />
<rect x="10.80" y="270.42" width="618.00" height="5.65" fill="#dedff2" />
<rect x="10.80" y="281.73" width="618.00" height="5.65" fill="#dedff2" />
<rect x="10.80" y="293.04" width="618.00" height="5.65" fill="#dedff2" />
<rect x="10.80" y="304.35" width="618.00" height="5.65" fill="#dedff2" />
<rect x="10.80" y="315.66" width="618.00" height="5.65" fill="#dedff2" />
<rect x="10.80" y="326.96" width="618.00" height="5.65" fill="#dedff2" />
<rect x="10.80" y="338.27" width="618.00" height="5.65" fill="#dedff2" />
<rect x="10.80" y="349.58" width="618.00" height="5.65" fill="#dedff2" />
<rect x="10.80" y="360.89" width="618.00" height="5.65" fill="#dedff2" />
<rect x="10.80" y="372.20" width="618.00" height="5.65" fill="#dedff2" />
<rect x="10.80" y="383.50" width="618.00" height="5.65" fill="#dedff2" />
<line x1="66.60" y1="231.20" x2="66.60" y2="398.50" stroke="#c6d4f1" stroke-width="0.6" />
<line x1="69.66" y1="231.20" x2="69.66" y2="398.50" stroke="#c6d4f1" stroke-width="0.6" />
<line x1="72.71" y1="231.20" x2="72.71" y2="398.50" stroke="#c6d4f1" stroke-width="0.6" />
<line x1="75.77" y1="231.20" x2="75.77" y2="398.50" stroke="#c6d4f1" stroke-width="0.6" />
<line x1="78.82" y1="231.20" x2="78.82" y2="398.50" stroke="#c6d4f1" stroke-width="0.6" />
<line x1="81.88" y1="231.20" x2="81.88" y2="398.50" stroke="#c6d4f1" stroke-width="0.6" />
<line x1="84.93" y1="231.20" x2="84.93" y2="398.50" stroke="#c6d4f1" stroke-width="0.6" />
<line x1="87.99" y1="231.20" x2="87.99" y2="398.50" stroke="#c6d4f1" stroke-width="0.6" />
<line x1="91.04" y1="231.20" x2="91.04" y2="398.50" stroke="#c6d4f1" stroke-width="0.6" />
<line x1="94.10" y1="231.20" x2="94.10" y2="398.50" stroke="#c6d4f1" stroke-width="0.6" />
<line x1="97.15" y1="231.20" x2="97.15" y2="398.50" stroke="#c6d4f1" stroke-width="0.6" />
<line x1="100.21" y1="231.20" x2="100.21" y2="398.50" stroke="#c6d4f1" stroke-width="0.6" />
<line x1="103.27" y1="231.20" x2="103.27" y2="398.50" stroke="#c6d4f1" stroke-width="0.6" />
<line x1="106.32" y1="231.20" x2="106.32" y2="398.50" stroke="#c6d4f1" stroke-width="0.6" />
<line x1="109.38" y1="231.20" x2="109.38" y2="398.50" stroke="#c6d4f1" stroke-width="0.6" />
<line x1="112.43" y1="231.20" x2="112.43" y2="398.50" stroke="#c6d4f1" stroke-width="0.6" />
<line x1="115.49" y1="231.20" x2="115.49" y2="398.50" stroke="#c6d4f1" stroke-width="0.6" />
<line x1="118.54" y1="231.20" x2="118.54" y2="398.50" stroke="#c6d4f1" stroke-width="0.6" />
<line x1="121.60" y1="231.20" x2="121.60" y2="398.50" stroke="#c6d4f1" stroke-width="0.6" />
<line x1="124.65" y1="231.20" x2="124.65" y2="398.50" stroke="#c6d4f1" stroke-width="0.6" />
<line x1="127.71" y1="231.20" x2="127.71" y2="398.50" stroke="#c6d4f1" stroke-width="0.6" />
<line x1="130.76" y1="231.20" x2="130.76" y2="398.50" stroke="#c6d4f1" stroke-width="0.6" />
<line x1="133.82" y1="231.20" x2="133.82" y2="398.50" stroke="#c6d4f1" stroke-width="0.6" />
<line x1="136.88" y1="231.20" x2="136.88" y2="398.50" stroke="#c6d4f1" stroke-width="0.6" />
<line x1="139.93" y1="231.20" x2="139.93" y2="398.50" stroke="#c6d4f1" stroke-width="0.6" />
<line x1="142.99" y1="231.20" x2="142.99" y2="398.50" stroke="#c6d4f1" stroke-width="0.6" />
<line x1="146.04" y1="231.20" x2="146.04" y2="398.50" stroke="#c6d4f1" stroke-width="0.6" />
<line x1="149.10" y1="231.20" x2="149.10" y2="398.50" stroke="#c6d4f1" stroke-width="0.6" />
<line x1="152.15" y1="231.20" x2="152.15" y2="398.50" stroke="#c6d4f1" stroke-width="0.6" />
<line x1="155.21" y1="231.20" x2="155.21" y2="398.50" stroke="#c6d4f1" stroke-width="0.6" />
<line x1="158.26" y1="231.20" x2="158.26" y2="398.50" stroke="#c6d4f1" stroke-width="0.6" />
<line x1="161.32" y1="231.20" x2="161.32" y2="398.50" stroke="#c6d4f1" stroke-width="0.6" />
<line x1="164.37" y1="231.20" x2="164.37" y2="398.50" stroke="#c6d4f1" stroke-width="0.6" />
<line x1="167.43" y1="231.20" x2="167.43" y2="398.50" stroke="#c6d4f1" stroke-width="0.6" />
<line x1="170.48" y1="231.20" x2="170.48" y2="398.50" stroke="#c6d4f1" stroke-width="0.6" />
<line x1="173.54" y1="231.20" x2="173.54" y2="398.50" stroke="#c6d4f1" stroke-width="0.6" />
<line x1="176.60" y1="231.20" x2="176.60" y2="398.50" stroke="#c6d4f1" stroke-width="0.6" />
<line x1="179.65" y1="231.20" x2="179.65" y2="398.50" stroke="#c6d4f1" stroke-width="0.6" />
<line x1="182.71" y1="231.20" x2="182.71" y2="398.50" stroke="#c6d4f1" stroke-width="0.6" />
<line x1="185.76" y1="231.20" x2="185.76" y2="398.50" stroke="#c6d4f1" stroke-width="0.6" />
<line x1="188.82" y1="231.20" x2="188.82" y2="398.50" stroke="#c6d4f1" stroke-width="0.6" />
<line x1="191.87" y1="231.20" x2="191.87" y2="398.50" stroke="#c6d4f1" stroke-width="0.6" />
<line x1="194.93" y1="231.20" x2="194.93" y2="398.50" stroke="#c6d4f1" stroke-width="0.6" />
<line x1="197.98" y1="231.20" x2="197.98" y2="398.50" stroke="#c6d4f1" stroke-width="0.6" />
<line x1="201.04" y1="231.20" x2="201.04" y2="398.50" stroke="#c6d4f1" stroke-width="0.6" />
<line x1="204.09" y1="231.20" x2="204.09" y2="398.50" stroke="#c6d4f1" stroke-width="0.6" />
<line x1="207.15" y1="231.20" x2="207.15" y2="398.50" stroke="#c6d4f1" stroke-width="0.6" />
<line x1="210.21" y1="231.20" x2="210.21" y2="398.50" stroke="#c6d4f1" stroke-width="0.6" />
<line x1="213.26" y1="231.20" x2="213.26" y2="398.50" stroke="#c6d4f1" stroke-width="0.6" />
<line x1="216.32" y1="231.20" x2="216.32" y2="398.50" stroke="#c6d4f1" stroke-width="0.6" />
<line x1="219.37" y1="231.20" x2="219.37" y2="398.50" stroke="#c6d4f1" stroke-width="0.6" />
<line x1="222.43" y1="231.20" x2="222.43" y2="398.50" stroke="#c6d4f1" stroke-width="0.6" />
<line x1="225.48" y1="231.20" x2="225.48" y2="398.50" stroke="#c6d4f1" stroke-width="0.6" />
<line x1="228.54" y1="231.20" x2="228.54" y2="398.50" stroke="#c6d4f1" stroke-width="0.6" />
<line x1="231.59" y1="231.20" x2="231.59" y2="398.50" stroke="#c6d4f1" stroke-width="0.6" />
<line x1="234.65" y1="231.20" x2="234.65" y2="398.50" stroke="#c6d4f1" stroke-width="0.6" />
<line x1="237.70" y1="231.20" x2="237.70" y2="398.50" stroke="#c6d4f1" stroke-width="0.6" />
<line x1="240.76" y1="231.20" x2="240.76" y2="398.50" stroke="#c6d4f1" stroke-width="0.6" />
<line x1="243.82" y1="231.20" x2="243.82" y2="398.50" stroke="#c6d4f1" stroke-width="0.6" />
<line x1="246.87" y1="231.20" x2="246.87" y2="398.50" stroke="#c6d4f1" stroke-width="0.6" />
<line x1="249.93" y1="231.20" x2="249.93" y2="398.50" stroke="#c6d4f1" stroke-width="0.6" />
<line x1="252.98" y1="231.20" x2="252.98" y2="398.50" stroke="#c6d4f1" stroke-width="0.6" />
<line x1="256.04" y1="231.20" x2="256.04" y2="398.50" stroke="#c6d4f1" stroke-width="0.6" />
<line x1="259.09" y1="231.20" x2="259.09" y2="398.50" stroke="#c6d4f1" stroke-width="0.6" />
<line x1="262.15" y1="231.20" x2="262.15" y2="398.50" stroke="#c6d4f1" stroke-width="0.6" />
<line x1="265.20" y1="231.20" x2="265.20" y2="398.50" stroke="#c6d4f1" stroke-width="0.6" />
<line x1="268.26" y1="231.20" x2="268.26" y2="398.50" stroke="#c6d4f1" stroke-width="0.6" />
<line x1="271.31" y1="231.20" x2="271.31" y2="398.50" stroke="#c6d4f1" stroke-width="0.6" />
<line x1="274.37" y1="231.20" x2="274.37" y2="398.50" stroke="#c6d4f1" stroke-width="0.6" />
<line x1="277.42" y1="231.20" x2="277.42" y2="398.50" stroke="#c6d4f1" stroke-width="0.6" />
<line x1="280.48" y1="231.20" x2="280.48" y2="398.50" stroke="#c6d4f1" stroke-width="0.6" />
<line x1="283.54" y1="231.20" x2="283.54" y2="398.50" stroke="#c6d4f1" stroke-width="0.6" />
<line x1="286.59" y1="231.20" x2="286.59" y2="398.50" stroke="#c6d4f1" stroke-width="0.6" />
<line x1="289.65" y1="231.20" x2="289.65" y2="398.50" stroke="#c6d4f1" stroke-width="0.6" />
<line x1="292.70" y1="231.20" x2="292.70" y2="398.50" stroke="#c6d4f1" stroke-width="0.6" />
<line x1="295.76" y1="231.20" x2="295.76" y2="398.50" stroke="#c6d4f1" stroke-width="0.6" />
<line x1="298.81" y1="231.20" x2="298.81" y2="398.50" stroke="#c6d4f1" stroke-width="0.6" />
<line x1="301.87" y1="231.20" x2="301.87" y2="398.50" stroke="#c6d4f1" stroke-width="0.6" />
<line x1="304.92" y1="231.20" x2="304.92" y2="398.50" stroke="#c6d4f1" stroke-width="0.6" />
<line x1="307.98" y1="231.20" x2="307.98" y2="398.50" stroke="#c6d4f1" stroke-width="0.6" />
<line x1="311.03" y1="231.20" x2="311.03" y2="398.50" stroke="#c6d4f1" stroke-width="0.6" />
<line x1="314.09" y1="231.20" x2="314.09" y2="398.50" stroke="#c6d4f1" stroke-width="0.6" />
<line x1="317.15" y1="231.20" x2="317.15" y2="398.50" stroke="#c6d4f1" stroke-width="0.6" />
<line x1="320.20" y1="231.20" x2="320.20" y2="398.50" stroke="#c6d4f1" stroke-width="0.6" />
<line x1="323.26" y1="231.20" x2="323.26" y2="398.50" stroke="#c6d4f1" stroke-width="0.6" />
<line x1="326.31" y1="231.20" x2="326.31" y2="398.50" stroke="#c6d4f1" stroke-width="0.6" />
<line x1="329.37" y1="231.20" x2="329.37" y2="398.50" stroke="#c6d4f1" stroke-width="0.6" />
<line x1="332.42" y1="231.20" x2="332.42" y2="398.50" stroke="#c6d4f1" stroke-width="0.6" />
<line x1="335.48" y1="231.20" x2="335.48" y2="398.50" stroke="#c6d4f1" stroke-width="0.6" />
<line x1="338.53" y1="231.20" x2="338.53" y2="398.50" stroke="#c6d4f1" stroke-width="0.6" />
<line x1="341.59" y1="231.20" x2="341.59" y2="398.50" stroke="#c6d4f1" stroke-width="0.6" />
<line x1="344.64" y1="231.20" x2="344.64" y2="398.50" stroke="#c6d4f1" stroke-width="0.6" />
<line x1="347.70" y1="231.20" x2="347.70" y2="398.50" stroke="#c6d4f1" stroke-width="0.6" />
<line x1="350.76" y1="231.20" x2="350.76" y2="398.50" stroke="#c6d4f1" stroke-width="0.6" />
<line x1="353.81" y1="231.20" x2="353.81" y2="398.50" stroke="#c6d4f1" stroke-width="0.6" />
<line x1="356.87" y1="231.20" x2="356.87" y2="398.50" stroke="#c6d4f1" stroke-width="0.6" />
<line x1="359.92" y1="231.20" x2="359.92" y2="398.50" stroke="#c6d4f1" stroke-width="0.6" />
<line x1="362.98" y1="231.20" x2="362.98" y2="398.50" stroke="#c6d4f1" stroke-width="0.6" />
<line x1="366.03" y1="231.20" x2="366.03" y2="398.50" stroke="#c6d4f1" stroke-width="0.6" />
<line x1="369.09" y1="231.20" x2="369.09" y2="398.50" stroke="#c6d4f1" stroke-width="0.6" />
<line x1="372.14" y1="231.20" x2="372.14" y2="398.50" stroke="#c6d4f1" stroke-width="0.6" />
<line x1="375.20" y1="231.20" x2="375.20" y2="398.50" stroke="#c6d4f1" stroke-width="0.6" />
<line x1="378.25" y1="231.20" x2="378.25" y2="398.50" stroke="#c6d4f1" stroke-width="0.6" />
<line x1="381.31" y1="231.20" x2="381.31" y2="398.50" stroke="#c6d4f1" stroke-width="0.6" />
<line x1="384.37" y1="231.20" x2="384.37" y2="398.50" stroke="#c6d4f1" stroke-width="0.6" />
<line x1="387.42" y1="231.20" x2="387.42" y2="398.50" stroke="#c6d4f1" stroke-width="0.6" />
<line x1="390.48" y1="231.20" x2="390.48" y2="398.50" stroke="#c6d4f1" stroke-width="0.6" />
<line x1="393.53" y1="231.20" x2="393.53" y2="398.50" stroke="#c6d4f1" stroke-width="0.6" />
<line x1="396.59" y1="231.20" x2="396.59" y2="398.50" stroke="#c6d4f1" stroke-width="0.6" />
<line x1="399.64" y1="231.20" x2="399.64" y2="398.50" stroke="#c6d4f1" stroke-width="0.6" />
<line x1="402.70" y1="231.20" x2="402.70" y2="398.50" stroke="#c6d4f1" stroke-width="0.6" />
<line x1="405.75" y1="231.20" x2="405.75" y2="398.50" stroke="#c6d4f1" stroke-width="0.6" />
<line x1="408.81" y1="231.20" x2="408.81" y2="398.50" stroke="#c6d4f1" stroke-width="0.6" />
<line x1="411.86" y1="231.20" x2="411.86" y2="398.50" stroke="#c6d4f1" stroke-width="0.6" />
<line x1="414.92" y1="231.20" x2="414.92" y2="398.50" stroke="#c6d4f1" stroke-width="0.6" />
<line x1="417.97" y1="231.20" x2="417.97" y2="398.50" stroke="#c6d4f1" stroke-width="0.6" />
<line x1="421.03" y1="231.20" x2="421.03" y2="398.50" stroke="#c6d4f1" stroke-width="0.6" />
<line x1="424.09" y1="231.20" x2="424.09" y2="398.50" stroke="#c6d4f1" stroke-width="0.6" />
<line x1="427.14" y1="231.20" x2="427.14" y2="398.50" stroke="#c6d4f1" stroke-width="0.6" />
<line x1="430.20" y1="231.20" x2="430.20" y2="398.50" stroke="#c6d4f1" stroke-width="0.6" />
<line x1="433.25" y1="231.20" x2="433.25" y2="398.50" stroke="#c6d4f1" stroke-width="0.6" />
<line x1="436.31" y1="231.20" x2="436.31" y2="398.50" stroke="#c6d4f1" stroke-width="0.6" />
<line x1="439.36" y1="231.20" x2="439.36" y2="398.50" stroke="#c6d4f1" stroke-width="0.6" />
<line x1="442.42" y1="231.20" x2="442.42" y2="398.50" stroke="#c6d4f1" stroke-width="0.6" />
<line x1="445.47" y1="231.20" x2="445.47" y2="398.50" stroke="#c6d4f1" stroke-width="0.6" />
<line x1="448.53" y1="231.20" x2="448.53" y2="398.50" stroke="#c6d4f1" stroke-width="0.6" />
<line x1="451.58" y1="231.20" x2="451.58" y2="398.50" stroke="#c6d4f1" stroke-width="0.6" />
<line x1="454.64" y1="231.20" x2="454.64" y2="398.50" stroke="#c6d4f1" stroke-width="0.6" />
<line x1="457.70" y1="231.20" x2="457.70" y2="398.50" stroke="#c6d4f1" stroke-width="0.6" />
<line x1="460.75" y1="231.20" x2="460.75" y2="398.50" stroke="#c6d4f1" stroke-width="0.6" />
<line x1="463.81" y1="231.20" x2="463.81" y2="398.50" stroke="#c6d4f1" stroke-width="0.6" />
<line x1="466.86" y1="231.20" x2="466.86" y2="398.50" stroke="#c6d4f1" stroke-width="0.6" />
<line x1="469.92" y1="231.20" x2="469.92" y2="398.50" stroke="#c6d4f1" stroke-width="0.6" />
<line x1="472.97" y1="231.20" x2="472.97" y2="398.50" stroke="#c6d4f1" stroke-width="0.6" />
<line x1="476.03" y1="231.20" x2="476.03" y2="398.50" stroke="#c6d4f1" stroke-width="0.6" />
<line x1="479.08" y1="231.20" x2="479.08" y2="398.50" stroke="#c6d4f1" stroke-width="0.6" />
<line x1="482.14" y1="231.20" x2="482.14" y2="398.50" stroke="#c6d4f1" stroke-width="0.6" />
<line x1="485.19" y1="231.20" x2="485.19" y2="398.50" stroke="#c6d4f1" stroke-width="0.6" />
<line x1="488.25" y1="231.20" x2="488.25" y2="398.50" stroke="#c6d4f1" stroke-width="0.6" />
<line x1="491.31" y1="231.20" x2="491.31" y2="398.50" stroke="#c6d4f1" stroke-width="0.6" />
<line x1="494.36" y1="231.20" x2="494.36" y2="398.50" stroke="#c6d4f1" stroke-width="0.6" />
<line x1="497.42" y1="231.20" x2="497.42" y2="398.50" stroke="#c6d4f1" stroke-width="0.6" />
<line x1="500.47" y1="231.20" x2="500.47" y2="398.50" stroke="#c6d4f1" stroke-width="0.6" />
<line x1="503.53" y1="231.20" x2="503.53" y2="398.50" stroke="#c6d4f1" stroke-width="0.6" />
<line x1="506.58" y1="231.20" x2="506.58" y2="398.50" stroke="#c6d4f1" stroke-width="0.6" />
<line x1="509.64" y1="231.20" x2="509.64" y2="398.50" stroke="#c6d4f1" stroke-width="0.6" />
<line x1="512.69" y1="231.20" x2="512.69" y2="398.50" stroke="#c6d4f1" stroke-width="0.6" />
<line x1="515.75" y1="231.20" x2="515.75" y2="398.50" stroke="#c6d4f1" stroke-width="0.6" />
<line x1="518.80" y1="231.20" x2="518.80" y2="398.50" stroke="#c6d4f1" stroke-width="0.6" />
<line x1="521.86" y1="231.20" x2="521.86" y2="398.50" stroke="#c6d4f1" stroke-width="0.6" />
<line x1="524.92" y1="231.20" x2="524.92" y2="398.50" stroke="#c6d4f1" stroke-width="0.6" />
<line x1="527.97" y1="231.20" x2="527.97" y2="398.50" stroke="#c6d4f1" stroke-width="0.6" />
<line x1="531.03" y1="231.20" x2="531.03" y2="398.50" stroke="#c6d4f1" stroke-width="0.6" />
<line x1="534.08" y1="231.20" x2="534.08" y2="398.50" stroke="#c6d4f1" stroke-width="0.6" />
<line x1="537.14" y1="231.20" x2="537.14" y2="398.50" stroke="#c6d4f1" stroke-width="0.6" />
<line x1="540.19" y1="231.20" x2="540.19" y2="398.50" stroke="#c6d4f1" stroke-width="0.6" />
<line x1="543.25" y1="231.20" x2="543.25" y2="398.50" stroke="#c6d4f1" stroke-width="0.6" />
<line x1="546.30" y1="231.20" x2="546.30" y2="398.50" stroke="#c6d4f1" stroke-width="0.6" />
<line x1="549.36" y1="231.20" x2="549.36" y2="398.50" stroke="#c6d4f1" stroke-width="0.6" />
<line x1="552.41" y1="231.20" x2="552.41" y2="398.50" stroke="#c6d4f1" stroke-width="0.6" />
<line x1="555.47" y1="231.20" x2="555.47" y2="398.50" stroke="#c6d4f1" stroke-width="0.6" />
<line x1="558.52" y1="231.20" x2="558.52" y2="398.50" stroke="#c6d4f1" stroke-width="0.6" />
<line x1="561.58" y1="231.20" x2="561.58" y2="398.50" stroke="#c6d4f1" stroke-width="0.6" />
<line x1="564.64" y1="231.20" x2="564.64" y2="398.50" stroke="#c6d4f1" stroke-width="0.6" />
<line x1="567.69" y1="231.20" x2="567.69" y2="398.50" stroke="#c6d4f1" stroke-width="0.6" />
<line x1="570.75" y1="231.20" x2="570.75" y2="398.50" stroke="#c6d4f1" stroke-width="0.6" />
<line x1="573.80" y1="231.20" x2="573.80" y2="398.50" stroke="#c6d4f1" stroke-width="0.6" />
<line x1="576.86" y1="231.20" x2="576.86" y2="398.50" stroke="#c6d4f1" stroke-width="0.6" />
<line x1="579.91" y1="231.20" x2="579.91" y2="398.50" stroke="#c6d4f1" stroke-width="0.6" />
<line x1="582.97" y1="231.20" x2="582.97" y2="398.50" stroke="#c6d4f1" stroke-width="0.6" />
<line x1="586.02" y1="231.20" x2="586.02" y2="398.50" stroke="#c6d4f1" stroke-width="0.6" />
<line x1="589.08" y1="231.20" x2="589.08" y2="398.50" stroke="#c6d4f1" stroke-width="0.6" />
<line x1="592.13" y1="231.20" x2="592.13" y2="398.50" stroke="#c6d4f1" stroke-width="0.6" />
<line x1="595.19" y1="231.20" x2="595.19" y2="398.50" stroke="#c6d4f1" stroke-width="0.6" />
<line x1="598.25" y1="231.20" x2="598.25" y2="398.50" stroke="#c6d4f1" stroke-width="0.6" />
<line x1="601.30" y1="231.20" x2="601.30" y2="398.50" stroke="#c6d4f1" stroke-width="0.6" />
<line x1="604.36" y1="231.20" x2="604.36" y2="398.50" stroke="#c6d4f1" stroke-width="0.6" />
<line x1="607.41" y1="231.20" x2="607.41" y2="398.50" stroke="#c6d4f1" stroke-width="0.6" />
<line x1="610.47" y1="231.20" x2="610.47" y2="398.50" stroke="#c6d4f1" stroke-width="0.6" />
<line x1="613.52" y1="231.20" x2="613.52" y2="398.50" stroke="#c6d4f1" stroke-width="0.6" />
<line x1="616.58" y1="231.20" x2="616.58" y2="398.50" stroke="#c6d4f1" stroke-width="0.6" />
<line x1="619.63" y1="231.20" x2="619.63" y2="398.50" stroke="#c6d4f1" stroke-width="0.6" />
<line x1="622.69" y1="231.20" x2="622.69" y2="398.50" stroke="#c6d4f1" stroke-width="0.6" />
<line x1="625.74" y1="231.20" x2="625.74" y2="398.50" stroke="#c6d4f1" stroke-width="0.6" />
<line x1="628.80" y1="231.20" x2="628.80" y2="398.50" stroke="#c6d4f1" stroke-width="0.6" />
<defs><pattern id="pat7" patternUnits="userSpaceOnUse" x="66.300" y="0" width="3.0554" height="10"><rect x="0" y="0" width="0.6" height="10" fill="#b8c6ec"/></pattern></defs>
<rect x="66.60" y="236.50" width="562.20" height="5.65" fill="url(#pat7)" />
<rect x="66.60" y="247.81" width="562.20" height="5.65" fill="url(#pat7)" />
<rect x="66.60" y="259.12" width="562.20" height="5.65" fill="url(#pat7)" />
<rect x="66.60" y="270.42" width="562.20" height="5.65" fill="url(#pat7)" />
<rect x="66.60" y="281.73" width="562.20" height="5.65" fill="url(#pat7)" />
<rect x="66.60" y="293.04" width="562.20" height="5.65" fill="url(#pat7)" />
<rect x="66.60" y="304.35" width="562.20" height="5.65" fill="url(#pat7)" />
<rect x="66.60" y="315.66" width="562.20" height="5.65" fill="url(#pat7)" />
<rect x="66.60" y="326.96" width="562.20" height="5.65" fill="url(#pat7)" />
<rect x="66.60" y="338.27" width="562.20" height="5.65" fill="url(#pat7)" />
<rect x="66.60" y="349.58" width="562.20" height="5.65" fill="url(#pat7)" />
<rect x="66.60" y="360.89" width="562.20" height="5.65" fill="url(#pat7)" />
<rect x="66.60" y="372.20" width="562.20" height="5.65" fill="url(#pat7)" />
<rect x="66.60" y="383.50" width="562.20" height="5.65" fill="url(#pat7)" />
<rect x="75.77" y="236.50" width="3.06" height="158.31" fill="#c4c6ee" fill-opacity="0.35"/>
<rect x="78.82" y="236.50" width="3.06" height="158.31" fill="#7088d4" fill-opacity="0.52"/>
<rect x="97.15" y="236.50" width="3.06" height="158.31" fill="#c4c6ee" fill-opacity="0.35"/>
<rect x="100.21" y="236.50" width="3.06" height="158.31" fill="#7088d4" fill-opacity="0.52"/>
<rect x="118.54" y="236.50" width="3.06" height="158.31" fill="#c4c6ee" fill-opacity="0.35"/>
<rect x="121.60" y="236.50" width="3.06" height="158.31" fill="#7088d4" fill-opacity="0.52"/>
<rect x="139.93" y="236.50" width="3.06" height="158.31" fill="#c4c6ee" fill-opacity="0.35"/>
<rect x="142.99" y="236.50" width="3.06" height="158.31" fill="#7088d4" fill-opacity="0.52"/>
<rect x="161.32" y="236.50" width="3.06" height="158.31" fill="#c4c6ee" fill-opacity="0.35"/>
<rect x="164.37" y="236.50" width="3.06" height="158.31" fill="#7088d4" fill-opacity="0.52"/>
<rect x="182.71" y="236.50" width="3.06" height="158.31" fill="#c4c6ee" fill-opacity="0.35"/>
<rect x="185.76" y="236.50" width="3.06" height="158.31" fill="#7088d4" fill-opacity="0.52"/>
<rect x="204.09" y="236.50" width="3.06" height="158.31" fill="#c4c6ee" fill-opacity="0.35"/>
<rect x="207.15" y="236.50" width="3.06" height="158.31" fill="#7088d4" fill-opacity="0.52"/>
<rect x="225.48" y="236.50" width="3.06" height="158.31" fill="#c4c6ee" fill-opacity="0.35"/>
<rect x="228.54" y="236.50" width="3.06" height="158.31" fill="#7088d4" fill-opacity="0.52"/>
<rect x="246.87" y="236.50" width="3.06" height="158.31" fill="#c4c6ee" fill-opacity="0.35"/>
<rect x="249.93" y="236.50" width="3.06" height="158.31" fill="#7088d4" fill-opacity="0.52"/>
<rect x="268.26" y="236.50" width="3.06" height="158.31" fill="#c4c6ee" fill-opacity="0.35"/>
<rect x="271.31" y="236.50" width="3.06" height="158.31" fill="#7088d4" fill-opacity="0.52"/>
<rect x="289.65" y="236.50" width="3.06" height="158.31" fill="#c4c6ee" fill-opacity="0.35"/>
<rect x="292.70" y="236.50" width="3.06" height="158.31" fill="#7088d4" fill-opacity="0.52"/>
<rect x="311.03" y="236.50" width="3.06" height="158.31" fill="#c4c6ee" fill-opacity="0.35"/>
<rect x="314.09" y="236.50" width="3.06" height="158.31" fill="#7088d4" fill-opacity="0.52"/>
<rect x="332.42" y="236.50" width="3.06" height="158.31" fill="#c4c6ee" fill-opacity="0.35"/>
<rect x="335.48" y="236.50" width="3.06" height="158.31" fill="#7088d4" fill-opacity="0.52"/>
<rect x="353.81" y="236.50" width="3.06" height="158.31" fill="#c4c6ee" fill-opacity="0.35"/>
<rect x="356.87" y="236.50" width="3.06" height="158.31" fill="#7088d4" fill-opacity="0.52"/>
<rect x="375.20" y="236.50" width="3.06" height="158.31" fill="#c4c6ee" fill-opacity="0.35"/>
<rect x="378.25" y="236.50" width="3.06" height="158.31" fill="#7088d4" fill-opacity="0.52"/>
<rect x="396.59" y="236.50" width="3.06" height="158.31" fill="#c4c6ee" fill-opacity="0.35"/>
<rect x="399.64" y="236.50" width="3.06" height="158.31" fill="#7088d4" fill-opacity="0.52"/>
<rect x="417.97" y="236.50" width="3.06" height="158.31" fill="#c4c6ee" fill-opacity="0.35"/>
<rect x="421.03" y="236.50" width="3.06" height="158.31" fill="#7088d4" fill-opacity="0.52"/>
<rect x="439.36" y="236.50" width="3.06" height="158.31" fill="#c4c6ee" fill-opacity="0.35"/>
<rect x="442.42" y="236.50" width="3.06" height="158.31" fill="#7088d4" fill-opacity="0.52"/>
<rect x="460.75" y="236.50" width="3.06" height="158.31" fill="#c4c6ee" fill-opacity="0.35"/>
<rect x="463.81" y="236.50" width="3.06" height="158.31" fill="#7088d4" fill-opacity="0.52"/>
<rect x="482.14" y="236.50" width="3.06" height="158.31" fill="#c4c6ee" fill-opacity="0.35"/>
<rect x="485.19" y="236.50" width="3.06" height="158.31" fill="#7088d4" fill-opacity="0.52"/>
<rect x="503.53" y="236.50" width="3.06" height="158.31" fill="#c4c6ee" fill-opacity="0.35"/>
<rect x="506.58" y="236.50" width="3.06" height="158.31" fill="#7088d4" fill-opacity="0.52"/>
<rect x="524.92" y="236.50" width="3.06" height="158.31" fill="#c4c6ee" fill-opacity="0.35"/>
<rect x="527.97" y="236.50" width="3.06" height="158.31" fill="#7088d4" fill-opacity="0.52"/>
<rect x="546.30" y="236.50" width="3.06" height="158.31" fill="#c4c6ee" fill-opacity="0.35"/>
<rect x="549.36" y="236.50" width="3.06" height="158.31" fill="#7088d4" fill-opacity="0.52"/>
<rect x="567.69" y="236.50" width="3.06" height="158.31" fill="#c4c6ee" fill-opacity="0.35"/>
<rect x="570.75" y="236.50" width="3.06" height="158.31" fill="#7088d4" fill-opacity="0.52"/>
<rect x="589.08" y="236.50" width="3.06" height="158.31" fill="#c4c6ee" fill-opacity="0.35"/>
<rect x="592.13" y="236.50" width="3.06" height="158.31" fill="#7088d4" fill-opacity="0.52"/>
<rect x="610.47" y="236.50" width="3.06" height="158.31" fill="#c4c6ee" fill-opacity="0.35"/>
<rect x="613.52" y="236.50" width="3.06" height="158.31" fill="#7088d4" fill-opacity="0.52"/>
<line x1="5.00" y1="231.20" x2="57.50" y2="231.20" stroke="#c3cdec" stroke-width="0.6" />
<line x1="57.50" y1="231.20" x2="634.30" y2="231.20" stroke="#a6b9e6" stroke-width="0.65" />
<line x1="5.00" y1="236.50" x2="57.50" y2="236.50" stroke="#c3cdec" stroke-width="0.6" />
<line x1="57.50" y1="236.50" x2="634.30" y2="236.50" stroke="#a6b9e6" stroke-width="0.65" />
<line x1="5.00" y1="242.15" x2="57.50" y2="242.15" stroke="#c3cdec" stroke-width="0.6" />
<line x1="57.50" y1="242.15" x2="634.30" y2="242.15" stroke="#a6b9e6" stroke-width="0.65" />
<line x1="5.00" y1="247.81" x2="57.50" y2="247.81" stroke="#c3cdec" stroke-width="0.6" />
<line x1="57.50" y1="247.81" x2="634.30" y2="247.81" stroke="#a6b9e6" stroke-width="0.65" />
<line x1="5.00" y1="253.46" x2="57.50" y2="253.46" stroke="#c3cdec" stroke-width="0.6" />
<line x1="57.50" y1="253.46" x2="634.30" y2="253.46" stroke="#a6b9e6" stroke-width="0.65" />
<line x1="5.00" y1="259.12" x2="57.50" y2="259.12" stroke="#c3cdec" stroke-width="0.6" />
<line x1="57.50" y1="259.12" x2="634.30" y2="259.12" stroke="#a6b9e6" stroke-width="0.65" />
<line x1="5.00" y1="264.77" x2="57.50" y2="264.77" stroke="#c3cdec" stroke-width="0.6" />
<line x1="57.50" y1="264.77" x2="634.30" y2="264.77" stroke="#a6b9e6" stroke-width="0.65" />
<line x1="5.00" y1="270.42" x2="57.50" y2="270.42" stroke="#c3cdec" stroke-width="0.6" />
<line x1="57.50" y1="270.42" x2="634.30" y2="270.42" stroke="#a6b9e6" stroke-width="0.65" />
<line x1="5.00" y1="276.08" x2="57.50" y2="276.08" stroke="#c3cdec" stroke-width="0.6" />
<line x1="57.50" y1="276.08" x2="634.30" y2="276.08" stroke="#a6b9e6" stroke-width="0.65" />
<line x1="5.00" y1="281.73" x2="57.50" y2="281.73" stroke="#c3cdec" stroke-width="0.6" />
<line x1="57.50" y1="281.73" x2="634.30" y2="281.73" stroke="#a6b9e6" stroke-width="0.65" />
<line x1="5.00" y1="287.39" x2="57.50" y2="287.39" stroke="#c3cdec" stroke-width="0.6" />
<line x1="57.50" y1="287.39" x2="634.30" y2="287.39" stroke="#a6b9e6" stroke-width="0.65" />
<line x1="5.00" y1="293.04" x2="57.50" y2="293.04" stroke="#c3cdec" stroke-width="0.6" />
<line x1="57.50" y1="293.04" x2="634.30" y2="293.04" stroke="#a6b9e6" stroke-width="0.65" />
<line x1="5.00" y1="298.69" x2="57.50" y2="298.69" stroke="#c3cdec" stroke-width="0.6" />
<line x1="57.50" y1="298.69" x2="634.30" y2="298.69" stroke="#a6b9e6" stroke-width="0.65" />
<line x1="5.00" y1="304.35" x2="57.50" y2="304.35" stroke="#c3cdec" stroke-width="0.6" />
<line x1="57.50" y1="304.35" x2="634.30" y2="304.35" stroke="#a6b9e6" stroke-width="0.65" />
<line x1="5.00" y1="310.00" x2="57.50" y2="310.00" stroke="#c3cdec" stroke-width="0.6" />
<line x1="57.50" y1="310.00" x2="634.30" y2="310.00" stroke="#a6b9e6" stroke-width="0.65" />
<line x1="5.00" y1="315.66" x2="57.50" y2="315.66" stroke="#c3cdec" stroke-width="0.6" />
<line x1="57.50" y1="315.66" x2="634.30" y2="315.66" stroke="#a6b9e6" stroke-width="0.65" />
<line x1="5.00" y1="321.31" x2="57.50" y2="321.31" stroke="#c3cdec" stroke-width="0.6" />
<line x1="57.50" y1="321.31" x2="634.30" y2="321.31" stroke="#a6b9e6" stroke-width="0.65" />
<line x1="5.00" y1="326.96" x2="57.50" y2="326.96" stroke="#c3cdec" stroke-width="0.6" />
<line x1="57.50" y1="326.96" x2="634.30" y2="326.96" stroke="#a6b9e6" stroke-width="0.65" />
<line x1="5.00" y1="332.62" x2="57.50" y2="332.62" stroke="#c3cdec" stroke-width="0.6" />
<line x1="57.50" y1="332.62" x2="634.30" y2="332.62" stroke="#a6b9e6" stroke-width="0.65" />
<line x1="5.00" y1="338.27" x2="57.50" y2="338.27" stroke="#c3cdec" stroke-width="0.6" />
<line x1="57.50" y1="338.27" x2="634.30" y2="338.27" stroke="#a6b9e6" stroke-width="0.65" />
<line x1="5.00" y1="343.93" x2="57.50" y2="343.93" stroke="#c3cdec" stroke-width="0.6" />
<line x1="57.50" y1="343.93" x2="634.30" y2="343.93" stroke="#a6b9e6" stroke-width="0.65" />
<line x1="5.00" y1="349.58" x2="57.50" y2="349.58" stroke="#c3cdec" stroke-width="0.6" />
<line x1="57.50" y1="349.58" x2="634.30" y2="349.58" stroke="#a6b9e6" stroke-width="0.65" />
<line x1="5.00" y1="355.23" x2="57.50" y2="355.23" stroke="#c3cdec" stroke-width="0.6" />
<line x1="57.50" y1="355.23" x2="634.30" y2="355.23" stroke="#a6b9e6" stroke-width="0.65" />
<line x1="5.00" y1="360.89" x2="57.50" y2="360.89" stroke="#c3cdec" stroke-width="0.6" />
<line x1="57.50" y1="360.89" x2="634.30" y2="360.89" stroke="#a6b9e6" stroke-width="0.65" />
<line x1="5.00" y1="366.54" x2="57.50" y2="366.54" stroke="#c3cdec" stroke-width="0.6" />
<line x1="57.50" y1="366.54" x2="634.30" y2="366.54" stroke="#a6b9e6" stroke-width="0.65" />
<line x1="5.00" y1="372.20" x2="57.50" y2="372.20" stroke="#c3cdec" stroke-width="0.6" />
<line x1="57.50" y1="372.20" x2="634.30" y2="372.20" stroke="#a6b9e6" stroke-width="0.65" />
<line x1="5.00" y1="377.85" x2="57.50" y2="377.85" stroke="#c3cdec" stroke-width="0.6" />
<line x1="57.50" y1="377.85" x2="634.30" y2="377.85" stroke="#a6b9e6" stroke-width="0.65" />
<line x1="5.00" y1="383.50" x2="57.50" y2="383.50" stroke="#c3cdec" stroke-width="0.6" />
<line x1="57.50" y1="383.50" x2="634.30" y2="383.50" stroke="#a6b9e6" stroke-width="0.65" />
<line x1="5.00" y1="389.16" x2="57.50" y2="389.16" stroke="#c3cdec" stroke-width="0.6" />
<line x1="57.50" y1="389.16" x2="634.30" y2="389.16" stroke="#a6b9e6" stroke-width="0.65" />
<line x1="5.00" y1="394.81" x2="57.50" y2="394.81" stroke="#c3cdec" stroke-width="0.6" />
<line x1="57.50" y1="394.81" x2="634.30" y2="394.81" stroke="#a6b9e6" stroke-width="0.65" />
<line x1="5.00" y1="398.50" x2="57.50" y2="398.50" stroke="#c3cdec" stroke-width="0.6" />
<line x1="57.50" y1="398.50" x2="634.30" y2="398.50" stroke="#a6b9e6" stroke-width="0.65" />
<line x1="57.50" y1="221.50" x2="57.50" y2="398.50" stroke="#b3c5ea" stroke-width="0.9" />
<line x1="60.50" y1="221.50" x2="60.50" y2="398.50" stroke="#b3c5ea" stroke-width="0.9" />
<line x1="63.50" y1="221.50" x2="63.50" y2="398.50" stroke="#b3c5ea" stroke-width="0.9" />
<line x1="11.00" y1="231.20" x2="11.00" y2="398.50" stroke="#c6d4f1" stroke-width="0.5" />
<line x1="66.60" y1="223.60" x2="66.60" y2="398.50" stroke="#6489d2" stroke-width="0.6" />
<line x1="161.32" y1="223.60" x2="161.32" y2="398.50" stroke="#6489d2" stroke-width="0.6" />
<line x1="256.04" y1="223.60" x2="256.04" y2="398.50" stroke="#6489d2" stroke-width="0.6" />
<line x1="347.70" y1="223.60" x2="347.70" y2="398.50" stroke="#6489d2" stroke-width="0.6" />
<line x1="442.42" y1="223.60" x2="442.42" y2="398.50" stroke="#6489d2" stroke-width="0.6" />
<line x1="534.08" y1="223.60" x2="534.08" y2="398.50" stroke="#6489d2" stroke-width="0.6" />
<line x1="628.80" y1="223.60" x2="628.80" y2="398.50" stroke="#6489d2" stroke-width="0.6" />
<rect x="67.40" y="232.37" width="1.46" height="0.80" fill="#a39a8c" fill-opacity="0.55"/>
<rect x="67.40" y="234.38" width="1.46" height="0.80" fill="#a39a8c" fill-opacity="0.55"/>
<rect x="67.40" y="395.62" width="1.46" height="0.80" fill="#a39a8c" fill-opacity="0.55"/>
<rect x="67.40" y="397.02" width="1.46" height="0.80" fill="#a39a8c" fill-opacity="0.55"/>
<rect x="70.46" y="232.37" width="1.46" height="0.80" fill="#a39a8c" fill-opacity="0.55"/>
<rect x="70.46" y="234.38" width="1.46" height="0.80" fill="#a39a8c" fill-opacity="0.55"/>
<rect x="70.46" y="395.62" width="1.46" height="0.80" fill="#a39a8c" fill-opacity="0.55"/>
<rect x="70.46" y="397.02" width="1.46" height="0.80" fill="#a39a8c" fill-opacity="0.55"/>
<rect x="73.51" y="232.37" width="1.46" height="0.80" fill="#a39a8c" fill-opacity="0.55"/>
<rect x="73.51" y="234.38" width="1.46" height="0.80" fill="#a39a8c" fill-opacity="0.55"/>
<rect x="73.51" y="395.62" width="1.46" height="0.80" fill="#a39a8c" fill-opacity="0.55"/>
<rect x="73.51" y="397.02" width="1.46" height="0.80" fill="#a39a8c" fill-opacity="0.55"/>
<rect x="76.57" y="232.37" width="1.46" height="0.80" fill="#a39a8c" fill-opacity="0.55"/>
<rect x="76.57" y="234.38" width="1.46" height="0.80" fill="#a39a8c" fill-opacity="0.55"/>
<rect x="76.57" y="395.62" width="1.46" height="0.80" fill="#a39a8c" fill-opacity="0.55"/>
<rect x="76.57" y="397.02" width="1.46" height="0.80" fill="#a39a8c" fill-opacity="0.55"/>
<rect x="79.62" y="232.37" width="1.46" height="0.80" fill="#a39a8c" fill-opacity="0.55"/>
<rect x="79.62" y="234.38" width="1.46" height="0.80" fill="#a39a8c" fill-opacity="0.55"/>
<rect x="79.62" y="395.62" width="1.46" height="0.80" fill="#a39a8c" fill-opacity="0.55"/>
<rect x="79.62" y="397.02" width="1.46" height="0.80" fill="#a39a8c" fill-opacity="0.55"/>
<rect x="82.68" y="232.37" width="1.46" height="0.80" fill="#a39a8c" fill-opacity="0.55"/>
<rect x="82.68" y="234.38" width="1.46" height="0.80" fill="#a39a8c" fill-opacity="0.55"/>
<rect x="82.68" y="395.62" width="1.46" height="0.80" fill="#a39a8c" fill-opacity="0.55"/>
<rect x="82.68" y="397.02" width="1.46" height="0.80" fill="#a39a8c" fill-opacity="0.55"/>
<rect x="85.73" y="232.37" width="1.46" height="0.80" fill="#a39a8c" fill-opacity="0.55"/>
<rect x="85.73" y="234.38" width="1.46" height="0.80" fill="#a39a8c" fill-opacity="0.55"/>
<rect x="85.73" y="395.62" width="1.46" height="0.80" fill="#a39a8c" fill-opacity="0.55"/>
<rect x="85.73" y="397.02" width="1.46" height="0.80" fill="#a39a8c" fill-opacity="0.55"/>
<rect x="88.79" y="232.37" width="1.46" height="0.80" fill="#a39a8c" fill-opacity="0.55"/>
<rect x="88.79" y="234.38" width="1.46" height="0.80" fill="#a39a8c" fill-opacity="0.55"/>
<rect x="88.79" y="395.62" width="1.46" height="0.80" fill="#a39a8c" fill-opacity="0.55"/>
<rect x="88.79" y="397.02" width="1.46" height="0.80" fill="#a39a8c" fill-opacity="0.55"/>
<rect x="91.84" y="232.37" width="1.46" height="0.80" fill="#a39a8c" fill-opacity="0.55"/>
<rect x="91.84" y="234.38" width="1.46" height="0.80" fill="#a39a8c" fill-opacity="0.55"/>
<rect x="91.84" y="395.62" width="1.46" height="0.80" fill="#a39a8c" fill-opacity="0.55"/>
<rect x="91.84" y="397.02" width="1.46" height="0.80" fill="#a39a8c" fill-opacity="0.55"/>
<rect x="94.90" y="232.37" width="1.46" height="0.80" fill="#a39a8c" fill-opacity="0.55"/>
<rect x="94.90" y="234.38" width="1.46" height="0.80" fill="#a39a8c" fill-opacity="0.55"/>
<rect x="94.90" y="395.62" width="1.46" height="0.80" fill="#a39a8c" fill-opacity="0.55"/>
<rect x="94.90" y="397.02" width="1.46" height="0.80" fill="#a39a8c" fill-opacity="0.55"/>
<rect x="97.95" y="232.37" width="1.46" height="0.80" fill="#a39a8c" fill-opacity="0.55"/>
<rect x="97.95" y="234.38" width="1.46" height="0.80" fill="#a39a8c" fill-opacity="0.55"/>
<rect x="97.95" y="395.62" width="1.46" height="0.80" fill="#a39a8c" fill-opacity="0.55"/>
<rect x="97.95" y="397.02" width="1.46" height="0.80" fill="#a39a8c" fill-opacity="0.55"/>
<rect x="101.01" y="232.37" width="1.46" height="0.80" fill="#a39a8c" fill-opacity="0.55"/>
<rect x="101.01" y="234.38" width="1.46" height="0.80" fill="#a39a8c" fill-opacity="0.55"/>
<rect x="101.01" y="395.62" width="1.46" height="0.80" fill="#a39a8c" fill-opacity="0.55"/>
<rect x="101.01" y="397.02" width="1.46" height="0.80" fill="#a39a8c" fill-opacity="0.55"/>
<rect x="104.07" y="232.37" width="1.46" height="0.80" fill="#a39a8c" fill-opacity="0.55"/>
<rect x="104.07" y="234.38" width="1.46" height="0.80" fill="#a39a8c" fill-opacity="0.55"/>
<rect x="104.07" y="395.62" width="1.46" height="0.80" fill="#a39a8c" fill-opacity="0.55"/>
<rect x="104.07" y="397.02" width="1.46" height="0.80" fill="#a39a8c" fill-opacity="0.55"/>
<rect x="107.12" y="232.37" width="1.46" height="0.80" fill="#a39a8c" fill-opacity="0.55"/>
<rect x="107.12" y="234.38" width="1.46" height="0.80" fill="#a39a8c" fill-opacity="0.55"/>
<rect x="107.12" y="395.62" width="1.46" height="0.80" fill="#a39a8c" fill-opacity="0.55"/>
<rect x="107.12" y="397.02" width="1.46" height="0.80" fill="#a39a8c" fill-opacity="0.55"/>
<rect x="110.18" y="232.37" width="1.46" height="0.80" fill="#a39a8c" fill-opacity="0.55"/>
<rect x="110.18" y="234.38" width="1.46" height="0.80" fill="#a39a8c" fill-opacity="0.55"/>
<rect x="110.18" y="395.62" width="1.46" height="0.80" fill="#a39a8c" fill-opacity="0.55"/>
<rect x="110.18" y="397.02" width="1.46" height="0.80" fill="#a39a8c" fill-opacity="0.55"/>
<rect x="113.23" y="232.37" width="1.46" height="0.80" fill="#a39a8c" fill-opacity="0.55"/>
<rect x="113.23" y="234.38" width="1.46" height="0.80" fill="#a39a8c" fill-opacity="0.55"/>
<rect x="113.23" y="395.62" width="1.46" height="0.80" fill="#a39a8c" fill-opacity="0.55"/>
<rect x="113.23" y="397.02" width="1.46" height="0.80" fill="#a39a8c" fill-opacity="0.55"/>
<rect x="116.29" y="232.37" width="1.46" height="0.80" fill="#a39a8c" fill-opacity="0.55"/>
<rect x="116.29" y="234.38" width="1.46" height="0.80" fill="#a39a8c" fill-opacity="0.55"/>
<rect x="116.29" y="395.62" width="1.46" height="0.80" fill="#a39a8c" fill-opacity="0.55"/>
<rect x="116.29" y="397.02" width="1.46" height="0.80" fill="#a39a8c" fill-opacity="0.55"/>
<rect x="119.34" y="232.37" width="1.46" height="0.80" fill="#a39a8c" fill-opacity="0.55"/>
<rect x="119.34" y="234.38" width="1.46" height="0.80" fill="#a39a8c" fill-opacity="0.55"/>
<rect x="119.34" y="395.62" width="1.46" height="0.80" fill="#a39a8c" fill-opacity="0.55"/>
<rect x="119.34" y="397.02" width="1.46" height="0.80" fill="#a39a8c" fill-opacity="0.55"/>
<rect x="122.40" y="232.37" width="1.46" height="0.80" fill="#a39a8c" fill-opacity="0.55"/>
<rect x="122.40" y="234.38" width="1.46" height="0.80" fill="#a39a8c" fill-opacity="0.55"/>
<rect x="122.40" y="395.62" width="1.46" height="0.80" fill="#a39a8c" fill-opacity="0.55"/>
<rect x="122.40" y="397.02" width="1.46" height="0.80" fill="#a39a8c" fill-opacity="0.55"/>
<rect x="125.45" y="232.37" width="1.46" height="0.80" fill="#a39a8c" fill-opacity="0.55"/>
<rect x="125.45" y="234.38" width="1.46" height="0.80" fill="#a39a8c" fill-opacity="0.55"/>
<rect x="125.45" y="395.62" width="1.46" height="0.80" fill="#a39a8c" fill-opacity="0.55"/>
<rect x="125.45" y="397.02" width="1.46" height="0.80" fill="#a39a8c" fill-opacity="0.55"/>
<rect x="128.51" y="232.37" width="1.46" height="0.80" fill="#a39a8c" fill-opacity="0.55"/>
<rect x="128.51" y="234.38" width="1.46" height="0.80" fill="#a39a8c" fill-opacity="0.55"/>
<rect x="128.51" y="395.62" width="1.46" height="0.80" fill="#a39a8c" fill-opacity="0.55"/>
<rect x="128.51" y="397.02" width="1.46" height="0.80" fill="#a39a8c" fill-opacity="0.55"/>
<rect x="131.56" y="232.37" width="1.46" height="0.80" fill="#a39a8c" fill-opacity="0.55"/>
<rect x="131.56" y="234.38" width="1.46" height="0.80" fill="#a39a8c" fill-opacity="0.55"/>
<rect x="131.56" y="395.62" width="1.46" height="0.80" fill="#a39a8c" fill-opacity="0.55"/>
<rect x="131.56" y="397.02" width="1.46" height="0.80" fill="#a39a8c" fill-opacity="0.55"/>
<rect x="134.62" y="232.37" width="1.46" height="0.80" fill="#a39a8c" fill-opacity="0.55"/>
<rect x="134.62" y="234.38" width="1.46" height="0.80" fill="#a39a8c" fill-opacity="0.55"/>
<rect x="134.62" y="395.62" width="1.46" height="0.80" fill="#a39a8c" fill-opacity="0.55"/>
<rect x="134.62" y="397.02" width="1.46" height="0.80" fill="#a39a8c" fill-opacity="0.55"/>
<rect x="137.68" y="232.37" width="1.46" height="0.80" fill="#a39a8c" fill-opacity="0.55"/>
<rect x="137.68" y="234.38" width="1.46" height="0.80" fill="#a39a8c" fill-opacity="0.55"/>
<rect x="137.68" y="395.62" width="1.46" height="0.80" fill="#a39a8c" fill-opacity="0.55"/>
<rect x="137.68" y="397.02" width="1.46" height="0.80" fill="#a39a8c" fill-opacity="0.55"/>
<rect x="140.73" y="232.37" width="1.46" height="0.80" fill="#a39a8c" fill-opacity="0.55"/>
<rect x="140.73" y="234.38" width="1.46" height="0.80" fill="#a39a8c" fill-opacity="0.55"/>
<rect x="140.73" y="395.62" width="1.46" height="0.80" fill="#a39a8c" fill-opacity="0.55"/>
<rect x="140.73" y="397.02" width="1.46" height="0.80" fill="#a39a8c" fill-opacity="0.55"/>
<rect x="143.79" y="232.37" width="1.46" height="0.80" fill="#a39a8c" fill-opacity="0.55"/>
<rect x="143.79" y="234.38" width="1.46" height="0.80" fill="#a39a8c" fill-opacity="0.55"/>
<rect x="143.79" y="395.62" width="1.46" height="0.80" fill="#a39a8c" fill-opacity="0.55"/>
<rect x="143.79" y="397.02" width="1.46" height="0.80" fill="#a39a8c" fill-opacity="0.55"/>
<rect x="146.84" y="232.37" width="1.46" height="0.80" fill="#a39a8c" fill-opacity="0.55"/>
<rect x="146.84" y="234.38" width="1.46" height="0.80" fill="#a39a8c" fill-opacity="0.55"/>
<rect x="146.84" y="395.62" width="1.46" height="0.80" fill="#a39a8c" fill-opacity="0.55"/>
<rect x="146.84" y="397.02" width="1.46" height="0.80" fill="#a39a8c" fill-opacity="0.55"/>
<rect x="149.90" y="232.37" width="1.46" height="0.80" fill="#a39a8c" fill-opacity="0.55"/>
<rect x="149.90" y="234.38" width="1.46" height="0.80" fill="#a39a8c" fill-opacity="0.55"/>
<rect x="149.90" y="395.62" width="1.46" height="0.80" fill="#a39a8c" fill-opacity="0.55"/>
<rect x="149.90" y="397.02" width="1.46" height="0.80" fill="#a39a8c" fill-opacity="0.55"/>
<rect x="152.95" y="232.37" width="1.46" height="0.80" fill="#a39a8c" fill-opacity="0.55"/>
<rect x="152.95" y="234.38" width="1.46" height="0.80" fill="#a39a8c" fill-opacity="0.55"/>
<rect x="152.95" y="395.62" width="1.46" height="0.80" fill="#a39a8c" fill-opacity="0.55"/>
<rect x="152.95" y="397.02" width="1.46" height="0.80" fill="#a39a8c" fill-opacity="0.55"/>
<rect x="156.01" y="232.37" width="1.46" height="0.80" fill="#a39a8c" fill-opacity="0.55"/>
<rect x="156.01" y="234.38" width="1.46" height="0.80" fill="#a39a8c" fill-opacity="0.55"/>
<rect x="156.01" y="395.62" width="1.46" height="0.80" fill="#a39a8c" fill-opacity="0.55"/>
<rect x="156.01" y="397.02" width="1.46" height="0.80" fill="#a39a8c" fill-opacity="0.55"/>
<rect x="159.06" y="232.37" width="1.46" height="0.80" fill="#a39a8c" fill-opacity="0.55"/>
<rect x="159.06" y="234.38" width="1.46" height="0.80" fill="#a39a8c" fill-opacity="0.55"/>
<rect x="159.06" y="395.62" width="1.46" height="0.80" fill="#a39a8c" fill-opacity="0.55"/>
<rect x="159.06" y="397.02" width="1.46" height="0.80" fill="#a39a8c" fill-opacity="0.55"/>
<rect x="162.12" y="232.37" width="1.46" height="0.80" fill="#a39a8c" fill-opacity="0.55"/>
<rect x="162.12" y="234.38" width="1.46" height="0.80" fill="#a39a8c" fill-opacity="0.55"/>
<rect x="162.12" y="395.62" width="1.46" height="0.80" fill="#a39a8c" fill-opacity="0.55"/>
<rect x="162.12" y="397.02" width="1.46" height="0.80" fill="#a39a8c" fill-opacity="0.55"/>
<rect x="165.17" y="232.37" width="1.46" height="0.80" fill="#a39a8c" fill-opacity="0.55"/>
<rect x="165.17" y="234.38" width="1.46" height="0.80" fill="#a39a8c" fill-opacity="0.55"/>
<rect x="165.17" y="395.62" width="1.46" height="0.80" fill="#a39a8c" fill-opacity="0.55"/>
<rect x="165.17" y="397.02" width="1.46" height="0.80" fill="#a39a8c" fill-opacity="0.55"/>
<rect x="168.23" y="232.37" width="1.46" height="0.80" fill="#a39a8c" fill-opacity="0.55"/>
<rect x="168.23" y="234.38" width="1.46" height="0.80" fill="#a39a8c" fill-opacity="0.55"/>
<rect x="168.23" y="395.62" width="1.46" height="0.80" fill="#a39a8c" fill-opacity="0.55"/>
<rect x="168.23" y="397.02" width="1.46" height="0.80" fill="#a39a8c" fill-opacity="0.55"/>
<rect x="171.28" y="232.37" width="1.46" height="0.80" fill="#a39a8c" fill-opacity="0.55"/>
<rect x="171.28" y="234.38" width="1.46" height="0.80" fill="#a39a8c" fill-opacity="0.55"/>
<rect x="171.28" y="395.62" width="1.46" height="0.80" fill="#a39a8c" fill-opacity="0.55"/>
<rect x="171.28" y="397.02" width="1.46" height="0.80" fill="#a39a8c" fill-opacity="0.55"/>
<rect x="174.34" y="232.37" width="1.46" height="0.80" fill="#a39a8c" fill-opacity="0.55"/>
<rect x="174.34" y="234.38" width="1.46" height="0.80" fill="#a39a8c" fill-opacity="0.55"/>
<rect x="174.34" y="395.62" width="1.46" height="0.80" fill="#a39a8c" fill-opacity="0.55"/>
<rect x="174.34" y="397.02" width="1.46" height="0.80" fill="#a39a8c" fill-opacity="0.55"/>
<rect x="177.40" y="232.37" width="1.46" height="0.80" fill="#a39a8c" fill-opacity="0.55"/>
<rect x="177.40" y="234.38" width="1.46" height="0.80" fill="#a39a8c" fill-opacity="0.55"/>
<rect x="177.40" y="395.62" width="1.46" height="0.80" fill="#a39a8c" fill-opacity="0.55"/>
<rect x="177.40" y="397.02" width="1.46" height="0.80" fill="#a39a8c" fill-opacity="0.55"/>
<rect x="180.45" y="232.37" width="1.46" height="0.80" fill="#a39a8c" fill-opacity="0.55"/>
<rect x="180.45" y="234.38" width="1.46" height="0.80" fill="#a39a8c" fill-opacity="0.55"/>
<rect x="180.45" y="395.62" width="1.46" height="0.80" fill="#a39a8c" fill-opacity="0.55"/>
<rect x="180.45" y="397.02" width="1.46" height="0.80" fill="#a39a8c" fill-opacity="0.55"/>
<rect x="183.51" y="232.37" width="1.46" height="0.80" fill="#a39a8c" fill-opacity="0.55"/>
<rect x="183.51" y="234.38" width="1.46" height="0.80" fill="#a39a8c" fill-opacity="0.55"/>
<rect x="183.51" y="395.62" width="1.46" height="0.80" fill="#a39a8c" fill-opacity="0.55"/>
<rect x="183.51" y="397.02" width="1.46" height="0.80" fill="#a39a8c" fill-opacity="0.55"/>
<rect x="186.56" y="232.37" width="1.46" height="0.80" fill="#a39a8c" fill-opacity="0.55"/>
<rect x="186.56" y="234.38" width="1.46" height="0.80" fill="#a39a8c" fill-opacity="0.55"/>
<rect x="186.56" y="395.62" width="1.46" height="0.80" fill="#a39a8c" fill-opacity="0.55"/>
<rect x="186.56" y="397.02" width="1.46" height="0.80" fill="#a39a8c" fill-opacity="0.55"/>
<rect x="189.62" y="232.37" width="1.46" height="0.80" fill="#a39a8c" fill-opacity="0.55"/>
<rect x="189.62" y="234.38" width="1.46" height="0.80" fill="#a39a8c" fill-opacity="0.55"/>
<rect x="189.62" y="395.62" width="1.46" height="0.80" fill="#a39a8c" fill-opacity="0.55"/>
<rect x="189.62" y="397.02" width="1.46" height="0.80" fill="#a39a8c" fill-opacity="0.55"/>
<rect x="192.67" y="232.37" width="1.46" height="0.80" fill="#a39a8c" fill-opacity="0.55"/>
<rect x="192.67" y="234.38" width="1.46" height="0.80" fill="#a39a8c" fill-opacity="0.55"/>
<rect x="192.67" y="395.62" width="1.46" height="0.80" fill="#a39a8c" fill-opacity="0.55"/>
<rect x="192.67" y="397.02" width="1.46" height="0.80" fill="#a39a8c" fill-opacity="0.55"/>
<rect x="195.73" y="232.37" width="1.46" height="0.80" fill="#a39a8c" fill-opacity="0.55"/>
<rect x="195.73" y="234.38" width="1.46" height="0.80" fill="#a39a8c" fill-opacity="0.55"/>
<rect x="195.73" y="395.62" width="1.46" height="0.80" fill="#a39a8c" fill-opacity="0.55"/>
<rect x="195.73" y="397.02" width="1.46" height="0.80" fill="#a39a8c" fill-opacity="0.55"/>
<rect x="198.78" y="232.37" width="1.46" height="0.80" fill="#a39a8c" fill-opacity="0.55"/>
<rect x="198.78" y="234.38" width="1.46" height="0.80" fill="#a39a8c" fill-opacity="0.55"/>
<rect x="198.78" y="395.62" width="1.46" height="0.80" fill="#a39a8c" fill-opacity="0.55"/>
<rect x="198.78" y="397.02" width="1.46" height="0.80" fill="#a39a8c" fill-opacity="0.55"/>
<rect x="201.84" y="232.37" width="1.46" height="0.80" fill="#a39a8c" fill-opacity="0.55"/>
<rect x="201.84" y="234.38" width="1.46" height="0.80" fill="#a39a8c" fill-opacity="0.55"/>
<rect x="201.84" y="395.62" width="1.46" height="0.80" fill="#a39a8c" fill-opacity="0.55"/>
<rect x="201.84" y="397.02" width="1.46" height="0.80" fill="#a39a8c" fill-opacity="0.55"/>
<rect x="204.89" y="232.37" width="1.46" height="0.80" fill="#a39a8c" fill-opacity="0.55"/>
<rect x="204.89" y="234.38" width="1.46" height="0.80" fill="#a39a8c" fill-opacity="0.55"/>
<rect x="204.89" y="395.62" width="1.46" height="0.80" fill="#a39a8c" fill-opacity="0.55"/>
<rect x="204.89" y="397.02" width="1.46" height="0.80" fill="#a39a8c" fill-opacity="0.55"/>
<rect x="207.95" y="232.37" width="1.46" height="0.80" fill="#a39a8c" fill-opacity="0.55"/>
<rect x="207.95" y="234.38" width="1.46" height="0.80" fill="#a39a8c" fill-opacity="0.55"/>
<rect x="207.95" y="395.62" width="1.46" height="0.80" fill="#a39a8c" fill-opacity="0.55"/>
<rect x="207.95" y="397.02" width="1.46" height="0.80" fill="#a39a8c" fill-opacity="0.55"/>
<rect x="211.01" y="232.37" width="1.46" height="0.80" fill="#a39a8c" fill-opacity="0.55"/>
<rect x="211.01" y="234.38" width="1.46" height="0.80" fill="#a39a8c" fill-opacity="0.55"/>
<rect x="211.01" y="395.62" width="1.46" height="0.80" fill="#a39a8c" fill-opacity="0.55"/>
<rect x="211.01" y="397.02" width="1.46" height="0.80" fill="#a39a8c" fill-opacity="0.55"/>
<rect x="214.06" y="232.37" width="1.46" height="0.80" fill="#a39a8c" fill-opacity="0.55"/>
<rect x="214.06" y="234.38" width="1.46" height="0.80" fill="#a39a8c" fill-opacity="0.55"/>
<rect x="214.06" y="395.62" width="1.46" height="0.80" fill="#a39a8c" fill-opacity="0.55"/>
<rect x="214.06" y="397.02" width="1.46" height="0.80" fill="#a39a8c" fill-opacity="0.55"/>
<rect x="217.12" y="232.37" width="1.46" height="0.80" fill="#a39a8c" fill-opacity="0.55"/>
<rect x="217.12" y="234.38" width="1.46" height="0.80" fill="#a39a8c" fill-opacity="0.55"/>
<rect x="217.12" y="395.62" width="1.46" height="0.80" fill="#a39a8c" fill-opacity="0.55"/>
<rect x="217.12" y="397.02" width="1.46" height="0.80" fill="#a39a8c" fill-opacity="0.55"/>
<rect x="220.17" y="232.37" width="1.46" height="0.80" fill="#a39a8c" fill-opacity="0.55"/>
<rect x="220.17" y="234.38" width="1.46" height="0.80" fill="#a39a8c" fill-opacity="0.55"/>
<rect x="220.17" y="395.62" width="1.46" height="0.80" fill="#a39a8c" fill-opacity="0.55"/>
<rect x="220.17" y="397.02" width="1.46" height="0.80" fill="#a39a8c" fill-opacity="0.55"/>
<rect x="223.23" y="232.37" width="1.46" height="0.80" fill="#a39a8c" fill-opacity="0.55"/>
<rect x="223.23" y="234.38" width="1.46" height="0.80" fill="#a39a8c" fill-opacity="0.55"/>
<rect x="223.23" y="395.62" width="1.46" height="0.80" fill="#a39a8c" fill-opacity="0.55"/>
<rect x="223.23" y="397.02" width="1.46" height="0.80" fill="#a39a8c" fill-opacity="0.55"/>
<rect x="226.28" y="232.37" width="1.46" height="0.80" fill="#a39a8c" fill-opacity="0.55"/>
<rect x="226.28" y="234.38" width="1.46" height="0.80" fill="#a39a8c" fill-opacity="0.55"/>
<rect x="226.28" y="395.62" width="1.46" height="0.80" fill="#a39a8c" fill-opacity="0.55"/>
<rect x="226.28" y="397.02" width="1.46" height="0.80" fill="#a39a8c" fill-opacity="0.55"/>
<rect x="229.34" y="232.37" width="1.46" height="0.80" fill="#a39a8c" fill-opacity="0.55"/>
<rect x="229.34" y="234.38" width="1.46" height="0.80" fill="#a39a8c" fill-opacity="0.55"/>
<rect x="229.34" y="395.62" width="1.46" height="0.80" fill="#a39a8c" fill-opacity="0.55"/>
<rect x="229.34" y="397.02" width="1.46" height="0.80" fill="#a39a8c" fill-opacity="0.55"/>
<rect x="232.39" y="232.37" width="1.46" height="0.80" fill="#a39a8c" fill-opacity="0.55"/>
<rect x="232.39" y="234.38" width="1.46" height="0.80" fill="#a39a8c" fill-opacity="0.55"/>
<rect x="232.39" y="395.62" width="1.46" height="0.80" fill="#a39a8c" fill-opacity="0.55"/>
<rect x="232.39" y="397.02" width="1.46" height="0.80" fill="#a39a8c" fill-opacity="0.55"/>
<rect x="235.45" y="232.37" width="1.46" height="0.80" fill="#a39a8c" fill-opacity="0.55"/>
<rect x="235.45" y="234.38" width="1.46" height="0.80" fill="#a39a8c" fill-opacity="0.55"/>
<rect x="235.45" y="395.62" width="1.46" height="0.80" fill="#a39a8c" fill-opacity="0.55"/>
<rect x="235.45" y="397.02" width="1.46" height="0.80" fill="#a39a8c" fill-opacity="0.55"/>
<rect x="238.50" y="232.37" width="1.46" height="0.80" fill="#a39a8c" fill-opacity="0.55"/>
<rect x="238.50" y="234.38" width="1.46" height="0.80" fill="#a39a8c" fill-opacity="0.55"/>
<rect x="238.50" y="395.62" width="1.46" height="0.80" fill="#a39a8c" fill-opacity="0.55"/>
<rect x="238.50" y="397.02" width="1.46" height="0.80" fill="#a39a8c" fill-opacity="0.55"/>
<rect x="241.56" y="232.37" width="1.46" height="0.80" fill="#a39a8c" fill-opacity="0.55"/>
<rect x="241.56" y="234.38" width="1.46" height="0.80" fill="#a39a8c" fill-opacity="0.55"/>
<rect x="241.56" y="395.62" width="1.46" height="0.80" fill="#a39a8c" fill-opacity="0.55"/>
<rect x="241.56" y="397.02" width="1.46" height="0.80" fill="#a39a8c" fill-opacity="0.55"/>
<rect x="244.62" y="232.37" width="1.46" height="0.80" fill="#a39a8c" fill-opacity="0.55"/>
<rect x="244.62" y="234.38" width="1.46" height="0.80" fill="#a39a8c" fill-opacity="0.55"/>
<rect x="244.62" y="395.62" width="1.46" height="0.80" fill="#a39a8c" fill-opacity="0.55"/>
<rect x="244.62" y="397.02" width="1.46" height="0.80" fill="#a39a8c" fill-opacity="0.55"/>
<rect x="247.67" y="232.37" width="1.46" height="0.80" fill="#a39a8c" fill-opacity="0.55"/>
<rect x="247.67" y="234.38" width="1.46" height="0.80" fill="#a39a8c" fill-opacity="0.55"/>
<rect x="247.67" y="395.62" width="1.46" height="0.80" fill="#a39a8c" fill-opacity="0.55"/>
<rect x="247.67" y="397.02" width="1.46" height="0.80" fill="#a39a8c" fill-opacity="0.55"/>
<rect x="250.73" y="232.37" width="1.46" height="0.80" fill="#a39a8c" fill-opacity="0.55"/>
<rect x="250.73" y="234.38" width="1.46" height="0.80" fill="#a39a8c" fill-opacity="0.55"/>
<rect x="250.73" y="395.62" width="1.46" height="0.80" fill="#a39a8c" fill-opacity="0.55"/>
<rect x="250.73" y="397.02" width="1.46" height="0.80" fill="#a39a8c" fill-opacity="0.55"/>
<rect x="253.78" y="232.37" width="1.46" height="0.80" fill="#a39a8c" fill-opacity="0.55"/>
<rect x="253.78" y="234.38" width="1.46" height="0.80" fill="#a39a8c" fill-opacity="0.55"/>
<rect x="253.78" y="395.62" width="1.46" height="0.80" fill="#a39a8c" fill-opacity="0.55"/>
<rect x="253.78" y="397.02" width="1.46" height="0.80" fill="#a39a8c" fill-opacity="0.55"/>
<rect x="256.84" y="232.37" width="1.46" height="0.80" fill="#a39a8c" fill-opacity="0.55"/>
<rect x="256.84" y="234.38" width="1.46" height="0.80" fill="#a39a8c" fill-opacity="0.55"/>
<rect x="256.84" y="395.62" width="1.46" height="0.80" fill="#a39a8c" fill-opacity="0.55"/>
<rect x="256.84" y="397.02" width="1.46" height="0.80" fill="#a39a8c" fill-opacity="0.55"/>
<rect x="259.89" y="232.37" width="1.46" height="0.80" fill="#a39a8c" fill-opacity="0.55"/>
<rect x="259.89" y="234.38" width="1.46" height="0.80" fill="#a39a8c" fill-opacity="0.55"/>
<rect x="259.89" y="395.62" width="1.46" height="0.80" fill="#a39a8c" fill-opacity="0.55"/>
<rect x="259.89" y="397.02" width="1.46" height="0.80" fill="#a39a8c" fill-opacity="0.55"/>
<rect x="262.95" y="232.37" width="1.46" height="0.80" fill="#a39a8c" fill-opacity="0.55"/>
<rect x="262.95" y="234.38" width="1.46" height="0.80" fill="#a39a8c" fill-opacity="0.55"/>
<rect x="262.95" y="395.62" width="1.46" height="0.80" fill="#a39a8c" fill-opacity="0.55"/>
<rect x="262.95" y="397.02" width="1.46" height="0.80" fill="#a39a8c" fill-opacity="0.55"/>
<rect x="266.00" y="232.37" width="1.46" height="0.80" fill="#a39a8c" fill-opacity="0.55"/>
<rect x="266.00" y="234.38" width="1.46" height="0.80" fill="#a39a8c" fill-opacity="0.55"/>
<rect x="266.00" y="395.62" width="1.46" height="0.80" fill="#a39a8c" fill-opacity="0.55"/>
<rect x="266.00" y="397.02" width="1.46" height="0.80" fill="#a39a8c" fill-opacity="0.55"/>
<rect x="269.06" y="232.37" width="1.46" height="0.80" fill="#a39a8c" fill-opacity="0.55"/>
<rect x="269.06" y="234.38" width="1.46" height="0.80" fill="#a39a8c" fill-opacity="0.55"/>
<rect x="269.06" y="395.62" width="1.46" height="0.80" fill="#a39a8c" fill-opacity="0.55"/>
<rect x="269.06" y="397.02" width="1.46" height="0.80" fill="#a39a8c" fill-opacity="0.55"/>
<rect x="272.11" y="232.37" width="1.46" height="0.80" fill="#a39a8c" fill-opacity="0.55"/>
<rect x="272.11" y="234.38" width="1.46" height="0.80" fill="#a39a8c" fill-opacity="0.55"/>
<rect x="272.11" y="395.62" width="1.46" height="0.80" fill="#a39a8c" fill-opacity="0.55"/>
<rect x="272.11" y="397.02" width="1.46" height="0.80" fill="#a39a8c" fill-opacity="0.55"/>
<rect x="275.17" y="232.37" width="1.46" height="0.80" fill="#a39a8c" fill-opacity="0.55"/>
<rect x="275.17" y="234.38" width="1.46" height="0.80" fill="#a39a8c" fill-opacity="0.55"/>
<rect x="275.17" y="395.62" width="1.46" height="0.80" fill="#a39a8c" fill-opacity="0.55"/>
<rect x="275.17" y="397.02" width="1.46" height="0.80" fill="#a39a8c" fill-opacity="0.55"/>
<rect x="278.22" y="232.37" width="1.46" height="0.80" fill="#a39a8c" fill-opacity="0.55"/>
<rect x="278.22" y="234.38" width="1.46" height="0.80" fill="#a39a8c" fill-opacity="0.55"/>
<rect x="278.22" y="395.62" width="1.46" height="0.80" fill="#a39a8c" fill-opacity="0.55"/>
<rect x="278.22" y="397.02" width="1.46" height="0.80" fill="#a39a8c" fill-opacity="0.55"/>
<rect x="281.28" y="232.37" width="1.46" height="0.80" fill="#a39a8c" fill-opacity="0.55"/>
<rect x="281.28" y="234.38" width="1.46" height="0.80" fill="#a39a8c" fill-opacity="0.55"/>
<rect x="281.28" y="395.62" width="1.46" height="0.80" fill="#a39a8c" fill-opacity="0.55"/>
<rect x="281.28" y="397.02" width="1.46" height="0.80" fill="#a39a8c" fill-opacity="0.55"/>
<rect x="284.34" y="232.37" width="1.46" height="0.80" fill="#a39a8c" fill-opacity="0.55"/>
<rect x="284.34" y="234.38" width="1.46" height="0.80" fill="#a39a8c" fill-opacity="0.55"/>
<rect x="284.34" y="395.62" width="1.46" height="0.80" fill="#a39a8c" fill-opacity="0.55"/>
<rect x="284.34" y="397.02" width="1.46" height="0.80" fill="#a39a8c" fill-opacity="0.55"/>
<rect x="287.39" y="232.37" width="1.46" height="0.80" fill="#a39a8c" fill-opacity="0.55"/>
<rect x="287.39" y="234.38" width="1.46" height="0.80" fill="#a39a8c" fill-opacity="0.55"/>
<rect x="287.39" y="395.62" width="1.46" height="0.80" fill="#a39a8c" fill-opacity="0.55"/>
<rect x="287.39" y="397.02" width="1.46" height="0.80" fill="#a39a8c" fill-opacity="0.55"/>
<rect x="290.45" y="232.37" width="1.46" height="0.80" fill="#a39a8c" fill-opacity="0.55"/>
<rect x="290.45" y="234.38" width="1.46" height="0.80" fill="#a39a8c" fill-opacity="0.55"/>
<rect x="290.45" y="395.62" width="1.46" height="0.80" fill="#a39a8c" fill-opacity="0.55"/>
<rect x="290.45" y="397.02" width="1.46" height="0.80" fill="#a39a8c" fill-opacity="0.55"/>
<rect x="293.50" y="232.37" width="1.46" height="0.80" fill="#a39a8c" fill-opacity="0.55"/>
<rect x="293.50" y="234.38" width="1.46" height="0.80" fill="#a39a8c" fill-opacity="0.55"/>
<rect x="293.50" y="395.62" width="1.46" height="0.80" fill="#a39a8c" fill-opacity="0.55"/>
<rect x="293.50" y="397.02" width="1.46" height="0.80" fill="#a39a8c" fill-opacity="0.55"/>
<rect x="296.56" y="232.37" width="1.46" height="0.80" fill="#a39a8c" fill-opacity="0.55"/>
<rect x="296.56" y="234.38" width="1.46" height="0.80" fill="#a39a8c" fill-opacity="0.55"/>
<rect x="296.56" y="395.62" width="1.46" height="0.80" fill="#a39a8c" fill-opacity="0.55"/>
<rect x="296.56" y="397.02" width="1.46" height="0.80" fill="#a39a8c" fill-opacity="0.55"/>
<rect x="299.61" y="232.37" width="1.46" height="0.80" fill="#a39a8c" fill-opacity="0.55"/>
<rect x="299.61" y="234.38" width="1.46" height="0.80" fill="#a39a8c" fill-opacity="0.55"/>
<rect x="299.61" y="395.62" width="1.46" height="0.80" fill="#a39a8c" fill-opacity="0.55"/>
<rect x="299.61" y="397.02" width="1.46" height="0.80" fill="#a39a8c" fill-opacity="0.55"/>
<rect x="302.67" y="232.37" width="1.46" height="0.80" fill="#a39a8c" fill-opacity="0.55"/>
<rect x="302.67" y="234.38" width="1.46" height="0.80" fill="#a39a8c" fill-opacity="0.55"/>
<rect x="302.67" y="395.62" width="1.46" height="0.80" fill="#a39a8c" fill-opacity="0.55"/>
<rect x="302.67" y="397.02" width="1.46" height="0.80" fill="#a39a8c" fill-opacity="0.55"/>
<rect x="305.72" y="232.37" width="1.46" height="0.80" fill="#a39a8c" fill-opacity="0.55"/>
<rect x="305.72" y="234.38" width="1.46" height="0.80" fill="#a39a8c" fill-opacity="0.55"/>
<rect x="305.72" y="395.62" width="1.46" height="0.80" fill="#a39a8c" fill-opacity="0.55"/>
<rect x="305.72" y="397.02" width="1.46" height="0.80" fill="#a39a8c" fill-opacity="0.55"/>
<rect x="308.78" y="232.37" width="1.46" height="0.80" fill="#a39a8c" fill-opacity="0.55"/>
<rect x="308.78" y="234.38" width="1.46" height="0.80" fill="#a39a8c" fill-opacity="0.55"/>
<rect x="308.78" y="395.62" width="1.46" height="0.80" fill="#a39a8c" fill-opacity="0.55"/>
<rect x="308.78" y="397.02" width="1.46" height="0.80" fill="#a39a8c" fill-opacity="0.55"/>
<rect x="311.83" y="232.37" width="1.46" height="0.80" fill="#a39a8c" fill-opacity="0.55"/>
<rect x="311.83" y="234.38" width="1.46" height="0.80" fill="#a39a8c" fill-opacity="0.55"/>
<rect x="311.83" y="395.62" width="1.46" height="0.80" fill="#a39a8c" fill-opacity="0.55"/>
<rect x="311.83" y="397.02" width="1.46" height="0.80" fill="#a39a8c" fill-opacity="0.55"/>
<rect x="314.89" y="232.37" width="1.46" height="0.80" fill="#a39a8c" fill-opacity="0.55"/>
<rect x="314.89" y="234.38" width="1.46" height="0.80" fill="#a39a8c" fill-opacity="0.55"/>
<rect x="314.89" y="395.62" width="1.46" height="0.80" fill="#a39a8c" fill-opacity="0.55"/>
<rect x="314.89" y="397.02" width="1.46" height="0.80" fill="#a39a8c" fill-opacity="0.55"/>
<rect x="317.95" y="232.37" width="1.46" height="0.80" fill="#a39a8c" fill-opacity="0.55"/>
<rect x="317.95" y="234.38" width="1.46" height="0.80" fill="#a39a8c" fill-opacity="0.55"/>
<rect x="317.95" y="395.62" width="1.46" height="0.80" fill="#a39a8c" fill-opacity="0.55"/>
<rect x="317.95" y="397.02" width="1.46" height="0.80" fill="#a39a8c" fill-opacity="0.55"/>
<rect x="321.00" y="232.37" width="1.46" height="0.80" fill="#a39a8c" fill-opacity="0.55"/>
<rect x="321.00" y="234.38" width="1.46" height="0.80" fill="#a39a8c" fill-opacity="0.55"/>
<rect x="321.00" y="395.62" width="1.46" height="0.80" fill="#a39a8c" fill-opacity="0.55"/>
<rect x="321.00" y="397.02" width="1.46" height="0.80" fill="#a39a8c" fill-opacity="0.55"/>
<rect x="324.06" y="232.37" width="1.46" height="0.80" fill="#a39a8c" fill-opacity="0.55"/>
<rect x="324.06" y="234.38" width="1.46" height="0.80" fill="#a39a8c" fill-opacity="0.55"/>
<rect x="324.06" y="395.62" width="1.46" height="0.80" fill="#a39a8c" fill-opacity="0.55"/>
<rect x="324.06" y="397.02" width="1.46" height="0.80" fill="#a39a8c" fill-opacity="0.55"/>
<rect x="327.11" y="232.37" width="1.46" height="0.80" fill="#a39a8c" fill-opacity="0.55"/>
<rect x="327.11" y="234.38" width="1.46" height="0.80" fill="#a39a8c" fill-opacity="0.55"/>
<rect x="327.11" y="395.62" width="1.46" height="0.80" fill="#a39a8c" fill-opacity="0.55"/>
<rect x="327.11" y="397.02" width="1.46" height="0.80" fill="#a39a8c" fill-opacity="0.55"/>
<rect x="330.17" y="232.37" width="1.46" height="0.80" fill="#a39a8c" fill-opacity="0.55"/>
<rect x="330.17" y="234.38" width="1.46" height="0.80" fill="#a39a8c" fill-opacity="0.55"/>
<rect x="330.17" y="395.62" width="1.46" height="0.80" fill="#a39a8c" fill-opacity="0.55"/>
<rect x="330.17" y="397.02" width="1.46" height="0.80" fill="#a39a8c" fill-opacity="0.55"/>
<rect x="333.22" y="232.37" width="1.46" height="0.80" fill="#a39a8c" fill-opacity="0.55"/>
<rect x="333.22" y="234.38" width="1.46" height="0.80" fill="#a39a8c" fill-opacity="0.55"/>
<rect x="333.22" y="395.62" width="1.46" height="0.80" fill="#a39a8c" fill-opacity="0.55"/>
<rect x="333.22" y="397.02" width="1.46" height="0.80" fill="#a39a8c" fill-opacity="0.55"/>
<rect x="336.28" y="232.37" width="1.46" height="0.80" fill="#a39a8c" fill-opacity="0.55"/>
<rect x="336.28" y="234.38" width="1.46" height="0.80" fill="#a39a8c" fill-opacity="0.55"/>
<rect x="336.28" y="395.62" width="1.46" height="0.80" fill="#a39a8c" fill-opacity="0.55"/>
<rect x="336.28" y="397.02" width="1.46" height="0.80" fill="#a39a8c" fill-opacity="0.55"/>
<rect x="339.33" y="232.37" width="1.46" height="0.80" fill="#a39a8c" fill-opacity="0.55"/>
<rect x="339.33" y="234.38" width="1.46" height="0.80" fill="#a39a8c" fill-opacity="0.55"/>
<rect x="339.33" y="395.62" width="1.46" height="0.80" fill="#a39a8c" fill-opacity="0.55"/>
<rect x="339.33" y="397.02" width="1.46" height="0.80" fill="#a39a8c" fill-opacity="0.55"/>
<rect x="342.39" y="232.37" width="1.46" height="0.80" fill="#a39a8c" fill-opacity="0.55"/>
<rect x="342.39" y="234.38" width="1.46" height="0.80" fill="#a39a8c" fill-opacity="0.55"/>
<rect x="342.39" y="395.62" width="1.46" height="0.80" fill="#a39a8c" fill-opacity="0.55"/>
<rect x="342.39" y="397.02" width="1.46" height="0.80" fill="#a39a8c" fill-opacity="0.55"/>
<rect x="345.44" y="232.37" width="1.46" height="0.80" fill="#a39a8c" fill-opacity="0.55"/>
<rect x="345.44" y="234.38" width="1.46" height="0.80" fill="#a39a8c" fill-opacity="0.55"/>
<rect x="345.44" y="395.62" width="1.46" height="0.80" fill="#a39a8c" fill-opacity="0.55"/>
<rect x="345.44" y="397.02" width="1.46" height="0.80" fill="#a39a8c" fill-opacity="0.55"/>
<rect x="348.50" y="232.37" width="1.46" height="0.80" fill="#a39a8c" fill-opacity="0.55"/>
<rect x="348.50" y="234.38" width="1.46" height="0.80" fill="#a39a8c" fill-opacity="0.55"/>
<rect x="348.50" y="395.62" width="1.46" height="0.80" fill="#a39a8c" fill-opacity="0.55"/>
<rect x="348.50" y="397.02" width="1.46" height="0.80" fill="#a39a8c" fill-opacity="0.55"/>
<rect x="351.56" y="232.37" width="1.46" height="0.80" fill="#a39a8c" fill-opacity="0.55"/>
<rect x="351.56" y="234.38" width="1.46" height="0.80" fill="#a39a8c" fill-opacity="0.55"/>
<rect x="351.56" y="395.62" width="1.46" height="0.80" fill="#a39a8c" fill-opacity="0.55"/>
<rect x="351.56" y="397.02" width="1.46" height="0.80" fill="#a39a8c" fill-opacity="0.55"/>
<rect x="354.61" y="232.37" width="1.46" height="0.80" fill="#a39a8c" fill-opacity="0.55"/>
<rect x="354.61" y="234.38" width="1.46" height="0.80" fill="#a39a8c" fill-opacity="0.55"/>
<rect x="354.61" y="395.62" width="1.46" height="0.80" fill="#a39a8c" fill-opacity="0.55"/>
<rect x="354.61" y="397.02" width="1.46" height="0.80" fill="#a39a8c" fill-opacity="0.55"/>
<rect x="357.67" y="232.37" width="1.46" height="0.80" fill="#a39a8c" fill-opacity="0.55"/>
<rect x="357.67" y="234.38" width="1.46" height="0.80" fill="#a39a8c" fill-opacity="0.55"/>
<rect x="357.67" y="395.62" width="1.46" height="0.80" fill="#a39a8c" fill-opacity="0.55"/>
<rect x="357.67" y="397.02" width="1.46" height="0.80" fill="#a39a8c" fill-opacity="0.55"/>
<rect x="360.72" y="232.37" width="1.46" height="0.80" fill="#a39a8c" fill-opacity="0.55"/>
<rect x="360.72" y="234.38" width="1.46" height="0.80" fill="#a39a8c" fill-opacity="0.55"/>
<rect x="360.72" y="395.62" width="1.46" height="0.80" fill="#a39a8c" fill-opacity="0.55"/>
<rect x="360.72" y="397.02" width="1.46" height="0.80" fill="#a39a8c" fill-opacity="0.55"/>
<rect x="363.78" y="232.37" width="1.46" height="0.80" fill="#a39a8c" fill-opacity="0.55"/>
<rect x="363.78" y="234.38" width="1.46" height="0.80" fill="#a39a8c" fill-opacity="0.55"/>
<rect x="363.78" y="395.62" width="1.46" height="0.80" fill="#a39a8c" fill-opacity="0.55"/>
<rect x="363.78" y="397.02" width="1.46" height="0.80" fill="#a39a8c" fill-opacity="0.55"/>
<rect x="366.83" y="232.37" width="1.46" height="0.80" fill="#a39a8c" fill-opacity="0.55"/>
<rect x="366.83" y="234.38" width="1.46" height="0.80" fill="#a39a8c" fill-opacity="0.55"/>
<rect x="366.83" y="395.62" width="1.46" height="0.80" fill="#a39a8c" fill-opacity="0.55"/>
<rect x="366.83" y="397.02" width="1.46" height="0.80" fill="#a39a8c" fill-opacity="0.55"/>
<rect x="369.89" y="232.37" width="1.46" height="0.80" fill="#a39a8c" fill-opacity="0.55"/>
<rect x="369.89" y="234.38" width="1.46" height="0.80" fill="#a39a8c" fill-opacity="0.55"/>
<rect x="369.89" y="395.62" width="1.46" height="0.80" fill="#a39a8c" fill-opacity="0.55"/>
<rect x="369.89" y="397.02" width="1.46" height="0.80" fill="#a39a8c" fill-opacity="0.55"/>
<rect x="372.94" y="232.37" width="1.46" height="0.80" fill="#a39a8c" fill-opacity="0.55"/>
<rect x="372.94" y="234.38" width="1.46" height="0.80" fill="#a39a8c" fill-opacity="0.55"/>
<rect x="372.94" y="395.62" width="1.46" height="0.80" fill="#a39a8c" fill-opacity="0.55"/>
<rect x="372.94" y="397.02" width="1.46" height="0.80" fill="#a39a8c" fill-opacity="0.55"/>
<rect x="376.00" y="232.37" width="1.46" height="0.80" fill="#a39a8c" fill-opacity="0.55"/>
<rect x="376.00" y="234.38" width="1.46" height="0.80" fill="#a39a8c" fill-opacity="0.55"/>
<rect x="376.00" y="395.62" width="1.46" height="0.80" fill="#a39a8c" fill-opacity="0.55"/>
<rect x="376.00" y="397.02" width="1.46" height="0.80" fill="#a39a8c" fill-opacity="0.55"/>
<rect x="379.05" y="232.37" width="1.46" height="0.80" fill="#a39a8c" fill-opacity="0.55"/>
<rect x="379.05" y="234.38" width="1.46" height="0.80" fill="#a39a8c" fill-opacity="0.55"/>
<rect x="379.05" y="395.62" width="1.46" height="0.80" fill="#a39a8c" fill-opacity="0.55"/>
<rect x="379.05" y="397.02" width="1.46" height="0.80" fill="#a39a8c" fill-opacity="0.55"/>
<rect x="382.11" y="232.37" width="1.46" height="0.80" fill="#a39a8c" fill-opacity="0.55"/>
<rect x="382.11" y="234.38" width="1.46" height="0.80" fill="#a39a8c" fill-opacity="0.55"/>
<rect x="382.11" y="395.62" width="1.46" height="0.80" fill="#a39a8c" fill-opacity="0.55"/>
<rect x="382.11" y="397.02" width="1.46" height="0.80" fill="#a39a8c" fill-opacity="0.55"/>
<rect x="385.17" y="232.37" width="1.46" height="0.80" fill="#a39a8c" fill-opacity="0.55"/>
<rect x="385.17" y="234.38" width="1.46" height="0.80" fill="#a39a8c" fill-opacity="0.55"/>
<rect x="385.17" y="395.62" width="1.46" height="0.80" fill="#a39a8c" fill-opacity="0.55"/>
<rect x="385.17" y="397.02" width="1.46" height="0.80" fill="#a39a8c" fill-opacity="0.55"/>
<rect x="388.22" y="232.37" width="1.46" height="0.80" fill="#a39a8c" fill-opacity="0.55"/>
<rect x="388.22" y="234.38" width="1.46" height="0.80" fill="#a39a8c" fill-opacity="0.55"/>
<rect x="388.22" y="395.62" width="1.46" height="0.80" fill="#a39a8c" fill-opacity="0.55"/>
<rect x="388.22" y="397.02" width="1.46" height="0.80" fill="#a39a8c" fill-opacity="0.55"/>
<rect x="391.28" y="232.37" width="1.46" height="0.80" fill="#a39a8c" fill-opacity="0.55"/>
<rect x="391.28" y="234.38" width="1.46" height="0.80" fill="#a39a8c" fill-opacity="0.55"/>
<rect x="391.28" y="395.62" width="1.46" height="0.80" fill="#a39a8c" fill-opacity="0.55"/>
<rect x="391.28" y="397.02" width="1.46" height="0.80" fill="#a39a8c" fill-opacity="0.55"/>
<rect x="394.33" y="232.37" width="1.46" height="0.80" fill="#a39a8c" fill-opacity="0.55"/>
<rect x="394.33" y="234.38" width="1.46" height="0.80" fill="#a39a8c" fill-opacity="0.55"/>
<rect x="394.33" y="395.62" width="1.46" height="0.80" fill="#a39a8c" fill-opacity="0.55"/>
<rect x="394.33" y="397.02" width="1.46" height="0.80" fill="#a39a8c" fill-opacity="0.55"/>
<rect x="397.39" y="232.37" width="1.46" height="0.80" fill="#a39a8c" fill-opacity="0.55"/>
<rect x="397.39" y="234.38" width="1.46" height="0.80" fill="#a39a8c" fill-opacity="0.55"/>
<rect x="397.39" y="395.62" width="1.46" height="0.80" fill="#a39a8c" fill-opacity="0.55"/>
<rect x="397.39" y="397.02" width="1.46" height="0.80" fill="#a39a8c" fill-opacity="0.55"/>
<rect x="400.44" y="232.37" width="1.46" height="0.80" fill="#a39a8c" fill-opacity="0.55"/>
<rect x="400.44" y="234.38" width="1.46" height="0.80" fill="#a39a8c" fill-opacity="0.55"/>
<rect x="400.44" y="395.62" width="1.46" height="0.80" fill="#a39a8c" fill-opacity="0.55"/>
<rect x="400.44" y="397.02" width="1.46" height="0.80" fill="#a39a8c" fill-opacity="0.55"/>
<rect x="403.50" y="232.37" width="1.46" height="0.80" fill="#a39a8c" fill-opacity="0.55"/>
<rect x="403.50" y="234.38" width="1.46" height="0.80" fill="#a39a8c" fill-opacity="0.55"/>
<rect x="403.50" y="395.62" width="1.46" height="0.80" fill="#a39a8c" fill-opacity="0.55"/>
<rect x="403.50" y="397.02" width="1.46" height="0.80" fill="#a39a8c" fill-opacity="0.55"/>
<rect x="406.55" y="232.37" width="1.46" height="0.80" fill="#a39a8c" fill-opacity="0.55"/>
<rect x="406.55" y="234.38" width="1.46" height="0.80" fill="#a39a8c" fill-opacity="0.55"/>
<rect x="406.55" y="395.62" width="1.46" height="0.80" fill="#a39a8c" fill-opacity="0.55"/>
<rect x="406.55" y="397.02" width="1.46" height="0.80" fill="#a39a8c" fill-opacity="0.55"/>
<rect x="409.61" y="232.37" width="1.46" height="0.80" fill="#a39a8c" fill-opacity="0.55"/>
<rect x="409.61" y="234.38" width="1.46" height="0.80" fill="#a39a8c" fill-opacity="0.55"/>
<rect x="409.61" y="395.62" width="1.46" height="0.80" fill="#a39a8c" fill-opacity="0.55"/>
<rect x="409.61" y="397.02" width="1.46" height="0.80" fill="#a39a8c" fill-opacity="0.55"/>
<rect x="412.66" y="232.37" width="1.46" height="0.80" fill="#a39a8c" fill-opacity="0.55"/>
<rect x="412.66" y="234.38" width="1.46" height="0.80" fill="#a39a8c" fill-opacity="0.55"/>
<rect x="412.66" y="395.62" width="1.46" height="0.80" fill="#a39a8c" fill-opacity="0.55"/>
<rect x="412.66" y="397.02" width="1.46" height="0.80" fill="#a39a8c" fill-opacity="0.55"/>
<rect x="415.72" y="232.37" width="1.46" height="0.80" fill="#a39a8c" fill-opacity="0.55"/>
<rect x="415.72" y="234.38" width="1.46" height="0.80" fill="#a39a8c" fill-opacity="0.55"/>
<rect x="415.72" y="395.62" width="1.46" height="0.80" fill="#a39a8c" fill-opacity="0.55"/>
<rect x="415.72" y="397.02" width="1.46" height="0.80" fill="#a39a8c" fill-opacity="0.55"/>
<rect x="418.77" y="232.37" width="1.46" height="0.80" fill="#a39a8c" fill-opacity="0.55"/>
<rect x="418.77" y="234.38" width="1.46" height="0.80" fill="#a39a8c" fill-opacity="0.55"/>
<rect x="418.77" y="395.62" width="1.46" height="0.80" fill="#a39a8c" fill-opacity="0.55"/>
<rect x="418.77" y="397.02" width="1.46" height="0.80" fill="#a39a8c" fill-opacity="0.55"/>
<rect x="421.83" y="232.37" width="1.46" height="0.80" fill="#a39a8c" fill-opacity="0.55"/>
<rect x="421.83" y="234.38" width="1.46" height="0.80" fill="#a39a8c" fill-opacity="0.55"/>
<rect x="421.83" y="395.62" width="1.46" height="0.80" fill="#a39a8c" fill-opacity="0.55"/>
<rect x="421.83" y="397.02" width="1.46" height="0.80" fill="#a39a8c" fill-opacity="0.55"/>
<rect x="424.89" y="232.37" width="1.46" height="0.80" fill="#a39a8c" fill-opacity="0.55"/>
<rect x="424.89" y="234.38" width="1.46" height="0.80" fill="#a39a8c" fill-opacity="0.55"/>
<rect x="424.89" y="395.62" width="1.46" height="0.80" fill="#a39a8c" fill-opacity="0.55"/>
<rect x="424.89" y="397.02" width="1.46" height="0.80" fill="#a39a8c" fill-opacity="0.55"/>
<rect x="427.94" y="232.37" width="1.46" height="0.80" fill="#a39a8c" fill-opacity="0.55"/>
<rect x="427.94" y="234.38" width="1.46" height="0.80" fill="#a39a8c" fill-opacity="0.55"/>
<rect x="427.94" y="395.62" width="1.46" height="0.80" fill="#a39a8c" fill-opacity="0.55"/>
<rect x="427.94" y="397.02" width="1.46" height="0.80" fill="#a39a8c" fill-opacity="0.55"/>
<rect x="431.00" y="232.37" width="1.46" height="0.80" fill="#a39a8c" fill-opacity="0.55"/>
<rect x="431.00" y="234.38" width="1.46" height="0.80" fill="#a39a8c" fill-opacity="0.55"/>
<rect x="431.00" y="395.62" width="1.46" height="0.80" fill="#a39a8c" fill-opacity="0.55"/>
<rect x="431.00" y="397.02" width="1.46" height="0.80" fill="#a39a8c" fill-opacity="0.55"/>
<rect x="434.05" y="232.37" width="1.46" height="0.80" fill="#a39a8c" fill-opacity="0.55"/>
<rect x="434.05" y="234.38" width="1.46" height="0.80" fill="#a39a8c" fill-opacity="0.55"/>
<rect x="434.05" y="395.62" width="1.46" height="0.80" fill="#a39a8c" fill-opacity="0.55"/>
<rect x="434.05" y="397.02" width="1.46" height="0.80" fill="#a39a8c" fill-opacity="0.55"/>
<rect x="437.11" y="232.37" width="1.46" height="0.80" fill="#a39a8c" fill-opacity="0.55"/>
<rect x="437.11" y="234.38" width="1.46" height="0.80" fill="#a39a8c" fill-opacity="0.55"/>
<rect x="437.11" y="395.62" width="1.46" height="0.80" fill="#a39a8c" fill-opacity="0.55"/>
<rect x="437.11" y="397.02" width="1.46" height="0.80" fill="#a39a8c" fill-opacity="0.55"/>
<rect x="440.16" y="232.37" width="1.46" height="0.80" fill="#a39a8c" fill-opacity="0.55"/>
<rect x="440.16" y="234.38" width="1.46" height="0.80" fill="#a39a8c" fill-opacity="0.55"/>
<rect x="440.16" y="395.62" width="1.46" height="0.80" fill="#a39a8c" fill-opacity="0.55"/>
<rect x="440.16" y="397.02" width="1.46" height="0.80" fill="#a39a8c" fill-opacity="0.55"/>
<rect x="443.22" y="232.37" width="1.46" height="0.80" fill="#a39a8c" fill-opacity="0.55"/>
<rect x="443.22" y="234.38" width="1.46" height="0.80" fill="#a39a8c" fill-opacity="0.55"/>
<rect x="443.22" y="395.62" width="1.46" height="0.80" fill="#a39a8c" fill-opacity="0.55"/>
<rect x="443.22" y="397.02" width="1.46" height="0.80" fill="#a39a8c" fill-opacity="0.55"/>
<rect x="446.27" y="232.37" width="1.46" height="0.80" fill="#a39a8c" fill-opacity="0.55"/>
<rect x="446.27" y="234.38" width="1.46" height="0.80" fill="#a39a8c" fill-opacity="0.55"/>
<rect x="446.27" y="395.62" width="1.46" height="0.80" fill="#a39a8c" fill-opacity="0.55"/>
<rect x="446.27" y="397.02" width="1.46" height="0.80" fill="#a39a8c" fill-opacity="0.55"/>
<rect x="449.33" y="232.37" width="1.46" height="0.80" fill="#a39a8c" fill-opacity="0.55"/>
<rect x="449.33" y="234.38" width="1.46" height="0.80" fill="#a39a8c" fill-opacity="0.55"/>
<rect x="449.33" y="395.62" width="1.46" height="0.80" fill="#a39a8c" fill-opacity="0.55"/>
<rect x="449.33" y="397.02" width="1.46" height="0.80" fill="#a39a8c" fill-opacity="0.55"/>
<rect x="452.38" y="232.37" width="1.46" height="0.80" fill="#a39a8c" fill-opacity="0.55"/>
<rect x="452.38" y="234.38" width="1.46" height="0.80" fill="#a39a8c" fill-opacity="0.55"/>
<rect x="452.38" y="395.62" width="1.46" height="0.80" fill="#a39a8c" fill-opacity="0.55"/>
<rect x="452.38" y="397.02" width="1.46" height="0.80" fill="#a39a8c" fill-opacity="0.55"/>
<rect x="455.44" y="232.37" width="1.46" height="0.80" fill="#a39a8c" fill-opacity="0.55"/>
<rect x="455.44" y="234.38" width="1.46" height="0.80" fill="#a39a8c" fill-opacity="0.55"/>
<rect x="455.44" y="395.62" width="1.46" height="0.80" fill="#a39a8c" fill-opacity="0.55"/>
<rect x="455.44" y="397.02" width="1.46" height="0.80" fill="#a39a8c" fill-opacity="0.55"/>
<rect x="458.50" y="232.37" width="1.46" height="0.80" fill="#a39a8c" fill-opacity="0.55"/>
<rect x="458.50" y="234.38" width="1.46" height="0.80" fill="#a39a8c" fill-opacity="0.55"/>
<rect x="458.50" y="395.62" width="1.46" height="0.80" fill="#a39a8c" fill-opacity="0.55"/>
<rect x="458.50" y="397.02" width="1.46" height="0.80" fill="#a39a8c" fill-opacity="0.55"/>
<rect x="461.55" y="232.37" width="1.46" height="0.80" fill="#a39a8c" fill-opacity="0.55"/>
<rect x="461.55" y="234.38" width="1.46" height="0.80" fill="#a39a8c" fill-opacity="0.55"/>
<rect x="461.55" y="395.62" width="1.46" height="0.80" fill="#a39a8c" fill-opacity="0.55"/>
<rect x="461.55" y="397.02" width="1.46" height="0.80" fill="#a39a8c" fill-opacity="0.55"/>
<rect x="464.61" y="232.37" width="1.46" height="0.80" fill="#a39a8c" fill-opacity="0.55"/>
<rect x="464.61" y="234.38" width="1.46" height="0.80" fill="#a39a8c" fill-opacity="0.55"/>
<rect x="464.61" y="395.62" width="1.46" height="0.80" fill="#a39a8c" fill-opacity="0.55"/>
<rect x="464.61" y="397.02" width="1.46" height="0.80" fill="#a39a8c" fill-opacity="0.55"/>
<rect x="467.66" y="232.37" width="1.46" height="0.80" fill="#a39a8c" fill-opacity="0.55"/>
<rect x="467.66" y="234.38" width="1.46" height="0.80" fill="#a39a8c" fill-opacity="0.55"/>
<rect x="467.66" y="395.62" width="1.46" height="0.80" fill="#a39a8c" fill-opacity="0.55"/>
<rect x="467.66" y="397.02" width="1.46" height="0.80" fill="#a39a8c" fill-opacity="0.55"/>
<rect x="470.72" y="232.37" width="1.46" height="0.80" fill="#a39a8c" fill-opacity="0.55"/>
<rect x="470.72" y="234.38" width="1.46" height="0.80" fill="#a39a8c" fill-opacity="0.55"/>
<rect x="470.72" y="395.62" width="1.46" height="0.80" fill="#a39a8c" fill-opacity="0.55"/>
<rect x="470.72" y="397.02" width="1.46" height="0.80" fill="#a39a8c" fill-opacity="0.55"/>
<rect x="473.77" y="232.37" width="1.46" height="0.80" fill="#a39a8c" fill-opacity="0.55"/>
<rect x="473.77" y="234.38" width="1.46" height="0.80" fill="#a39a8c" fill-opacity="0.55"/>
<rect x="473.77" y="395.62" width="1.46" height="0.80" fill="#a39a8c" fill-opacity="0.55"/>
<rect x="473.77" y="397.02" width="1.46" height="0.80" fill="#a39a8c" fill-opacity="0.55"/>
<rect x="476.83" y="232.37" width="1.46" height="0.80" fill="#a39a8c" fill-opacity="0.55"/>
<rect x="476.83" y="234.38" width="1.46" height="0.80" fill="#a39a8c" fill-opacity="0.55"/>
<rect x="476.83" y="395.62" width="1.46" height="0.80" fill="#a39a8c" fill-opacity="0.55"/>
<rect x="476.83" y="397.02" width="1.46" height="0.80" fill="#a39a8c" fill-opacity="0.55"/>
<rect x="479.88" y="232.37" width="1.46" height="0.80" fill="#a39a8c" fill-opacity="0.55"/>
<rect x="479.88" y="234.38" width="1.46" height="0.80" fill="#a39a8c" fill-opacity="0.55"/>
<rect x="479.88" y="395.62" width="1.46" height="0.80" fill="#a39a8c" fill-opacity="0.55"/>
<rect x="479.88" y="397.02" width="1.46" height="0.80" fill="#a39a8c" fill-opacity="0.55"/>
<rect x="482.94" y="232.37" width="1.46" height="0.80" fill="#a39a8c" fill-opacity="0.55"/>
<rect x="482.94" y="234.38" width="1.46" height="0.80" fill="#a39a8c" fill-opacity="0.55"/>
<rect x="482.94" y="395.62" width="1.46" height="0.80" fill="#a39a8c" fill-opacity="0.55"/>
<rect x="482.94" y="397.02" width="1.46" height="0.80" fill="#a39a8c" fill-opacity="0.55"/>
<rect x="485.99" y="232.37" width="1.46" height="0.80" fill="#a39a8c" fill-opacity="0.55"/>
<rect x="485.99" y="234.38" width="1.46" height="0.80" fill="#a39a8c" fill-opacity="0.55"/>
<rect x="485.99" y="395.62" width="1.46" height="0.80" fill="#a39a8c" fill-opacity="0.55"/>
<rect x="485.99" y="397.02" width="1.46" height="0.80" fill="#a39a8c" fill-opacity="0.55"/>
<rect x="489.05" y="232.37" width="1.46" height="0.80" fill="#a39a8c" fill-opacity="0.55"/>
<rect x="489.05" y="234.38" width="1.46" height="0.80" fill="#a39a8c" fill-opacity="0.55"/>
<rect x="489.05" y="395.62" width="1.46" height="0.80" fill="#a39a8c" fill-opacity="0.55"/>
<rect x="489.05" y="397.02" width="1.46" height="0.80" fill="#a39a8c" fill-opacity="0.55"/>
<rect x="492.11" y="232.37" width="1.46" height="0.80" fill="#a39a8c" fill-opacity="0.55"/>
<rect x="492.11" y="234.38" width="1.46" height="0.80" fill="#a39a8c" fill-opacity="0.55"/>
<rect x="492.11" y="395.62" width="1.46" height="0.80" fill="#a39a8c" fill-opacity="0.55"/>
<rect x="492.11" y="397.02" width="1.46" height="0.80" fill="#a39a8c" fill-opacity="0.55"/>
<rect x="495.16" y="232.37" width="1.46" height="0.80" fill="#a39a8c" fill-opacity="0.55"/>
<rect x="495.16" y="234.38" width="1.46" height="0.80" fill="#a39a8c" fill-opacity="0.55"/>
<rect x="495.16" y="395.62" width="1.46" height="0.80" fill="#a39a8c" fill-opacity="0.55"/>
<rect x="495.16" y="397.02" width="1.46" height="0.80" fill="#a39a8c" fill-opacity="0.55"/>
<rect x="498.22" y="232.37" width="1.46" height="0.80" fill="#a39a8c" fill-opacity="0.55"/>
<rect x="498.22" y="234.38" width="1.46" height="0.80" fill="#a39a8c" fill-opacity="0.55"/>
<rect x="498.22" y="395.62" width="1.46" height="0.80" fill="#a39a8c" fill-opacity="0.55"/>
<rect x="498.22" y="397.02" width="1.46" height="0.80" fill="#a39a8c" fill-opacity="0.55"/>
<rect x="501.27" y="232.37" width="1.46" height="0.80" fill="#a39a8c" fill-opacity="0.55"/>
<rect x="501.27" y="234.38" width="1.46" height="0.80" fill="#a39a8c" fill-opacity="0.55"/>
<rect x="501.27" y="395.62" width="1.46" height="0.80" fill="#a39a8c" fill-opacity="0.55"/>
<rect x="501.27" y="397.02" width="1.46" height="0.80" fill="#a39a8c" fill-opacity="0.55"/>
<rect x="504.33" y="232.37" width="1.46" height="0.80" fill="#a39a8c" fill-opacity="0.55"/>
<rect x="504.33" y="234.38" width="1.46" height="0.80" fill="#a39a8c" fill-opacity="0.55"/>
<rect x="504.33" y="395.62" width="1.46" height="0.80" fill="#a39a8c" fill-opacity="0.55"/>
<rect x="504.33" y="397.02" width="1.46" height="0.80" fill="#a39a8c" fill-opacity="0.55"/>
<rect x="507.38" y="232.37" width="1.46" height="0.80" fill="#a39a8c" fill-opacity="0.55"/>
<rect x="507.38" y="234.38" width="1.46" height="0.80" fill="#a39a8c" fill-opacity="0.55"/>
<rect x="507.38" y="395.62" width="1.46" height="0.80" fill="#a39a8c" fill-opacity="0.55"/>
<rect x="507.38" y="397.02" width="1.46" height="0.80" fill="#a39a8c" fill-opacity="0.55"/>
<rect x="510.44" y="232.37" width="1.46" height="0.80" fill="#a39a8c" fill-opacity="0.55"/>
<rect x="510.44" y="234.38" width="1.46" height="0.80" fill="#a39a8c" fill-opacity="0.55"/>
<rect x="510.44" y="395.62" width="1.46" height="0.80" fill="#a39a8c" fill-opacity="0.55"/>
<rect x="510.44" y="397.02" width="1.46" height="0.80" fill="#a39a8c" fill-opacity="0.55"/>
<rect x="513.49" y="232.37" width="1.46" height="0.80" fill="#a39a8c" fill-opacity="0.55"/>
<rect x="513.49" y="234.38" width="1.46" height="0.80" fill="#a39a8c" fill-opacity="0.55"/>
<rect x="513.49" y="395.62" width="1.46" height="0.80" fill="#a39a8c" fill-opacity="0.55"/>
<rect x="513.49" y="397.02" width="1.46" height="0.80" fill="#a39a8c" fill-opacity="0.55"/>
<rect x="516.55" y="232.37" width="1.46" height="0.80" fill="#a39a8c" fill-opacity="0.55"/>
<rect x="516.55" y="234.38" width="1.46" height="0.80" fill="#a39a8c" fill-opacity="0.55"/>
<rect x="516.55" y="395.62" width="1.46" height="0.80" fill="#a39a8c" fill-opacity="0.55"/>
<rect x="516.55" y="397.02" width="1.46" height="0.80" fill="#a39a8c" fill-opacity="0.55"/>
<rect x="519.60" y="232.37" width="1.46" height="0.80" fill="#a39a8c" fill-opacity="0.55"/>
<rect x="519.60" y="234.38" width="1.46" height="0.80" fill="#a39a8c" fill-opacity="0.55"/>
<rect x="519.60" y="395.62" width="1.46" height="0.80" fill="#a39a8c" fill-opacity="0.55"/>
<rect x="519.60" y="397.02" width="1.46" height="0.80" fill="#a39a8c" fill-opacity="0.55"/>
<rect x="522.66" y="232.37" width="1.46" height="0.80" fill="#a39a8c" fill-opacity="0.55"/>
<rect x="522.66" y="234.38" width="1.46" height="0.80" fill="#a39a8c" fill-opacity="0.55"/>
<rect x="522.66" y="395.62" width="1.46" height="0.80" fill="#a39a8c" fill-opacity="0.55"/>
<rect x="522.66" y="397.02" width="1.46" height="0.80" fill="#a39a8c" fill-opacity="0.55"/>
<rect x="525.72" y="232.37" width="1.46" height="0.80" fill="#a39a8c" fill-opacity="0.55"/>
<rect x="525.72" y="234.38" width="1.46" height="0.80" fill="#a39a8c" fill-opacity="0.55"/>
<rect x="525.72" y="395.62" width="1.46" height="0.80" fill="#a39a8c" fill-opacity="0.55"/>
<rect x="525.72" y="397.02" width="1.46" height="0.80" fill="#a39a8c" fill-opacity="0.55"/>
<rect x="528.77" y="232.37" width="1.46" height="0.80" fill="#a39a8c" fill-opacity="0.55"/>
<rect x="528.77" y="234.38" width="1.46" height="0.80" fill="#a39a8c" fill-opacity="0.55"/>
<rect x="528.77" y="395.62" width="1.46" height="0.80" fill="#a39a8c" fill-opacity="0.55"/>
<rect x="528.77" y="397.02" width="1.46" height="0.80" fill="#a39a8c" fill-opacity="0.55"/>
<rect x="531.83" y="232.37" width="1.46" height="0.80" fill="#a39a8c" fill-opacity="0.55"/>
<rect x="531.83" y="234.38" width="1.46" height="0.80" fill="#a39a8c" fill-opacity="0.55"/>
<rect x="531.83" y="395.62" width="1.46" height="0.80" fill="#a39a8c" fill-opacity="0.55"/>
<rect x="531.83" y="397.02" width="1.46" height="0.80" fill="#a39a8c" fill-opacity="0.55"/>
<rect x="534.88" y="232.37" width="1.46" height="0.80" fill="#a39a8c" fill-opacity="0.55"/>
<rect x="534.88" y="234.38" width="1.46" height="0.80" fill="#a39a8c" fill-opacity="0.55"/>
<rect x="534.88" y="395.62" width="1.46" height="0.80" fill="#a39a8c" fill-opacity="0.55"/>
<rect x="534.88" y="397.02" width="1.46" height="0.80" fill="#a39a8c" fill-opacity="0.55"/>
<rect x="537.94" y="232.37" width="1.46" height="0.80" fill="#a39a8c" fill-opacity="0.55"/>
<rect x="537.94" y="234.38" width="1.46" height="0.80" fill="#a39a8c" fill-opacity="0.55"/>
<rect x="537.94" y="395.62" width="1.46" height="0.80" fill="#a39a8c" fill-opacity="0.55"/>
<rect x="537.94" y="397.02" width="1.46" height="0.80" fill="#a39a8c" fill-opacity="0.55"/>
<rect x="540.99" y="232.37" width="1.46" height="0.80" fill="#a39a8c" fill-opacity="0.55"/>
<rect x="540.99" y="234.38" width="1.46" height="0.80" fill="#a39a8c" fill-opacity="0.55"/>
<rect x="540.99" y="395.62" width="1.46" height="0.80" fill="#a39a8c" fill-opacity="0.55"/>
<rect x="540.99" y="397.02" width="1.46" height="0.80" fill="#a39a8c" fill-opacity="0.55"/>
<rect x="544.05" y="232.37" width="1.46" height="0.80" fill="#a39a8c" fill-opacity="0.55"/>
<rect x="544.05" y="234.38" width="1.46" height="0.80" fill="#a39a8c" fill-opacity="0.55"/>
<rect x="544.05" y="395.62" width="1.46" height="0.80" fill="#a39a8c" fill-opacity="0.55"/>
<rect x="544.05" y="397.02" width="1.46" height="0.80" fill="#a39a8c" fill-opacity="0.55"/>
<rect x="547.10" y="232.37" width="1.46" height="0.80" fill="#a39a8c" fill-opacity="0.55"/>
<rect x="547.10" y="234.38" width="1.46" height="0.80" fill="#a39a8c" fill-opacity="0.55"/>
<rect x="547.10" y="395.62" width="1.46" height="0.80" fill="#a39a8c" fill-opacity="0.55"/>
<rect x="547.10" y="397.02" width="1.46" height="0.80" fill="#a39a8c" fill-opacity="0.55"/>
<rect x="550.16" y="232.37" width="1.46" height="0.80" fill="#a39a8c" fill-opacity="0.55"/>
<rect x="550.16" y="234.38" width="1.46" height="0.80" fill="#a39a8c" fill-opacity="0.55"/>
<rect x="550.16" y="395.62" width="1.46" height="0.80" fill="#a39a8c" fill-opacity="0.55"/>
<rect x="550.16" y="397.02" width="1.46" height="0.80" fill="#a39a8c" fill-opacity="0.55"/>
<rect x="553.21" y="232.37" width="1.46" height="0.80" fill="#a39a8c" fill-opacity="0.55"/>
<rect x="553.21" y="234.38" width="1.46" height="0.80" fill="#a39a8c" fill-opacity="0.55"/>
<rect x="553.21" y="395.62" width="1.46" height="0.80" fill="#a39a8c" fill-opacity="0.55"/>
<rect x="553.21" y="397.02" width="1.46" height="0.80" fill="#a39a8c" fill-opacity="0.55"/>
<rect x="556.27" y="232.37" width="1.46" height="0.80" fill="#a39a8c" fill-opacity="0.55"/>
<rect x="556.27" y="234.38" width="1.46" height="0.80" fill="#a39a8c" fill-opacity="0.55"/>
<rect x="556.27" y="395.62" width="1.46" height="0.80" fill="#a39a8c" fill-opacity="0.55"/>
<rect x="556.27" y="397.02" width="1.46" height="0.80" fill="#a39a8c" fill-opacity="0.55"/>
<rect x="559.32" y="232.37" width="1.46" height="0.80" fill="#a39a8c" fill-opacity="0.55"/>
<rect x="559.32" y="234.38" width="1.46" height="0.80" fill="#a39a8c" fill-opacity="0.55"/>
<rect x="559.32" y="395.62" width="1.46" height="0.80" fill="#a39a8c" fill-opacity="0.55"/>
<rect x="559.32" y="397.02" width="1.46" height="0.80" fill="#a39a8c" fill-opacity="0.55"/>
<rect x="562.38" y="232.37" width="1.46" height="0.80" fill="#a39a8c" fill-opacity="0.55"/>
<rect x="562.38" y="234.38" width="1.46" height="0.80" fill="#a39a8c" fill-opacity="0.55"/>
<rect x="562.38" y="395.62" width="1.46" height="0.80" fill="#a39a8c" fill-opacity="0.55"/>
<rect x="562.38" y="397.02" width="1.46" height="0.80" fill="#a39a8c" fill-opacity="0.55"/>
<rect x="565.44" y="232.37" width="1.46" height="0.80" fill="#a39a8c" fill-opacity="0.55"/>
<rect x="565.44" y="234.38" width="1.46" height="0.80" fill="#a39a8c" fill-opacity="0.55"/>
<rect x="565.44" y="395.62" width="1.46" height="0.80" fill="#a39a8c" fill-opacity="0.55"/>
<rect x="565.44" y="397.02" width="1.46" height="0.80" fill="#a39a8c" fill-opacity="0.55"/>
<rect x="568.49" y="232.37" width="1.46" height="0.80" fill="#a39a8c" fill-opacity="0.55"/>
<rect x="568.49" y="234.38" width="1.46" height="0.80" fill="#a39a8c" fill-opacity="0.55"/>
<rect x="568.49" y="395.62" width="1.46" height="0.80" fill="#a39a8c" fill-opacity="0.55"/>
<rect x="568.49" y="397.02" width="1.46" height="0.80" fill="#a39a8c" fill-opacity="0.55"/>
<rect x="571.55" y="232.37" width="1.46" height="0.80" fill="#a39a8c" fill-opacity="0.55"/>
<rect x="571.55" y="234.38" width="1.46" height="0.80" fill="#a39a8c" fill-opacity="0.55"/>
<rect x="571.55" y="395.62" width="1.46" height="0.80" fill="#a39a8c" fill-opacity="0.55"/>
<rect x="571.55" y="397.02" width="1.46" height="0.80" fill="#a39a8c" fill-opacity="0.55"/>
<rect x="574.60" y="232.37" width="1.46" height="0.80" fill="#a39a8c" fill-opacity="0.55"/>
<rect x="574.60" y="234.38" width="1.46" height="0.80" fill="#a39a8c" fill-opacity="0.55"/>
<rect x="574.60" y="395.62" width="1.46" height="0.80" fill="#a39a8c" fill-opacity="0.55"/>
<rect x="574.60" y="397.02" width="1.46" height="0.80" fill="#a39a8c" fill-opacity="0.55"/>
<rect x="577.66" y="232.37" width="1.46" height="0.80" fill="#a39a8c" fill-opacity="0.55"/>
<rect x="577.66" y="234.38" width="1.46" height="0.80" fill="#a39a8c" fill-opacity="0.55"/>
<rect x="577.66" y="395.62" width="1.46" height="0.80" fill="#a39a8c" fill-opacity="0.55"/>
<rect x="577.66" y="397.02" width="1.46" height="0.80" fill="#a39a8c" fill-opacity="0.55"/>
<rect x="580.71" y="232.37" width="1.46" height="0.80" fill="#a39a8c" fill-opacity="0.55"/>
<rect x="580.71" y="234.38" width="1.46" height="0.80" fill="#a39a8c" fill-opacity="0.55"/>
<rect x="580.71" y="395.62" width="1.46" height="0.80" fill="#a39a8c" fill-opacity="0.55"/>
<rect x="580.71" y="397.02" width="1.46" height="0.80" fill="#a39a8c" fill-opacity="0.55"/>
<rect x="583.77" y="232.37" width="1.46" height="0.80" fill="#a39a8c" fill-opacity="0.55"/>
<rect x="583.77" y="234.38" width="1.46" height="0.80" fill="#a39a8c" fill-opacity="0.55"/>
<rect x="583.77" y="395.62" width="1.46" height="0.80" fill="#a39a8c" fill-opacity="0.55"/>
<rect x="583.77" y="397.02" width="1.46" height="0.80" fill="#a39a8c" fill-opacity="0.55"/>
<rect x="586.82" y="232.37" width="1.46" height="0.80" fill="#a39a8c" fill-opacity="0.55"/>
<rect x="586.82" y="234.38" width="1.46" height="0.80" fill="#a39a8c" fill-opacity="0.55"/>
<rect x="586.82" y="395.62" width="1.46" height="0.80" fill="#a39a8c" fill-opacity="0.55"/>
<rect x="586.82" y="397.02" width="1.46" height="0.80" fill="#a39a8c" fill-opacity="0.55"/>
<rect x="589.88" y="232.37" width="1.46" height="0.80" fill="#a39a8c" fill-opacity="0.55"/>
<rect x="589.88" y="234.38" width="1.46" height="0.80" fill="#a39a8c" fill-opacity="0.55"/>
<rect x="589.88" y="395.62" width="1.46" height="0.80" fill="#a39a8c" fill-opacity="0.55"/>
<rect x="589.88" y="397.02" width="1.46" height="0.80" fill="#a39a8c" fill-opacity="0.55"/>
<rect x="592.93" y="232.37" width="1.46" height="0.80" fill="#a39a8c" fill-opacity="0.55"/>
<rect x="592.93" y="234.38" width="1.46" height="0.80" fill="#a39a8c" fill-opacity="0.55"/>
<rect x="592.93" y="395.62" width="1.46" height="0.80" fill="#a39a8c" fill-opacity="0.55"/>
<rect x="592.93" y="397.02" width="1.46" height="0.80" fill="#a39a8c" fill-opacity="0.55"/>
<rect x="595.99" y="232.37" width="1.46" height="0.80" fill="#a39a8c" fill-opacity="0.55"/>
<rect x="595.99" y="234.38" width="1.46" height="0.80" fill="#a39a8c" fill-opacity="0.55"/>
<rect x="595.99" y="395.62" width="1.46" height="0.80" fill="#a39a8c" fill-opacity="0.55"/>
<rect x="595.99" y="397.02" width="1.46" height="0.80" fill="#a39a8c" fill-opacity="0.55"/>
<rect x="599.05" y="232.37" width="1.46" height="0.80" fill="#a39a8c" fill-opacity="0.55"/>
<rect x="599.05" y="234.38" width="1.46" height="0.80" fill="#a39a8c" fill-opacity="0.55"/>
<rect x="599.05" y="395.62" width="1.46" height="0.80" fill="#a39a8c" fill-opacity="0.55"/>
<rect x="599.05" y="397.02" width="1.46" height="0.80" fill="#a39a8c" fill-opacity="0.55"/>
<rect x="602.10" y="232.37" width="1.46" height="0.80" fill="#a39a8c" fill-opacity="0.55"/>
<rect x="602.10" y="234.38" width="1.46" height="0.80" fill="#a39a8c" fill-opacity="0.55"/>
<rect x="602.10" y="395.62" width="1.46" height="0.80" fill="#a39a8c" fill-opacity="0.55"/>
<rect x="602.10" y="397.02" width="1.46" height="0.80" fill="#a39a8c" fill-opacity="0.55"/>
<rect x="605.16" y="232.37" width="1.46" height="0.80" fill="#a39a8c" fill-opacity="0.55"/>
<rect x="605.16" y="234.38" width="1.46" height="0.80" fill="#a39a8c" fill-opacity="0.55"/>
<rect x="605.16" y="395.62" width="1.46" height="0.80" fill="#a39a8c" fill-opacity="0.55"/>
<rect x="605.16" y="397.02" width="1.46" height="0.80" fill="#a39a8c" fill-opacity="0.55"/>
<rect x="608.21" y="232.37" width="1.46" height="0.80" fill="#a39a8c" fill-opacity="0.55"/>
<rect x="608.21" y="234.38" width="1.46" height="0.80" fill="#a39a8c" fill-opacity="0.55"/>
<rect x="608.21" y="395.62" width="1.46" height="0.80" fill="#a39a8c" fill-opacity="0.55"/>
<rect x="608.21" y="397.02" width="1.46" height="0.80" fill="#a39a8c" fill-opacity="0.55"/>
<rect x="611.27" y="232.37" width="1.46" height="0.80" fill="#a39a8c" fill-opacity="0.55"/>
<rect x="611.27" y="234.38" width="1.46" height="0.80" fill="#a39a8c" fill-opacity="0.55"/>
<rect x="611.27" y="395.62" width="1.46" height="0.80" fill="#a39a8c" fill-opacity="0.55"/>
<rect x="611.27" y="397.02" width="1.46" height="0.80" fill="#a39a8c" fill-opacity="0.55"/>
<rect x="614.32" y="232.37" width="1.46" height="0.80" fill="#a39a8c" fill-opacity="0.55"/>
<rect x="614.32" y="234.38" width="1.46" height="0.80" fill="#a39a8c" fill-opacity="0.55"/>
<rect x="614.32" y="395.62" width="1.46" height="0.80" fill="#a39a8c" fill-opacity="0.55"/>
<rect x="614.32" y="397.02" width="1.46" height="0.80" fill="#a39a8c" fill-opacity="0.55"/>
<rect x="617.38" y="232.37" width="1.46" height="0.80" fill="#a39a8c" fill-opacity="0.55"/>
<rect x="617.38" y="234.38" width="1.46" height="0.80" fill="#a39a8c" fill-opacity="0.55"/>
<rect x="617.38" y="395.62" width="1.46" height="0.80" fill="#a39a8c" fill-opacity="0.55"/>
<rect x="617.38" y="397.02" width="1.46" height="0.80" fill="#a39a8c" fill-opacity="0.55"/>
<rect x="620.43" y="232.37" width="1.46" height="0.80" fill="#a39a8c" fill-opacity="0.55"/>
<rect x="620.43" y="234.38" width="1.46" height="0.80" fill="#a39a8c" fill-opacity="0.55"/>
<rect x="620.43" y="395.62" width="1.46" height="0.80" fill="#a39a8c" fill-opacity="0.55"/>
<rect x="620.43" y="397.02" width="1.46" height="0.80" fill="#a39a8c" fill-opacity="0.55"/>
<rect x="623.49" y="232.37" width="1.46" height="0.80" fill="#a39a8c" fill-opacity="0.55"/>
<rect x="623.49" y="234.38" width="1.46" height="0.80" fill="#a39a8c" fill-opacity="0.55"/>
<rect x="623.49" y="395.62" width="1.46" height="0.80" fill="#a39a8c" fill-opacity="0.55"/>
<rect x="623.49" y="397.02" width="1.46" height="0.80" fill="#a39a8c" fill-opacity="0.55"/>
<rect x="626.54" y="232.37" width="1.46" height="0.80" fill="#a39a8c" fill-opacity="0.55"/>
<rect x="626.54" y="234.38" width="1.46" height="0.80" fill="#a39a8c" fill-opacity="0.55"/>
<rect x="626.54" y="395.62" width="1.46" height="0.80" fill="#a39a8c" fill-opacity="0.55"/>
<rect x="626.54" y="397.02" width="1.46" height="0.80" fill="#a39a8c" fill-opacity="0.55"/>
<path d="M72.20,213.20 L155.72,213.20 A5.60,5.60 0 0 1 161.32,218.80 L161.32,223.80 L161.32,223.80 L66.60,223.80 L66.60,223.80 L66.60,218.80 A5.60,5.60 0 0 1 72.20,213.20 Z" fill="#dfe1f0" />
<path d="M166.92,213.20 L250.44,213.20 A5.60,5.60 0 0 1 256.04,218.80 L256.04,223.80 L256.04,223.80 L161.32,223.80 L161.32,223.80 L161.32,218.80 A5.60,5.60 0 0 1 166.92,213.20 Z" fill="#dfe1f0" />
<path d="M261.64,213.20 L342.10,213.20 A5.60,5.60 0 0 1 347.70,218.80 L347.70,223.80 L347.70,223.80 L256.04,223.80 L256.04,223.80 L256.04,218.80 A5.60,5.60 0 0 1 261.64,213.20 Z" fill="#dfe1f0" />
<path d="M353.30,213.20 L436.82,213.20 A5.60,5.60 0 0 1 442.42,218.80 L442.42,223.80 L442.42,223.80 L347.70,223.80 L347.70,223.80 L347.70,218.80 A5.60,5.60 0 0 1 353.30,213.20 Z" fill="#dfe1f0" />
<path d="M448.02,213.20 L528.48,213.20 A5.60,5.60 0 0 1 534.08,218.80 L534.08,223.80 L534.08,223.80 L442.42,223.80 L442.42,223.80 L442.42,218.80 A5.60,5.60 0 0 1 448.02,213.20 Z" fill="#dfe1f0" />
<path d="M539.68,213.20 L623.20,213.20 A5.60,5.60 0 0 1 628.80,218.80 L628.80,223.80 L628.80,223.80 L534.08,223.80 L534.08,223.80 L534.08,218.80 A5.60,5.60 0 0 1 539.68,213.20 Z" fill="#dfe1f0" />
<rect x="66.60" y="218.80" width="562.20" height="5.00" fill="#dfe1f0" />
<text x="108.81" y="220.70" font-size="6.6" fill="#2a2a30" font-weight="bold" text-anchor="start" textLength="10.30" lengthAdjust="spacingAndGlyphs" stroke="#2a2a30" stroke-width="0.1">July</text>
<text x="199.81" y="220.70" font-size="6.6" fill="#2a2a30" font-weight="bold" text-anchor="start" textLength="17.73" lengthAdjust="spacingAndGlyphs" stroke="#2a2a30" stroke-width="0.1">August</text>
<text x="288.57" y="220.70" font-size="6.6" fill="#2a2a30" font-weight="bold" text-anchor="start" textLength="26.61" lengthAdjust="spacingAndGlyphs" stroke="#2a2a30" stroke-width="0.1">September</text>
<text x="385.19" y="220.70" font-size="6.6" fill="#2a2a30" font-weight="bold" text-anchor="start" textLength="19.74" lengthAdjust="spacingAndGlyphs" stroke="#2a2a30" stroke-width="0.1">October</text>
<text x="475.66" y="220.70" font-size="6.6" fill="#2a2a30" font-weight="bold" text-anchor="start" textLength="25.18" lengthAdjust="spacingAndGlyphs" stroke="#2a2a30" stroke-width="0.1">November</text>
<text x="568.99" y="220.70" font-size="6.6" fill="#2a2a30" font-weight="bold" text-anchor="start" textLength="24.89" lengthAdjust="spacingAndGlyphs" stroke="#2a2a30" stroke-width="0.1">December</text>
<rect x="66.60" y="223.60" width="562.20" height="7.60" fill="#e4e6f2" />
<line x1="81.88" y1="224.10" x2="81.88" y2="231.20" stroke="#c6d4f1" stroke-width="0.5" />
<text x="68.98" y="228.30" font-size="3.3" fill="#3a3a42" font-weight="bold" text-anchor="start" textLength="10.52" lengthAdjust="spacingAndGlyphs">Week 27</text>
<line x1="103.27" y1="224.10" x2="103.27" y2="231.20" stroke="#c6d4f1" stroke-width="0.5" />
<text x="87.31" y="228.30" font-size="3.3" fill="#3a3a42" font-weight="bold" text-anchor="start" textLength="10.52" lengthAdjust="spacingAndGlyphs">Week 28</text>
<line x1="124.65" y1="224.10" x2="124.65" y2="231.20" stroke="#c6d4f1" stroke-width="0.5" />
<text x="108.70" y="228.30" font-size="3.3" fill="#3a3a42" font-weight="bold" text-anchor="start" textLength="10.52" lengthAdjust="spacingAndGlyphs">Week 29</text>
<line x1="146.04" y1="224.10" x2="146.04" y2="231.20" stroke="#c6d4f1" stroke-width="0.5" />
<text x="130.09" y="228.30" font-size="3.3" fill="#3a3a42" font-weight="bold" text-anchor="start" textLength="10.52" lengthAdjust="spacingAndGlyphs">Week 30</text>
<line x1="167.43" y1="224.10" x2="167.43" y2="231.20" stroke="#c6d4f1" stroke-width="0.5" />
<text x="151.48" y="228.30" font-size="3.3" fill="#3a3a42" font-weight="bold" text-anchor="start" textLength="10.52" lengthAdjust="spacingAndGlyphs">Week 31</text>
<line x1="188.82" y1="224.10" x2="188.82" y2="231.20" stroke="#c6d4f1" stroke-width="0.5" />
<text x="172.86" y="228.30" font-size="3.3" fill="#3a3a42" font-weight="bold" text-anchor="start" textLength="10.52" lengthAdjust="spacingAndGlyphs">Week 32</text>
<line x1="210.21" y1="224.10" x2="210.21" y2="231.20" stroke="#c6d4f1" stroke-width="0.5" />
<text x="194.25" y="228.30" font-size="3.3" fill="#3a3a42" font-weight="bold" text-anchor="start" textLength="10.52" lengthAdjust="spacingAndGlyphs">Week 33</text>
<line x1="231.59" y1="224.10" x2="231.59" y2="231.20" stroke="#c6d4f1" stroke-width="0.5" />
<text x="215.64" y="228.30" font-size="3.3" fill="#3a3a42" font-weight="bold" text-anchor="start" textLength="10.52" lengthAdjust="spacingAndGlyphs">Week 34</text>
<line x1="252.98" y1="224.10" x2="252.98" y2="231.20" stroke="#c6d4f1" stroke-width="0.5" />
<text x="237.03" y="228.30" font-size="3.3" fill="#3a3a42" font-weight="bold" text-anchor="start" textLength="10.52" lengthAdjust="spacingAndGlyphs">Week 35</text>
<line x1="274.37" y1="224.10" x2="274.37" y2="231.20" stroke="#c6d4f1" stroke-width="0.5" />
<text x="258.42" y="228.30" font-size="3.3" fill="#3a3a42" font-weight="bold" text-anchor="start" textLength="10.52" lengthAdjust="spacingAndGlyphs">Week 36</text>
<line x1="295.76" y1="224.10" x2="295.76" y2="231.20" stroke="#c6d4f1" stroke-width="0.5" />
<text x="279.80" y="228.30" font-size="3.3" fill="#3a3a42" font-weight="bold" text-anchor="start" textLength="10.52" lengthAdjust="spacingAndGlyphs">Week 37</text>
<line x1="317.15" y1="224.10" x2="317.15" y2="231.20" stroke="#c6d4f1" stroke-width="0.5" />
<text x="301.19" y="228.30" font-size="3.3" fill="#3a3a42" font-weight="bold" text-anchor="start" textLength="10.52" lengthAdjust="spacingAndGlyphs">Week 38</text>
<line x1="338.53" y1="224.10" x2="338.53" y2="231.20" stroke="#c6d4f1" stroke-width="0.5" />
<text x="322.58" y="228.30" font-size="3.3" fill="#3a3a42" font-weight="bold" text-anchor="start" textLength="10.52" lengthAdjust="spacingAndGlyphs">Week 39</text>
<line x1="359.92" y1="224.10" x2="359.92" y2="231.20" stroke="#c6d4f1" stroke-width="0.5" />
<text x="343.97" y="228.30" font-size="3.3" fill="#3a3a42" font-weight="bold" text-anchor="start" textLength="10.52" lengthAdjust="spacingAndGlyphs">Week 40</text>
<line x1="381.31" y1="224.10" x2="381.31" y2="231.20" stroke="#c6d4f1" stroke-width="0.5" />
<text x="365.36" y="228.30" font-size="3.3" fill="#3a3a42" font-weight="bold" text-anchor="start" textLength="10.52" lengthAdjust="spacingAndGlyphs">Week 41</text>
<line x1="402.70" y1="224.10" x2="402.70" y2="231.20" stroke="#c6d4f1" stroke-width="0.5" />
<text x="386.74" y="228.30" font-size="3.3" fill="#3a3a42" font-weight="bold" text-anchor="start" textLength="10.52" lengthAdjust="spacingAndGlyphs">Week 42</text>
<line x1="424.09" y1="224.10" x2="424.09" y2="231.20" stroke="#c6d4f1" stroke-width="0.5" />
<text x="408.13" y="228.30" font-size="3.3" fill="#3a3a42" font-weight="bold" text-anchor="start" textLength="10.52" lengthAdjust="spacingAndGlyphs">Week 43</text>
<line x1="445.47" y1="224.10" x2="445.47" y2="231.20" stroke="#c6d4f1" stroke-width="0.5" />
<text x="429.52" y="228.30" font-size="3.3" fill="#3a3a42" font-weight="bold" text-anchor="start" textLength="10.52" lengthAdjust="spacingAndGlyphs">Week 44</text>
<line x1="466.86" y1="224.10" x2="466.86" y2="231.20" stroke="#c6d4f1" stroke-width="0.5" />
<text x="450.91" y="228.30" font-size="3.3" fill="#3a3a42" font-weight="bold" text-anchor="start" textLength="10.52" lengthAdjust="spacingAndGlyphs">Week 45</text>
<line x1="488.25" y1="224.10" x2="488.25" y2="231.20" stroke="#c6d4f1" stroke-width="0.5" />
<text x="472.30" y="228.30" font-size="3.3" fill="#3a3a42" font-weight="bold" text-anchor="start" textLength="10.52" lengthAdjust="spacingAndGlyphs">Week 46</text>
<line x1="509.64" y1="224.10" x2="509.64" y2="231.20" stroke="#c6d4f1" stroke-width="0.5" />
<text x="493.69" y="228.30" font-size="3.3" fill="#3a3a42" font-weight="bold" text-anchor="start" textLength="10.52" lengthAdjust="spacingAndGlyphs">Week 47</text>
<line x1="531.03" y1="224.10" x2="531.03" y2="231.20" stroke="#c6d4f1" stroke-width="0.5" />
<text x="515.07" y="228.30" font-size="3.3" fill="#3a3a42" font-weight="bold" text-anchor="start" textLength="10.52" lengthAdjust="spacingAndGlyphs">Week 48</text>
<line x1="552.41" y1="224.10" x2="552.41" y2="231.20" stroke="#c6d4f1" stroke-width="0.5" />
<text x="536.46" y="228.30" font-size="3.3" fill="#3a3a42" font-weight="bold" text-anchor="start" textLength="10.52" lengthAdjust="spacingAndGlyphs">Week 49</text>
<line x1="573.80" y1="224.10" x2="573.80" y2="231.20" stroke="#c6d4f1" stroke-width="0.5" />
<text x="557.85" y="228.30" font-size="3.3" fill="#3a3a42" font-weight="bold" text-anchor="start" textLength="10.52" lengthAdjust="spacingAndGlyphs">Week 50</text>
<line x1="595.19" y1="224.10" x2="595.19" y2="231.20" stroke="#c6d4f1" stroke-width="0.5" />
<text x="579.24" y="228.30" font-size="3.3" fill="#3a3a42" font-weight="bold" text-anchor="start" textLength="10.52" lengthAdjust="spacingAndGlyphs">Week 51</text>
<line x1="616.58" y1="224.10" x2="616.58" y2="231.20" stroke="#c6d4f1" stroke-width="0.5" />
<text x="600.63" y="228.30" font-size="3.3" fill="#3a3a42" font-weight="bold" text-anchor="start" textLength="10.52" lengthAdjust="spacingAndGlyphs">Week 52</text>
<line x1="628.80" y1="224.10" x2="628.80" y2="231.20" stroke="#c6d4f1" stroke-width="0.5" />
<text x="617.43" y="228.30" font-size="3.3" fill="#3a3a42" font-weight="bold" text-anchor="start" textLength="10.52" lengthAdjust="spacingAndGlyphs">Week 53</text>
<text x="7.65" y="234.85" font-size="2.6" fill="#3c66b8" font-weight="bold" text-anchor="middle" >1</text>
<text x="631.80" y="234.85" font-size="2.6" fill="#3c66b8" font-weight="bold" text-anchor="middle" >1</text>
<text x="7.65" y="240.33" font-size="2.6" fill="#3c66b8" font-weight="bold" text-anchor="middle" >2</text>
<text x="631.80" y="240.33" font-size="2.6" fill="#3c66b8" font-weight="bold" text-anchor="middle" >2</text>
<text x="7.65" y="245.98" font-size="2.6" fill="#3c66b8" font-weight="bold" text-anchor="middle" >3</text>
<text x="631.80" y="245.98" font-size="2.6" fill="#3c66b8" font-weight="bold" text-anchor="middle" >3</text>
<text x="7.65" y="251.63" font-size="2.6" fill="#3c66b8" font-weight="bold" text-anchor="middle" >4</text>
<text x="631.80" y="251.63" font-size="2.6" fill="#3c66b8" font-weight="bold" text-anchor="middle" >4</text>
<text x="7.65" y="257.29" font-size="2.6" fill="#3c66b8" font-weight="bold" text-anchor="middle" >5</text>
<text x="631.80" y="257.29" font-size="2.6" fill="#3c66b8" font-weight="bold" text-anchor="middle" >5</text>
<text x="7.65" y="262.94" font-size="2.6" fill="#3c66b8" font-weight="bold" text-anchor="middle" >6</text>
<text x="631.80" y="262.94" font-size="2.6" fill="#3c66b8" font-weight="bold" text-anchor="middle" >6</text>
<text x="7.65" y="268.60" font-size="2.6" fill="#3c66b8" font-weight="bold" text-anchor="middle" >7</text>
<text x="631.80" y="268.60" font-size="2.6" fill="#3c66b8" font-weight="bold" text-anchor="middle" >7</text>
<text x="7.65" y="274.25" font-size="2.6" fill="#3c66b8" font-weight="bold" text-anchor="middle" >8</text>
<text x="631.80" y="274.25" font-size="2.6" fill="#3c66b8" font-weight="bold" text-anchor="middle" >8</text>
<text x="7.65" y="279.90" font-size="2.6" fill="#3c66b8" font-weight="bold" text-anchor="middle" >9</text>
<text x="631.80" y="279.90" font-size="2.6" fill="#3c66b8" font-weight="bold" text-anchor="middle" >9</text>
<text x="7.65" y="285.56" font-size="2.6" fill="#3c66b8" font-weight="bold" text-anchor="middle" >10</text>
<text x="631.80" y="285.56" font-size="2.6" fill="#3c66b8" font-weight="bold" text-anchor="middle" >10</text>
<text x="7.65" y="291.21" font-size="2.6" fill="#3c66b8" font-weight="bold" text-anchor="middle" >11</text>
<text x="631.80" y="291.21" font-size="2.6" fill="#3c66b8" font-weight="bold" text-anchor="middle" >11</text>
<text x="7.65" y="296.87" font-size="2.6" fill="#3c66b8" font-weight="bold" text-anchor="middle" >12</text>
<text x="631.80" y="296.87" font-size="2.6" fill="#3c66b8" font-weight="bold" text-anchor="middle" >12</text>
<text x="7.65" y="302.52" font-size="2.6" fill="#3c66b8" font-weight="bold" text-anchor="middle" >13</text>
<text x="631.80" y="302.52" font-size="2.6" fill="#3c66b8" font-weight="bold" text-anchor="middle" >13</text>
<text x="7.65" y="308.18" font-size="2.6" fill="#3c66b8" font-weight="bold" text-anchor="middle" >14</text>
<text x="631.80" y="308.18" font-size="2.6" fill="#3c66b8" font-weight="bold" text-anchor="middle" >14</text>
<text x="7.65" y="313.83" font-size="2.6" fill="#3c66b8" font-weight="bold" text-anchor="middle" >15</text>
<text x="631.80" y="313.83" font-size="2.6" fill="#3c66b8" font-weight="bold" text-anchor="middle" >15</text>
<text x="7.65" y="319.48" font-size="2.6" fill="#3c66b8" font-weight="bold" text-anchor="middle" >16</text>
<text x="631.80" y="319.48" font-size="2.6" fill="#3c66b8" font-weight="bold" text-anchor="middle" >16</text>
<text x="7.65" y="325.14" font-size="2.6" fill="#3c66b8" font-weight="bold" text-anchor="middle" >17</text>
<text x="631.80" y="325.14" font-size="2.6" fill="#3c66b8" font-weight="bold" text-anchor="middle" >17</text>
<text x="7.65" y="330.79" font-size="2.6" fill="#3c66b8" font-weight="bold" text-anchor="middle" >18</text>
<text x="631.80" y="330.79" font-size="2.6" fill="#3c66b8" font-weight="bold" text-anchor="middle" >18</text>
<text x="7.65" y="336.44" font-size="2.6" fill="#3c66b8" font-weight="bold" text-anchor="middle" >19</text>
<text x="631.80" y="336.44" font-size="2.6" fill="#3c66b8" font-weight="bold" text-anchor="middle" >19</text>
<text x="7.65" y="342.10" font-size="2.6" fill="#3c66b8" font-weight="bold" text-anchor="middle" >20</text>
<text x="631.80" y="342.10" font-size="2.6" fill="#3c66b8" font-weight="bold" text-anchor="middle" >20</text>
<text x="7.65" y="347.75" font-size="2.6" fill="#3c66b8" font-weight="bold" text-anchor="middle" >21</text>
<text x="631.80" y="347.75" font-size="2.6" fill="#3c66b8" font-weight="bold" text-anchor="middle" >21</text>
<text x="7.65" y="353.41" font-size="2.6" fill="#3c66b8" font-weight="bold" text-anchor="middle" >22</text>
<text x="631.80" y="353.41" font-size="2.6" fill="#3c66b8" font-weight="bold" text-anchor="middle" >22</text>
<text x="7.65" y="359.06" font-size="2.6" fill="#3c66b8" font-weight="bold" text-anchor="middle" >23</text>
<text x="631.80" y="359.06" font-size="2.6" fill="#3c66b8" font-weight="bold" text-anchor="middle" >23</text>
<text x="7.65" y="364.72" font-size="2.6" fill="#3c66b8" font-weight="bold" text-anchor="middle" >24</text>
<text x="631.80" y="364.72" font-size="2.6" fill="#3c66b8" font-weight="bold" text-anchor="middle" >24</text>
<text x="7.65" y="370.37" font-size="2.6" fill="#3c66b8" font-weight="bold" text-anchor="middle" >25</text>
<text x="631.80" y="370.37" font-size="2.6" fill="#3c66b8" font-weight="bold" text-anchor="middle" >25</text>
<text x="7.65" y="376.02" font-size="2.6" fill="#3c66b8" font-weight="bold" text-anchor="middle" >26</text>
<text x="631.80" y="376.02" font-size="2.6" fill="#3c66b8" font-weight="bold" text-anchor="middle" >26</text>
<text x="7.65" y="381.68" font-size="2.6" fill="#3c66b8" font-weight="bold" text-anchor="middle" >27</text>
<text x="631.80" y="381.68" font-size="2.6" fill="#3c66b8" font-weight="bold" text-anchor="middle" >27</text>
<text x="7.65" y="387.33" font-size="2.6" fill="#3c66b8" font-weight="bold" text-anchor="middle" >28</text>
<text x="631.80" y="387.33" font-size="2.6" fill="#3c66b8" font-weight="bold" text-anchor="middle" >28</text>
<text x="7.65" y="392.99" font-size="2.6" fill="#3c66b8" font-weight="bold" text-anchor="middle" >29</text>
<text x="631.80" y="392.99" font-size="2.6" fill="#3c66b8" font-weight="bold" text-anchor="middle" >29</text>
<text x="7.65" y="397.66" font-size="2.6" fill="#3c66b8" font-weight="bold" text-anchor="middle" >30</text>
<text x="631.80" y="397.66" font-size="2.6" fill="#3c66b8" font-weight="bold" text-anchor="middle" >30</text>
<rect x="354.50" y="176.00" width="5.20" height="26.40" fill="#ffffff" fill-opacity="0.92"/>
<text x="357.00" y="189.20" font-size="1.6" fill="#8fa6d8" font-weight="normal" text-anchor="middle" transform="rotate(-90 357.0 189.2)" textLength="25" lengthAdjust="spacingAndGlyphs">Legamaster · 7-100001 · Made in NL</text>
<rect x="607.90" y="361.00" width="5.90" height="31.80" fill="#ffffff" fill-opacity="0.92"/>
<text x="610.00" y="376.90" font-size="1.6" fill="#8fa6d8" font-weight="normal" text-anchor="middle" transform="rotate(-90 610.0 376.9)" textLength="30" lengthAdjust="spacingAndGlyphs">Legamaster International · 7-100001</text>
<text x="612.60" y="376.90" font-size="1.6" fill="#8fa6d8" font-weight="normal" text-anchor="middle" transform="rotate(-90 612.6 376.9)" textLength="30" lengthAdjust="spacingAndGlyphs">www.legamaster.com · year planner</text>
<rect x="67.50" y="189.60" width="1.90" height="12.20" fill="#ffffff" fill-opacity="0.9"/>
<text x="69.00" y="195.70" font-size="1.4" fill="#8fa6d8" font-weight="normal" text-anchor="middle" transform="rotate(-90 69.0 195.7)" textLength="11" lengthAdjust="spacingAndGlyphs">7-100001 NL</text>
<path d="M10.80,400.00 L534.00,400.00 L534.00,400.00 L534.00,416.80 A5.00,5.00 0 0 1 529.00,421.80 L15.80,421.80 A5.00,5.00 0 0 1 10.80,416.80 L10.80,400.00 L10.80,400.00 Z" fill="#dcdfe8" />
<text x="12.50" y="404.20" font-size="3.0" fill="#2a2a2a" font-weight="bold" text-anchor="start" textLength="7.4" lengthAdjust="spacingAndGlyphs">Notes:</text>
<rect x="534.20" y="399.80" width="49.00" height="15.00" fill="#dde1e9" />
<rect x="583.40" y="399.80" width="44.80" height="14.60" fill="#e8eaef" />
<line x1="534.40" y1="399.80" x2="534.40" y2="414.80" stroke="#c0cde6" stroke-width="0.7" />
<line x1="583.20" y1="399.80" x2="583.20" y2="414.50" stroke="#f2f4f8" stroke-width="0.6" />
<text x="537.00" y="403.00" font-size="1.8" fill="#7a7a80" font-weight="normal" text-anchor="start" textLength="18.8" lengthAdjust="spacingAndGlyphs">Made in the Netherlands</text>
<text x="625.70" y="404.00" font-size="2.4" fill="#2a2a30" font-weight="bold" text-anchor="end" textLength="30.9" lengthAdjust="spacingAndGlyphs">Legamaster International B.V.</text>
<text x="625.70" y="405.90" font-size="1.5" fill="#85858c" font-weight="normal" text-anchor="end" textLength="38.5" lengthAdjust="spacingAndGlyphs">Kamerlingh Onnesweg 3 · 4131 PK Culemborg · The Netherlands</text>
<text x="625.70" y="408.00" font-size="1.5" fill="#85858c" font-weight="normal" text-anchor="end" textLength="37" lengthAdjust="spacingAndGlyphs">Tel. +31 345 516 · +31 345 516 · info@legamaster.com</text>
<text x="607.70" y="411.00" font-size="1.5" fill="#85858c" font-weight="normal" text-anchor="end" textLength="7.7" lengthAdjust="spacingAndGlyphs">Legamaster</text>
<text x="608.80" y="413.10" font-size="1.5" fill="#85858c" font-weight="normal" text-anchor="end" textLength="18.8" lengthAdjust="spacingAndGlyphs">part of the edding group</text>
<rect x="609.20" y="409.90" width="2.10" height="3.20" fill="#1f56b0" />
<rect x="611.70" y="409.90" width="13.30" height="3.20" fill="#e3252b" />
<text x="612.60" y="412.50" font-size="2.6" fill="#ffffff" font-weight="bold" text-anchor="start" textLength="11.5" lengthAdjust="spacingAndGlyphs">edding</text>
<rect x="10.80" y="398.60" width="623.60" height="0.90" fill="#1f5fb5" />
</svg>
</body></html>
